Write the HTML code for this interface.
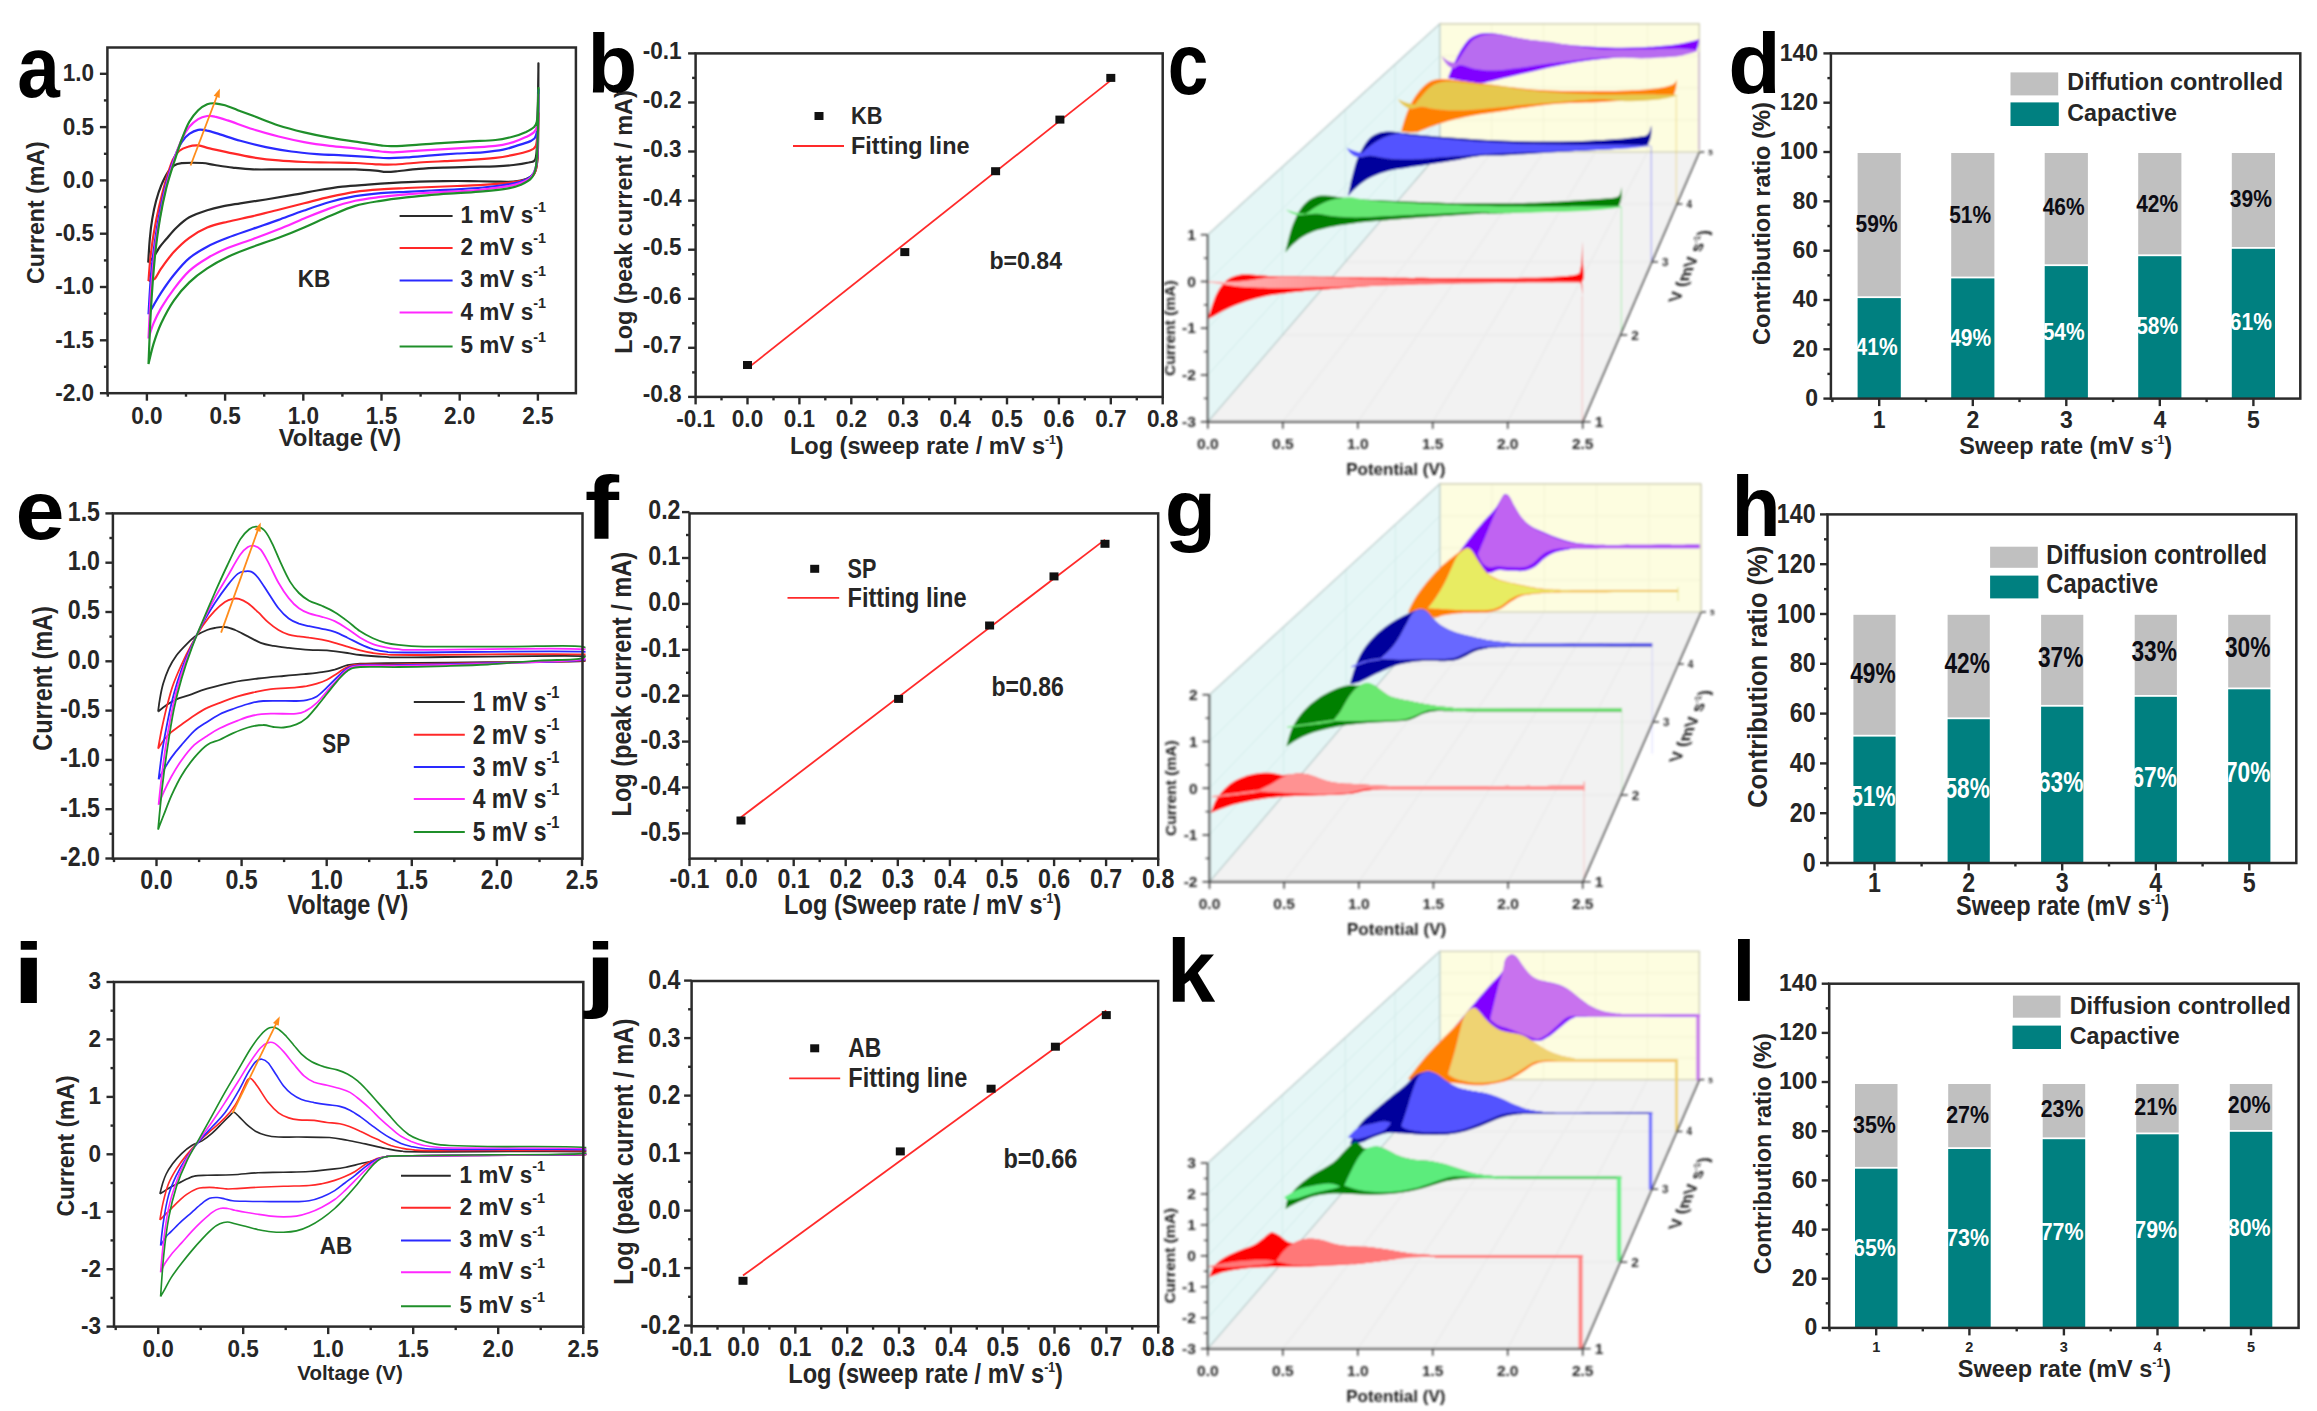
<!DOCTYPE html>
<html lang="en"><head><meta charset="utf-8"><title>Figure</title>
<style>html,body{margin:0;padding:0;background:#fff}svg{display:block}</style></head>
<body>
<svg width="2317" height="1411" viewBox="0 0 2317 1411" font-family="'Liberation Sans', Arial, sans-serif">
<defs><filter id="soft" filterUnits="userSpaceOnUse" x="1140" y="0" width="620" height="1411"><feGaussianBlur stdDeviation="1.1"/></filter><linearGradient id="pinkgrad" x1="0" y1="0" x2="1" y2="0"><stop offset="0" stop-color="#ffb4b4"/><stop offset="0.35" stop-color="#ff9090"/><stop offset="1" stop-color="#ff3c3c"/></linearGradient></defs>
<rect width="2317" height="1411" fill="#ffffff"/>
<clipPath id="ca"><rect x="107.4" y="42.5" width="471.5" height="350.7"/></clipPath>
<g clip-path="url(#ca)" fill="none" stroke-width="2.2" stroke-linejoin="round">
<path d="M148.2,262.5C148.5,258.6 149.1,246.3 149.8,239C150.4,231.7 151.2,225 152.3,218.6C153.4,212.2 154.6,206.3 156.1,200.8C157.6,195.2 159.3,190.1 161.2,185.4C163.2,180.8 165.5,176 167.6,172.7C169.7,169.4 171.7,167.1 174,165.5C176.3,164 177,163.7 181.7,163.2C186.3,162.8 196.5,162.7 202.1,163C207.6,163.3 209.7,164.3 214.8,165C219.9,165.8 226.3,166.9 232.7,167.6C239.1,168.3 245.4,169.1 253.1,169.4C260.8,169.7 270.1,169.4 278.6,169.4C287.1,169.4 295.6,169.4 304.1,169.4C312.6,169.4 321.1,169.4 329.7,169.4C338.2,169.4 347.5,169.2 355.2,169.4C362.8,169.6 370.5,170.2 375.6,170.6C380.7,171.1 382.4,171.8 385.8,171.9C389.2,172 390.5,171.9 396,171.4C401.5,170.9 410.9,169.5 419,168.9C427,168.2 436,167.9 444.5,167.6C453,167.2 461.5,167 470,166.8C478.5,166.6 488.3,166.6 495.5,166.3C502.7,166 507.8,165.7 513.4,165C518.9,164.4 525,163.4 528.7,162.5C532.3,161.5 533.9,162.8 535.3,159.4C536.7,156 536.7,151.3 537.1,142.1C537.5,132.8 537.7,115.8 537.9,103.8C538.1,91.8 538.3,75.7 538.4,70.1C538.5,64.5 538.4,58.1 538.4,70.1C538.3,82.1 538.3,126.7 538.1,142.1C537.9,157.5 537.7,157.3 537.1,162.5C536.5,167.7 536.1,170.4 534.3,173.2C532.5,176 529.6,177.7 526.1,179.1C522.6,180.5 518.5,181.2 513.4,181.6C508.3,182 502.7,181.7 495.5,181.6C488.3,181.5 478.5,181.2 470,181.1C461.5,181 453,181 444.5,181.1C436,181.2 427.5,181.3 419,181.6C410.5,181.9 401.9,182.4 393.4,182.9C384.9,183.4 376.4,184 367.9,184.7C359.4,185.3 350.9,185.7 342.4,186.7C333.9,187.7 325.4,189.1 316.9,190.5C308.4,192 299.9,193.7 291.4,195.1C282.9,196.6 274.4,198.1 265.9,199.5C257.4,200.8 247.6,202.2 240.3,203.3C233.1,204.5 228,205.2 222.5,206.4C217,207.5 212.7,208.4 207.2,210.2C201.6,212 194.4,214.4 189.3,217.3C184.2,220.2 180.4,223.9 176.6,227.5C172.7,231.2 169.1,235.8 166.3,239C163.6,242.2 162.1,243.7 160,246.7C157.8,249.7 155.5,254.3 153.6,256.9C151.6,259.5 149.1,261.6 148.2,262.5" stroke="#2a2a2a"/>
<path d="M148.5,281.1C148.8,277.1 149.6,265.2 150.5,256.9C151.5,248.6 152.6,239.9 154.1,231.4C155.5,222.9 157.2,214.4 159.2,205.9C161.2,197.4 163.6,188 165.8,180.3C168.1,172.7 170.5,164.8 172.7,159.9C174.9,155 176.6,153.2 179.1,151C181.7,148.8 184.8,147.6 188,146.7C191.2,145.7 194.6,145.1 198.2,145.4C201.9,145.7 204.8,147.3 209.7,148.4C214.6,149.6 220.4,150.8 227.6,152.3C234.8,153.8 244.6,156 253.1,157.4C261.6,158.7 270.1,159.7 278.6,160.4C287.1,161.2 295.6,161.6 304.1,162C312.6,162.3 321.1,162.3 329.7,162.5C338.2,162.7 347.5,162.7 355.2,163C362.8,163.3 369.2,164 375.6,164.3C382,164.5 386.2,164.8 393.4,164.5C400.7,164.2 410.5,163 419,162.5C427.5,161.9 436,161.6 444.5,161.2C453,160.8 461.5,160.5 470,159.9C478.5,159.4 488.3,158.7 495.5,157.9C502.7,157 507.8,156 513.4,154.8C518.9,153.7 524.9,152.5 528.7,151C532.4,149.5 534.3,149.5 535.8,145.9C537.3,142.3 537.2,134.2 537.6,129.3C538,124.4 538.2,118.7 538.4,116.6C538.5,114.4 538.5,110.2 538.4,116.6C538.2,122.9 538,145.9 537.6,154.8C537.2,163.8 536.9,166.4 535.8,170.1C534.8,173.9 533.7,175.5 531.2,177.3C528.8,179.1 524.9,179.9 521,180.9C517.2,181.8 514.6,182.2 508.3,182.9C501.9,183.6 491.3,184.4 482.8,184.9C474.2,185.4 465.7,185.6 457.2,186C448.7,186.3 440.2,186.6 431.7,187C423.2,187.3 414.7,187.6 406.2,188C397.7,188.4 389.2,188.6 380.7,189.3C372.2,189.9 363.7,190.5 355.2,191.8C346.7,193.1 338.2,195 329.7,196.9C321.1,198.8 312.6,201.2 304.1,203.3C295.6,205.4 287.1,207.6 278.6,209.7C270.1,211.8 261.6,214.1 253.1,216.1C244.6,218.1 235.2,219.8 227.6,221.7C219.9,223.6 213.5,224.9 207.2,227.5C200.8,230.2 194.8,233.7 189.3,237.8C183.8,241.8 178.7,246.7 174,251.8C169.3,256.9 164.4,263.9 161.2,268.4C158.1,272.8 157,276.5 154.9,278.6C152.7,280.7 149.5,280.7 148.5,281.1" stroke="#ff2828"/>
<path d="M148.5,314.3C148.9,307.7 150,286.9 151,274.8C152.1,262.6 153.4,252.2 154.9,241.6C156.3,231 158.1,220.7 160,211C161.9,201.2 164,191.6 166.3,182.9C168.7,174.2 171.4,165.5 174,158.7C176.6,151.8 179.1,146.2 181.7,142.1C184.2,137.9 186.5,135.9 189.3,133.9C192.1,131.9 195.3,130.4 198.2,129.8C201.2,129.3 203.6,129.8 207.2,130.6C210.8,131.3 214.4,132.7 219.9,134.4C225.5,136.1 232.7,138.7 240.3,140.8C248,142.9 257.4,145.4 265.9,147.2C274.4,149 282.9,150.4 291.4,151.5C299.9,152.7 308.4,153.4 316.9,154.1C325.4,154.7 333.9,154.9 342.4,155.3C350.9,155.8 360.3,156.4 367.9,156.9C375.6,157.3 382,158.1 388.3,158.1C394.7,158.2 399,157.8 406.2,157.4C413.4,156.9 423.2,156 431.7,155.3C440.2,154.7 448.7,154.1 457.2,153.5C465.7,153 475.1,152.9 482.8,152.3C490.4,151.6 497.2,150.9 503.2,149.7C509.1,148.5 513.8,146.6 518.5,145.1C523.2,143.6 528.3,142.6 531.2,140.8C534.2,139 535.2,138.5 536.3,134.4C537.4,130.4 537.5,123.1 537.9,116.6C538.2,110 538.3,98.5 538.4,94.9C538.5,91.2 538.5,85.7 538.4,94.9C538.2,104 538,137.6 537.6,149.7C537.2,161.8 536.9,163.2 535.8,167.6C534.8,172 533.7,173.9 531.2,176.3C528.8,178.6 524.9,180.3 521,181.6C517.2,183 514.6,183.4 508.3,184.4C501.9,185.4 491.3,186.7 482.8,187.5C474.2,188.3 465.7,188.8 457.2,189.3C448.7,189.8 440.2,190.1 431.7,190.5C423.2,191 414.7,191.4 406.2,191.8C397.7,192.2 389.2,192.4 380.7,193.1C372.2,193.8 363.7,194.7 355.2,196.2C346.7,197.7 338.2,199.6 329.7,202C321.1,204.4 312.6,207.5 304.1,210.5C295.6,213.4 287.1,216.8 278.6,219.9C270.1,223 261.6,225.8 253.1,228.8C244.6,231.8 235.2,234.8 227.6,237.8C219.9,240.7 213.5,243.3 207.2,246.7C200.8,250.1 194.8,253.5 189.3,258.2C183.8,262.8 178.7,269 174,274.8C169.3,280.5 164.6,287.5 161.2,292.6C157.8,297.7 155.7,301.8 153.6,305.4C151.5,309 149.3,312.8 148.5,314.3" stroke="#2a2aff"/>
<path d="M148.5,338.5C148.9,330.5 150,304.9 151,290.1C152.1,275.2 153.4,261.6 154.9,249.2C156.3,236.9 158.1,226.7 160,216.1C161.9,205.4 164,194.8 166.3,185.4C168.7,176.1 171.4,167.6 174,159.9C176.6,152.3 179.1,145 181.7,139.5C184.2,134 186.5,130.2 189.3,126.8C192.1,123.4 195.3,120.9 198.2,119.1C201.2,117.3 204.4,116.5 207.2,116C209.9,115.6 211.4,115.8 214.8,116.6C218.2,117.3 221.2,118.3 227.6,120.4C234,122.5 244.6,126.6 253.1,129.3C261.6,132 270.1,134.3 278.6,136.5C287.1,138.6 295.6,140.5 304.1,142.1C312.6,143.6 321.1,144.8 329.7,145.9C338.2,147 346.7,147.5 355.2,148.4C363.7,149.4 374.3,150.9 380.7,151.5C387.1,152.1 387.1,152.4 393.4,152.3C399.8,152.1 410.5,151.3 419,150.7C427.5,150.2 436,149.7 444.5,149.2C453,148.7 461.5,148.2 470,147.7C478.5,147.1 488.3,146.8 495.5,145.9C502.7,145 508.3,143.6 513.4,142.1C518.5,140.6 522.7,138.6 526.1,137C529.5,135.3 532,134.1 533.8,132.4C535.6,130.7 536.2,130.2 536.8,126.8C537.5,123.3 537.6,116.1 537.9,111.4C538.1,106.8 538.3,100.8 538.4,98.7C538.5,96.6 538.5,90.6 538.4,98.7C538.2,106.8 538,135.7 537.6,147.2C537.2,158.7 536.9,162.6 535.8,167.6C534.8,172.6 533.7,174.5 531.2,177C528.8,179.6 524.9,181.4 521,182.9C517.2,184.4 514.6,185.1 508.3,186.2C501.9,187.3 491.3,188.7 482.8,189.5C474.2,190.4 465.7,190.8 457.2,191.3C448.7,191.8 440.2,192.1 431.7,192.6C423.2,193.1 414.7,193.7 406.2,194.4C397.7,195.1 389.2,195.9 380.7,196.9C372.2,198 363.7,198.8 355.2,200.8C346.7,202.7 338.2,205.4 329.7,208.4C321.1,211.4 312.6,215.1 304.1,218.6C295.6,222.1 287.1,225.9 278.6,229.3C270.1,232.7 261.6,235.9 253.1,239C244.6,242.1 235.2,244.8 227.6,248C219.9,251.2 213.5,254.3 207.2,258.2C200.8,262 194.8,265.8 189.3,270.9C183.8,276 178.7,282.6 174,288.8C169.3,295 164.6,302.2 161.2,307.9C157.8,313.7 155.7,318.1 153.6,323.2C151.5,328.3 149.3,336 148.5,338.5" stroke="#ff28ff"/>
<path d="M148.5,364.1C148.9,354.7 150,325.8 151,307.9C152.1,290.1 153.4,271.8 154.9,256.9C156.3,242 158.1,230.1 160,218.6C161.9,207.1 164,197.4 166.3,188C168.7,178.6 171.4,170.6 174,162.5C176.6,154.4 179.1,146.3 181.7,139.5C184.2,132.7 186.5,126.5 189.3,121.7C192.1,116.8 195.3,113.1 198.2,110.2C201.2,107.3 204.4,105.5 207.2,104.3C209.9,103.2 211.8,103.1 214.8,103.3C217.8,103.5 221.2,104.2 225,105.3C228.9,106.5 233.1,108.4 237.8,110.2C242.5,111.9 246.3,113.2 253.1,115.8C259.9,118.3 270.1,122.7 278.6,125.5C287.1,128.2 295.6,130.3 304.1,132.4C312.6,134.4 321.1,136.2 329.7,137.7C338.2,139.3 346.7,140.3 355.2,141.6C363.7,142.8 374.3,144.6 380.7,145.4C387.1,146.1 387.1,146.3 393.4,146.1C399.8,146 410.5,145.2 419,144.6C427.5,144.1 436,143.4 444.5,142.8C453,142.3 461.5,141.8 470,141.3C478.5,140.8 488.3,140.8 495.5,140C502.7,139.2 508.3,137.8 513.4,136.5C518.5,135.1 522.7,133.4 526.1,131.9C529.5,130.3 532,129 533.8,127.3C535.6,125.6 536.2,125.1 536.8,121.7C537.5,118.2 537.6,111.2 537.9,106.3C538.1,101.5 538.3,94.6 538.4,92.3C538.5,90 538.5,84 538.4,92.3C538.2,100.6 538,129.5 537.6,142.1C537.2,154.6 536.9,161.5 535.8,167.6C534.8,173.6 533.7,175.5 531.2,178.3C528.8,181.1 524.9,183 521,184.7C517.2,186.3 514.6,187.1 508.3,188.3C501.9,189.4 491.3,190.5 482.8,191.3C474.2,192.1 465.7,192.5 457.2,193.1C448.7,193.7 440.2,194.2 431.7,194.9C423.2,195.6 414.7,196.5 406.2,197.4C397.7,198.4 389.2,199.4 380.7,200.8C372.2,202.2 363.7,203.3 355.2,205.9C346.7,208.4 338.2,212.5 329.7,216.1C321.1,219.7 312.6,223.9 304.1,227.5C295.6,231.2 287.1,234.6 278.6,237.8C270.1,240.9 261.6,243.5 253.1,246.7C244.6,249.9 235.2,253.3 227.6,256.9C219.9,260.5 213.5,264.1 207.2,268.4C200.8,272.6 194.8,277.1 189.3,282.4C183.8,287.7 178.7,293.5 174,300.3C169.3,307.1 164.6,316 161.2,323.2C157.8,330.5 155.7,336.8 153.6,343.6C151.5,350.5 149.3,360.7 148.5,364.1" stroke="#1f8f2a"/>
</g>
<line x1="190.6" y1="165.5" x2="217.4" y2="95" stroke="#ff8c1a" stroke-width="1.8" />
<path d="M219.9,88.5 L219.7,98 L213.7,95.8 Z" fill="#ff8c1a"/>
<rect x="107.4" y="47.5" width="468.5" height="345.7" fill="none" stroke="#2b2b2b" stroke-width="2.5"/>
<line x1="99.9" y1="73.8" x2="107.4" y2="73.8" stroke="#2b2b2b" stroke-width="2.4" />
<text transform="translate(94,81.2) scale(0.96,1)" font-size="23.5" text-anchor="end" font-weight="bold" fill="#262626" >1.0</text>
<line x1="99.9" y1="127.1" x2="107.4" y2="127.1" stroke="#2b2b2b" stroke-width="2.4" />
<text transform="translate(94,134.5) scale(0.96,1)" font-size="23.5" text-anchor="end" font-weight="bold" fill="#262626" >0.5</text>
<line x1="99.9" y1="180.4" x2="107.4" y2="180.4" stroke="#2b2b2b" stroke-width="2.4" />
<text transform="translate(94,187.8) scale(0.96,1)" font-size="23.5" text-anchor="end" font-weight="bold" fill="#262626" >0.0</text>
<line x1="99.9" y1="233.7" x2="107.4" y2="233.7" stroke="#2b2b2b" stroke-width="2.4" />
<text transform="translate(94,241.1) scale(0.96,1)" font-size="23.5" text-anchor="end" font-weight="bold" fill="#262626" >-0.5</text>
<line x1="99.9" y1="287" x2="107.4" y2="287" stroke="#2b2b2b" stroke-width="2.4" />
<text transform="translate(94,294.4) scale(0.96,1)" font-size="23.5" text-anchor="end" font-weight="bold" fill="#262626" >-1.0</text>
<line x1="99.9" y1="340.3" x2="107.4" y2="340.3" stroke="#2b2b2b" stroke-width="2.4" />
<text transform="translate(94,347.7) scale(0.96,1)" font-size="23.5" text-anchor="end" font-weight="bold" fill="#262626" >-1.5</text>
<line x1="99.9" y1="393.2" x2="107.4" y2="393.2" stroke="#2b2b2b" stroke-width="2.4" />
<text transform="translate(94,400.6) scale(0.96,1)" font-size="23.5" text-anchor="end" font-weight="bold" fill="#262626" >-2.0</text>
<line x1="103.9" y1="100.4" x2="107.4" y2="100.4" stroke="#2b2b2b" stroke-width="2.4" />
<line x1="103.9" y1="153.8" x2="107.4" y2="153.8" stroke="#2b2b2b" stroke-width="2.4" />
<line x1="103.9" y1="207.1" x2="107.4" y2="207.1" stroke="#2b2b2b" stroke-width="2.4" />
<line x1="103.9" y1="260.4" x2="107.4" y2="260.4" stroke="#2b2b2b" stroke-width="2.4" />
<line x1="103.9" y1="313.6" x2="107.4" y2="313.6" stroke="#2b2b2b" stroke-width="2.4" />
<line x1="103.9" y1="366.8" x2="107.4" y2="366.8" stroke="#2b2b2b" stroke-width="2.4" />
<line x1="146.9" y1="393.2" x2="146.9" y2="400.7" stroke="#2b2b2b" stroke-width="2.4" />
<text transform="translate(146.9,423.5) scale(0.96,1)" font-size="23.5" text-anchor="middle" font-weight="bold" fill="#262626" >0.0</text>
<line x1="225.1" y1="393.2" x2="225.1" y2="400.7" stroke="#2b2b2b" stroke-width="2.4" />
<text transform="translate(225.1,423.5) scale(0.96,1)" font-size="23.5" text-anchor="middle" font-weight="bold" fill="#262626" >0.5</text>
<line x1="303.3" y1="393.2" x2="303.3" y2="400.7" stroke="#2b2b2b" stroke-width="2.4" />
<text transform="translate(303.3,423.5) scale(0.96,1)" font-size="23.5" text-anchor="middle" font-weight="bold" fill="#262626" >1.0</text>
<line x1="381.5" y1="393.2" x2="381.5" y2="400.7" stroke="#2b2b2b" stroke-width="2.4" />
<text transform="translate(381.5,423.5) scale(0.96,1)" font-size="23.5" text-anchor="middle" font-weight="bold" fill="#262626" >1.5</text>
<line x1="459.7" y1="393.2" x2="459.7" y2="400.7" stroke="#2b2b2b" stroke-width="2.4" />
<text transform="translate(459.7,423.5) scale(0.96,1)" font-size="23.5" text-anchor="middle" font-weight="bold" fill="#262626" >2.0</text>
<line x1="537.9" y1="393.2" x2="537.9" y2="400.7" stroke="#2b2b2b" stroke-width="2.4" />
<text transform="translate(537.9,423.5) scale(0.96,1)" font-size="23.5" text-anchor="middle" font-weight="bold" fill="#262626" >2.5</text>
<line x1="186" y1="393.2" x2="186" y2="396.7" stroke="#2b2b2b" stroke-width="2.4" />
<line x1="264.2" y1="393.2" x2="264.2" y2="396.7" stroke="#2b2b2b" stroke-width="2.4" />
<line x1="342.4" y1="393.2" x2="342.4" y2="396.7" stroke="#2b2b2b" stroke-width="2.4" />
<line x1="420.6" y1="393.2" x2="420.6" y2="396.7" stroke="#2b2b2b" stroke-width="2.4" />
<line x1="498.8" y1="393.2" x2="498.8" y2="396.7" stroke="#2b2b2b" stroke-width="2.4" />
<line x1="107.8" y1="393.2" x2="107.8" y2="396.7" stroke="#2b2b2b" stroke-width="2.4" />
<text transform="translate(340,445.6)" font-size="23.5" text-anchor="middle" font-weight="bold" fill="#262626" textLength="122.5" lengthAdjust="spacingAndGlyphs">Voltage (V)</text>
<text transform="translate(44,212.6) rotate(-90)" font-size="23.5" text-anchor="middle" font-weight="bold" fill="#262626" textLength="142.8" lengthAdjust="spacingAndGlyphs">Current (mA)</text>
<line x1="399.6" y1="216.1" x2="452.6" y2="216.1" stroke="#2a2a2a" stroke-width="2.0" />
<text transform="translate(460.5,223) scale(0.96,1)" font-size="23.5" text-anchor="start" font-weight="bold" fill="#262626" >1 mV s<tspan dy="-0.76em" font-size="0.64em">-1</tspan></text>
<line x1="399.6" y1="248" x2="452.6" y2="248" stroke="#ff2828" stroke-width="2.0" />
<text transform="translate(460.5,254.9) scale(0.96,1)" font-size="23.5" text-anchor="start" font-weight="bold" fill="#262626" >2 mV s<tspan dy="-0.76em" font-size="0.64em">-1</tspan></text>
<line x1="399.6" y1="280.5" x2="452.6" y2="280.5" stroke="#2a2aff" stroke-width="2.0" />
<text transform="translate(460.5,287.4) scale(0.96,1)" font-size="23.5" text-anchor="start" font-weight="bold" fill="#262626" >3 mV s<tspan dy="-0.76em" font-size="0.64em">-1</tspan></text>
<line x1="399.6" y1="312.6" x2="452.6" y2="312.6" stroke="#ff28ff" stroke-width="2.0" />
<text transform="translate(460.5,319.5) scale(0.96,1)" font-size="23.5" text-anchor="start" font-weight="bold" fill="#262626" >4 mV s<tspan dy="-0.76em" font-size="0.64em">-1</tspan></text>
<line x1="399.6" y1="346.4" x2="452.6" y2="346.4" stroke="#1f8f2a" stroke-width="2.0" />
<text transform="translate(460.5,353.3) scale(0.96,1)" font-size="23.5" text-anchor="start" font-weight="bold" fill="#262626" >5 mV s<tspan dy="-0.76em" font-size="0.64em">-1</tspan></text>
<text transform="translate(314,287) scale(0.96,1)" font-size="23.5" text-anchor="middle" font-weight="bold" fill="#262626" >KB</text>
<text transform="translate(38.6,97.2) scale(0.88,1)" font-size="87" text-anchor="middle" font-weight="bold" fill="#000" >a</text>
<rect x="695.6" y="53.4" width="467.1" height="343.5" fill="none" stroke="#2b2b2b" stroke-width="2.5"/>
<line x1="688.1" y1="53.4" x2="695.6" y2="53.4" stroke="#2b2b2b" stroke-width="2.4" />
<text transform="translate(681.6,58.6) scale(0.96,1)" font-size="23.5" text-anchor="end" font-weight="bold" fill="#262626" >-0.1</text>
<line x1="688.1" y1="102.5" x2="695.6" y2="102.5" stroke="#2b2b2b" stroke-width="2.4" />
<text transform="translate(681.6,107.7) scale(0.96,1)" font-size="23.5" text-anchor="end" font-weight="bold" fill="#262626" >-0.2</text>
<line x1="688.1" y1="151.5" x2="695.6" y2="151.5" stroke="#2b2b2b" stroke-width="2.4" />
<text transform="translate(681.6,156.7) scale(0.96,1)" font-size="23.5" text-anchor="end" font-weight="bold" fill="#262626" >-0.3</text>
<line x1="688.1" y1="200.6" x2="695.6" y2="200.6" stroke="#2b2b2b" stroke-width="2.4" />
<text transform="translate(681.6,205.8) scale(0.96,1)" font-size="23.5" text-anchor="end" font-weight="bold" fill="#262626" >-0.4</text>
<line x1="688.1" y1="249.7" x2="695.6" y2="249.7" stroke="#2b2b2b" stroke-width="2.4" />
<text transform="translate(681.6,254.9) scale(0.96,1)" font-size="23.5" text-anchor="end" font-weight="bold" fill="#262626" >-0.5</text>
<line x1="688.1" y1="298.8" x2="695.6" y2="298.8" stroke="#2b2b2b" stroke-width="2.4" />
<text transform="translate(681.6,304) scale(0.96,1)" font-size="23.5" text-anchor="end" font-weight="bold" fill="#262626" >-0.6</text>
<line x1="688.1" y1="347.8" x2="695.6" y2="347.8" stroke="#2b2b2b" stroke-width="2.4" />
<text transform="translate(681.6,353) scale(0.96,1)" font-size="23.5" text-anchor="end" font-weight="bold" fill="#262626" >-0.7</text>
<line x1="688.1" y1="396.9" x2="695.6" y2="396.9" stroke="#2b2b2b" stroke-width="2.4" />
<text transform="translate(681.6,402.1) scale(0.96,1)" font-size="23.5" text-anchor="end" font-weight="bold" fill="#262626" >-0.8</text>
<line x1="692.1" y1="77.9" x2="695.6" y2="77.9" stroke="#2b2b2b" stroke-width="2.4" />
<line x1="692.1" y1="127" x2="695.6" y2="127" stroke="#2b2b2b" stroke-width="2.4" />
<line x1="692.1" y1="176.1" x2="695.6" y2="176.1" stroke="#2b2b2b" stroke-width="2.4" />
<line x1="692.1" y1="225.1" x2="695.6" y2="225.1" stroke="#2b2b2b" stroke-width="2.4" />
<line x1="692.1" y1="274.2" x2="695.6" y2="274.2" stroke="#2b2b2b" stroke-width="2.4" />
<line x1="692.1" y1="323.3" x2="695.6" y2="323.3" stroke="#2b2b2b" stroke-width="2.4" />
<line x1="692.1" y1="372.4" x2="695.6" y2="372.4" stroke="#2b2b2b" stroke-width="2.4" />
<line x1="695.6" y1="396.9" x2="695.6" y2="404.4" stroke="#2b2b2b" stroke-width="2.4" />
<text transform="translate(695.6,427) scale(0.96,1)" font-size="23.5" text-anchor="middle" font-weight="bold" fill="#262626" >-0.1</text>
<line x1="747.5" y1="396.9" x2="747.5" y2="404.4" stroke="#2b2b2b" stroke-width="2.4" />
<text transform="translate(747.5,427) scale(0.96,1)" font-size="23.5" text-anchor="middle" font-weight="bold" fill="#262626" >0.0</text>
<line x1="799.4" y1="396.9" x2="799.4" y2="404.4" stroke="#2b2b2b" stroke-width="2.4" />
<text transform="translate(799.4,427) scale(0.96,1)" font-size="23.5" text-anchor="middle" font-weight="bold" fill="#262626" >0.1</text>
<line x1="851.3" y1="396.9" x2="851.3" y2="404.4" stroke="#2b2b2b" stroke-width="2.4" />
<text transform="translate(851.3,427) scale(0.96,1)" font-size="23.5" text-anchor="middle" font-weight="bold" fill="#262626" >0.2</text>
<line x1="903.2" y1="396.9" x2="903.2" y2="404.4" stroke="#2b2b2b" stroke-width="2.4" />
<text transform="translate(903.2,427) scale(0.96,1)" font-size="23.5" text-anchor="middle" font-weight="bold" fill="#262626" >0.3</text>
<line x1="955.1" y1="396.9" x2="955.1" y2="404.4" stroke="#2b2b2b" stroke-width="2.4" />
<text transform="translate(955.1,427) scale(0.96,1)" font-size="23.5" text-anchor="middle" font-weight="bold" fill="#262626" >0.4</text>
<line x1="1007" y1="396.9" x2="1007" y2="404.4" stroke="#2b2b2b" stroke-width="2.4" />
<text transform="translate(1007,427) scale(0.96,1)" font-size="23.5" text-anchor="middle" font-weight="bold" fill="#262626" >0.5</text>
<line x1="1058.9" y1="396.9" x2="1058.9" y2="404.4" stroke="#2b2b2b" stroke-width="2.4" />
<text transform="translate(1058.9,427) scale(0.96,1)" font-size="23.5" text-anchor="middle" font-weight="bold" fill="#262626" >0.6</text>
<line x1="1110.8" y1="396.9" x2="1110.8" y2="404.4" stroke="#2b2b2b" stroke-width="2.4" />
<text transform="translate(1110.8,427) scale(0.96,1)" font-size="23.5" text-anchor="middle" font-weight="bold" fill="#262626" >0.7</text>
<line x1="1162.7" y1="396.9" x2="1162.7" y2="404.4" stroke="#2b2b2b" stroke-width="2.4" />
<text transform="translate(1162.7,427) scale(0.96,1)" font-size="23.5" text-anchor="middle" font-weight="bold" fill="#262626" >0.8</text>
<line x1="721.5" y1="396.9" x2="721.5" y2="400.4" stroke="#2b2b2b" stroke-width="2.4" />
<line x1="773.5" y1="396.9" x2="773.5" y2="400.4" stroke="#2b2b2b" stroke-width="2.4" />
<line x1="825.3" y1="396.9" x2="825.3" y2="400.4" stroke="#2b2b2b" stroke-width="2.4" />
<line x1="877.2" y1="396.9" x2="877.2" y2="400.4" stroke="#2b2b2b" stroke-width="2.4" />
<line x1="929.2" y1="396.9" x2="929.2" y2="400.4" stroke="#2b2b2b" stroke-width="2.4" />
<line x1="981" y1="396.9" x2="981" y2="400.4" stroke="#2b2b2b" stroke-width="2.4" />
<line x1="1033" y1="396.9" x2="1033" y2="400.4" stroke="#2b2b2b" stroke-width="2.4" />
<line x1="1084.8" y1="396.9" x2="1084.8" y2="400.4" stroke="#2b2b2b" stroke-width="2.4" />
<line x1="1136.8" y1="396.9" x2="1136.8" y2="400.4" stroke="#2b2b2b" stroke-width="2.4" />
<line x1="747.5" y1="368.4" x2="1110.8" y2="80.4" stroke="#ff2a2a" stroke-width="1.8" />
<rect x="743" y="361" width="9" height="8" fill="#111"/>
<rect x="900.3" y="248.1" width="9" height="8" fill="#111"/>
<rect x="991.1" y="167.2" width="9" height="8" fill="#111"/>
<rect x="1055.4" y="115.6" width="9" height="8" fill="#111"/>
<rect x="1106.3" y="73.9" width="9" height="8" fill="#111"/>
<rect x="814.5" y="112" width="9" height="8" fill="#111"/>
<text transform="translate(851,123.8)" font-size="23.5" text-anchor="start" font-weight="bold" fill="#262626" textLength="31.5" lengthAdjust="spacingAndGlyphs">KB</text>
<line x1="793" y1="146" x2="844" y2="146" stroke="#ff2a2a" stroke-width="1.8" />
<text transform="translate(851,153.8)" font-size="23.5" text-anchor="start" font-weight="bold" fill="#262626" textLength="118.5" lengthAdjust="spacingAndGlyphs">Fitting line</text>
<text transform="translate(989.5,268.5)" font-size="23.5" text-anchor="start" font-weight="bold" fill="#262626" textLength="72.5" lengthAdjust="spacingAndGlyphs">b=0.84</text>
<text transform="translate(926.8,454)" font-size="23.5" text-anchor="middle" font-weight="bold" fill="#262626" textLength="273.8" lengthAdjust="spacingAndGlyphs">Log (sweep rate / mV s<tspan dy="-0.8em" font-size="0.52em">-1</tspan><tspan dy="0.416em">)</tspan></text>
<text transform="translate(632,221.9) rotate(-90)" font-size="23.5" text-anchor="middle" font-weight="bold" fill="#262626" textLength="263.6" lengthAdjust="spacingAndGlyphs">Log (peak current / mA)</text>
<text transform="translate(612.5,92.5) scale(0.97,1)" font-size="84" text-anchor="middle" font-weight="bold" fill="#000" >b</text>
<g id="p3c" filter="url(#soft)">
<path d="M1207.8,421.8L1582.7,421.8L1699.3,152L1439.8,152 Z" fill="#f2f2f2"/>
<path d="M1207.8,421.8L1207.8,234.7L1439.8,23.8L1439.8,152 Z" fill="#e5f6f6"/>
<path d="M1439.8,152L1439.8,23.8L1699.3,23.8L1699.3,152 Z" fill="#fdfde0"/>
<line x1="1207.8" y1="421.8" x2="1439.8" y2="152" stroke="#e8e8e8" stroke-width="1" />
<line x1="1439.8" y1="152" x2="1439.8" y2="23.8" stroke="#f3f3d4" stroke-width="1" />
<line x1="1282.8" y1="421.8" x2="1491.7" y2="152" stroke="#e8e8e8" stroke-width="1" />
<line x1="1491.7" y1="152" x2="1491.7" y2="23.8" stroke="#f3f3d4" stroke-width="1" />
<line x1="1357.8" y1="421.8" x2="1543.6" y2="152" stroke="#e8e8e8" stroke-width="1" />
<line x1="1543.6" y1="152" x2="1543.6" y2="23.8" stroke="#f3f3d4" stroke-width="1" />
<line x1="1432.7" y1="421.8" x2="1595.5" y2="152" stroke="#e8e8e8" stroke-width="1" />
<line x1="1595.5" y1="152" x2="1595.5" y2="23.8" stroke="#f3f3d4" stroke-width="1" />
<line x1="1507.7" y1="421.8" x2="1647.4" y2="152" stroke="#e8e8e8" stroke-width="1" />
<line x1="1647.4" y1="152" x2="1647.4" y2="23.8" stroke="#f3f3d4" stroke-width="1" />
<line x1="1582.7" y1="421.8" x2="1699.3" y2="152" stroke="#e8e8e8" stroke-width="1" />
<line x1="1699.3" y1="152" x2="1699.3" y2="23.8" stroke="#f3f3d4" stroke-width="1" />
<line x1="1207.8" y1="421.8" x2="1582.7" y2="421.8" stroke="#e9e9e9" stroke-width="1" />
<line x1="1207.8" y1="421.8" x2="1207.8" y2="234.7" stroke="#d3ecea" stroke-width="1" />
<line x1="1282.4" y1="335" x2="1620.2" y2="335" stroke="#e9e9e9" stroke-width="1" />
<line x1="1282.4" y1="335" x2="1282.4" y2="166.9" stroke="#d3ecea" stroke-width="1" />
<line x1="1345.3" y1="261.9" x2="1651.8" y2="261.9" stroke="#e9e9e9" stroke-width="1" />
<line x1="1345.3" y1="261.9" x2="1345.3" y2="109.7" stroke="#d3ecea" stroke-width="1" />
<line x1="1395.1" y1="204" x2="1676.8" y2="204" stroke="#e9e9e9" stroke-width="1" />
<line x1="1395.1" y1="204" x2="1395.1" y2="64.4" stroke="#d3ecea" stroke-width="1" />
<line x1="1439.8" y1="152" x2="1699.3" y2="152" stroke="#e9e9e9" stroke-width="1" />
<line x1="1439.8" y1="152" x2="1439.8" y2="23.8" stroke="#d3ecea" stroke-width="1" />
<line x1="1207.8" y1="234.7" x2="1439.8" y2="23.8" stroke="#d3ecea" stroke-width="1" />
<line x1="1439.8" y1="23.8" x2="1699.3" y2="23.8" stroke="#f3f3d4" stroke-width="1" />
<line x1="1207.8" y1="281.5" x2="1439.8" y2="55.8" stroke="#d3ecea" stroke-width="1" />
<line x1="1439.8" y1="55.8" x2="1699.3" y2="55.8" stroke="#f3f3d4" stroke-width="1" />
<line x1="1207.8" y1="328.2" x2="1439.8" y2="87.9" stroke="#d3ecea" stroke-width="1" />
<line x1="1439.8" y1="87.9" x2="1699.3" y2="87.9" stroke="#f3f3d4" stroke-width="1" />
<line x1="1207.8" y1="375" x2="1439.8" y2="119.9" stroke="#d3ecea" stroke-width="1" />
<line x1="1439.8" y1="119.9" x2="1699.3" y2="119.9" stroke="#f3f3d4" stroke-width="1" />
<line x1="1207.8" y1="421.8" x2="1439.8" y2="152" stroke="#d3ecea" stroke-width="1" />
<line x1="1439.8" y1="152" x2="1699.3" y2="152" stroke="#f3f3d4" stroke-width="1" />
<path d="M1207.8,421.8L1207.8,234.7L1439.8,23.8L1439.8,152 Z" fill="none" stroke="#b9c9c8" stroke-width="1.2"/>
<path d="M1439.8,23.8L1699.3,23.8L1699.3,152L1439.8,152" fill="none" stroke="#c9c9b0" stroke-width="1.2"/>
<path d="M1447.9,77.9C1448.5,76.6 1450,72.7 1451.1,70C1452.3,67.2 1453.5,64.3 1454.9,61.5C1456.2,58.6 1457.5,55.8 1459.1,53C1460.7,50.1 1462.7,46.8 1464.4,44.5C1466.2,42.1 1467.8,40.2 1469.7,38.6C1471.7,37 1473.8,35.8 1476.1,34.9C1478.4,34 1480.9,33.6 1483.6,33.3C1486.2,33 1488.5,33 1492.1,33.3C1495.7,33.6 1500.2,34.3 1505,35.2C1509.9,36.1 1516.3,37.7 1521.2,38.6C1526.1,39.5 1527.9,39.7 1534.7,40.6C1541.4,41.5 1552.6,42.9 1561.6,44C1570.6,45 1579.5,46 1588.5,46.6C1597.5,47.3 1606.5,47.6 1615.5,47.7C1624.4,47.8 1633.4,47.7 1642.4,47.3C1651.4,46.9 1662.6,46 1669.3,45.3C1676.1,44.6 1678.5,44.1 1682.8,43.3C1687.1,42.5 1692.2,41.3 1694.9,40.6C1697.6,39.9 1698.3,39.2 1698.9,39L1698.9,39C1698.8,40.1 1698.6,44 1698.1,46C1697.6,48 1696.3,50.2 1696,51.1L1696,51.1C1694.9,51.4 1694,52.2 1689.5,52.7C1685.1,53.2 1677.2,53.8 1669.3,54.3C1661.5,54.9 1651.4,55.5 1642.4,56.1C1633.4,56.7 1624.4,57.1 1615.5,57.8C1606.5,58.6 1597.5,59.3 1588.5,60.5C1579.5,61.7 1570.6,63.4 1561.6,65.1C1552.6,66.8 1543.6,68.9 1534.7,70.9C1525.7,72.9 1516.8,75.1 1507.7,77.2C1498.7,79.4 1484.9,82.7 1480.4,83.8L1480.4,83.8C1477.7,83.4 1469.8,82.1 1464.4,81.1C1459,80.2 1450.7,78.5 1447.9,77.9Z" fill="#8000ff"/>
<path d="M1441.6,56.2C1442.5,56.9 1445.6,59.3 1447.4,60.4C1449.3,61.5 1451.3,62 1452.7,62.5C1454.2,63 1455.4,63.2 1455.9,63.4L1455.9,63.4C1456.6,62.4 1458.8,59.3 1460.2,57.2C1461.6,55.1 1463,53 1464.4,50.8C1465.8,48.7 1467.1,46.4 1468.7,44.5C1470.3,42.5 1472,40.6 1474,39.1C1475.9,37.7 1478.1,36.7 1480.4,35.9C1482.7,35.2 1485.2,34.6 1487.8,34.4C1490.5,34.1 1493.1,34.1 1496.3,34.4C1499.5,34.6 1501.6,35.1 1507,35.9C1512.3,36.8 1521.1,38.7 1528.2,39.7C1535.3,40.6 1542.4,40.8 1549.5,41.8C1556.6,42.8 1562.3,44.3 1570.8,45.5C1579.2,46.8 1588.1,48.6 1600,49.2C1611.9,49.9 1630.8,49.4 1642.4,49.3C1653.9,49.2 1662.6,48.8 1669.3,48.7C1676.1,48.6 1678.5,48.5 1682.8,48.7C1687.1,48.8 1692.4,49.3 1694.9,49.7C1697.4,50.1 1697.4,50.9 1697.9,51.1L1697.9,51.1C1695.4,51.8 1687.5,54.4 1682.8,55.4C1678,56.4 1676.1,56.5 1669.3,57C1662.6,57.5 1653.9,58.2 1642.4,58.4C1630.8,58.5 1611.9,57.3 1600,57.7C1588.1,58.2 1579.2,60 1570.8,60.9C1562.3,61.9 1556.6,62.6 1549.5,63.6C1542.4,64.6 1535.3,65.8 1528.2,66.8C1521.1,67.8 1513.2,68.8 1507,69.4C1500.8,70.1 1496.3,70.6 1491,70.5C1485.7,70.4 1479.5,69.7 1475.1,68.9C1470.6,68.1 1467.1,66.3 1464.4,65.7C1461.8,65.1 1460.9,64.7 1459.1,65.2C1457.3,65.6 1454.7,67.8 1453.8,68.4L1453.8,68.4C1453.1,68.1 1451,67.8 1449.5,66.8C1448.1,65.8 1446.6,64.3 1445.3,62.5C1444,60.8 1442.2,57.2 1441.6,56.2Z" fill="#b86cf0" fill-opacity="1.0"/>
<line x1="1698.7" y1="52" x2="1698.7" y2="149.7" stroke="#b070f0" stroke-width="1.2" stroke-opacity="0.45"/>
<path d="M1401.2,131.6C1401.6,130 1402.8,125.3 1403.8,122.1C1404.8,118.9 1405.8,115.7 1407,112.5C1408.3,109.3 1409.7,105.9 1411.3,102.9C1412.9,99.9 1414.8,96.9 1416.6,94.4C1418.4,91.9 1420.1,89.9 1421.9,88C1423.7,86.2 1425.3,84.6 1427.2,83.3C1429.2,81.9 1431.3,80.8 1433.6,80.1C1435.9,79.4 1438.4,79.1 1441,79C1443.7,78.9 1445.2,79.1 1449.5,79.5C1453.9,80 1459.9,80.7 1467.3,81.7C1474.8,82.6 1485.3,83.9 1494.3,85C1503.2,86.1 1512.2,87.5 1521.2,88.4C1530.2,89.3 1539.2,90 1548.1,90.4C1557.1,90.9 1566.1,91 1575.1,91.1C1584,91.2 1593,91.2 1602,91.1C1611,91 1619.9,90.9 1628.9,90.4C1637.9,90 1649.1,89.2 1655.9,88.4C1662.6,87.6 1666.2,86.6 1669.3,85.7C1672.5,84.8 1673.5,84.1 1674.7,83C1676,81.9 1676.5,80 1676.9,79.4L1676.9,79.4C1676.7,80.8 1676.5,85.2 1676.1,87.7C1675.6,90.3 1674.4,93.6 1674,94.7L1674,94.7C1668.8,95.5 1654.4,98 1642.4,99.2C1630.4,100.4 1615.7,101.1 1602,101.9C1588.3,102.6 1572.4,102.6 1560.1,103.5C1547.8,104.4 1537.1,106 1528.2,107.2C1519.4,108.3 1514,109.3 1507,110.4C1499.9,111.4 1492.8,112.4 1485.7,113.6C1478.6,114.7 1470.6,116 1464.4,117.3C1458.2,118.5 1453.8,119.5 1448.5,121C1443.2,122.5 1437.7,124.5 1432.5,126.3C1427.4,128.2 1420.1,131.2 1417.6,132.2L1417.6,132.2C1416.2,132.2 1411.9,132.6 1409.1,132.5C1406.4,132.4 1402.5,131.8 1401.2,131.6Z" fill="#ff8000"/>
<path d="M1398,99.2C1399.3,99.7 1403.4,101.6 1405.9,102.4C1408.5,103.2 1411.9,103.8 1413.4,104.2C1414.8,104.7 1414.5,104.9 1414.7,105.1L1414.7,105.1C1415.3,104.2 1417.1,101.7 1418.7,99.7C1420.3,97.8 1422.3,95.3 1424,93.4C1425.8,91.4 1427.6,89.6 1429.3,88C1431.1,86.5 1432.7,85.3 1434.7,84.3C1436.6,83.4 1438.6,82.7 1441,82.2C1443.5,81.7 1445.6,81.4 1449.5,81.5C1453.4,81.5 1458.4,82.2 1464.4,82.7C1470.5,83.3 1478.6,84.2 1485.7,84.9C1492.8,85.6 1501.6,86.3 1507,87C1512.3,87.7 1510.5,88.2 1517.6,89.1C1524.7,90 1535.8,91.4 1549.5,92.3C1563.2,93.2 1584.5,94.1 1600,94.4C1615.5,94.7 1630.2,94.1 1642.4,94.2C1654.6,94.2 1667.5,94.5 1673.4,94.7C1679.2,95 1677,95.6 1677.7,95.8L1677.7,95.8C1674,96.5 1664,98.9 1655.9,99.8C1647.7,100.7 1638.2,101.3 1628.9,101.2C1619.6,101.1 1611.5,99.1 1600,99.2C1588.5,99.3 1572.1,101 1560.1,101.9C1548.2,102.8 1537.1,103.7 1528.2,104.5C1519.4,105.3 1514,105.9 1507,106.7C1499.9,107.4 1492.8,108.2 1485.7,108.8C1478.6,109.4 1470.6,110.1 1464.4,110.4C1458.2,110.6 1453.8,110.6 1448.5,110.4C1443.2,110.1 1437,109.4 1432.5,108.8C1428.1,108.2 1424.9,106.7 1421.9,106.7C1418.9,106.6 1415.7,108 1414.5,108.3L1414.5,108.3C1413.9,108.3 1412.5,108.9 1411.3,108.8C1410,108.7 1408.6,108.5 1407,107.7C1405.4,106.9 1403.2,105.4 1401.7,104C1400.2,102.6 1398.6,100 1398,99.2Z" fill="#e6c84e" fill-opacity="1.0"/>
<line x1="1676.3" y1="96.5" x2="1676.3" y2="203.5" stroke="#e6c84e" stroke-width="1.2" stroke-opacity="0.5"/>
<path d="M1348.1,196.1C1348.6,193.8 1349.8,186.7 1350.8,182.3C1351.8,177.9 1352.9,173.4 1354,169.5C1355.1,165.6 1355.9,162.1 1357.2,158.9C1358.4,155.7 1360,153.1 1361.4,150.4C1362.9,147.7 1364.1,145.2 1365.7,143C1367.3,140.7 1369.1,138.7 1371,137.1C1373,135.5 1375.1,134.3 1377.4,133.4C1379.7,132.5 1382.2,132.1 1384.8,131.8C1387.5,131.5 1390.4,131.6 1393.3,131.8C1396.2,132 1397.3,132.3 1402.2,132.9C1407.1,133.5 1414.9,134.5 1422.9,135.3C1431,136 1441.4,136.9 1450.6,137.6C1459.8,138.3 1469,138.9 1478.2,139.4C1487.5,139.9 1496.7,140.4 1505.9,140.8C1515.1,141.1 1524.3,141.4 1533.5,141.5C1542.7,141.6 1552,141.6 1561.2,141.5C1570.4,141.4 1579.6,141.2 1588.8,140.8C1598,140.4 1608.4,139.7 1616.5,139.1C1624.5,138.5 1632,137.8 1637.2,137C1642.4,136.3 1645.2,136.5 1647.6,134.6C1649.9,132.6 1650.7,127.1 1651.3,125.6L1651.3,125.6C1651.3,127.3 1651.6,132.7 1651,135.9C1650.5,139.2 1648.5,143.4 1648,144.9L1648,144.9C1642.7,145.5 1630.9,147.5 1616.5,148.7C1602,149.8 1579.6,150.7 1561.2,151.8C1542.7,152.9 1519.4,154.6 1505.9,155.3C1492.4,156 1489.2,155 1480,155.9C1470.8,156.9 1459.2,159.7 1450.8,161C1442.3,162.4 1436.6,163.2 1429.5,164.2C1422.4,165.3 1414.4,166.4 1408.2,167.4C1402,168.4 1397.6,168.8 1392.3,170.1C1387,171.3 1380.8,173.2 1376.3,174.9C1371.9,176.5 1369.2,177.9 1365.7,180.2C1362.1,182.5 1358,186 1355.1,188.7C1352.1,191.3 1349.3,194.9 1348.1,196.1Z" fill="#00009c"/>
<path d="M1346.6,147.7C1347.6,148.2 1350.6,149.6 1352.9,150.4C1355.2,151.2 1358.6,152.1 1360.4,152.5C1362.1,152.9 1363,152.7 1363.6,152.7L1362.7,152.7C1363.2,152.2 1364.3,150.8 1365.7,149.6C1367.1,148.3 1369.2,146.6 1371,145.3C1372.8,144 1374.6,142.7 1376.3,141.6C1378.1,140.4 1379.9,139.3 1381.6,138.4C1383.4,137.5 1385,136.8 1387,136.2C1388.9,135.5 1391,134.9 1393.3,134.5C1395.6,134 1398.2,133.5 1400.8,133.6C1403.4,133.7 1403.1,134.5 1409.1,135.3C1415.1,136 1427.5,137.2 1436.8,138C1446,138.9 1455.2,139.7 1464.4,140.4C1473.6,141.1 1480.5,141.6 1492.1,142.2C1503.6,142.8 1519.7,143.6 1533.5,144C1547.4,144.4 1561.2,144.4 1575,144.5C1588.8,144.6 1605,144.4 1616.5,144.5C1628,144.7 1638.3,145.1 1644.1,145.3C1649.9,145.6 1650.1,145.8 1651.3,145.9L1651.3,145.9C1645.5,146.4 1629.2,148.2 1616.5,149.1C1603.8,149.9 1588.8,150.3 1575,150.9C1561.2,151.4 1545.1,151.9 1533.5,152.3C1522,152.6 1514.8,152.9 1505.9,153.2C1497,153.6 1489.2,153.9 1480,154.4C1470.8,155 1459.2,156.1 1450.8,156.8C1442.3,157.4 1436.6,157.9 1429.5,158.4C1422.4,158.8 1415.3,159.4 1408.2,159.4C1401.1,159.4 1393.2,159 1387,158.4C1380.8,157.8 1375.3,155.9 1371,155.7C1366.8,155.5 1363,157 1361.4,157.3L1361.4,157.3C1360.6,157.2 1357.9,157.4 1356.1,156.8C1354.4,156.2 1352.4,155.1 1350.8,153.6C1349.2,152.1 1347.3,148.7 1346.6,147.7Z" fill="#5252ff" fill-opacity="1.0"/>
<line x1="1651.3" y1="146.3" x2="1651.3" y2="261.9" stroke="#5252ff" stroke-width="1.2" stroke-opacity="0.45"/>
<path d="M1285.4,252.5C1285.9,250.5 1287.1,244.7 1288.1,240.8C1289.1,236.9 1290.1,232.6 1291.3,229.1C1292.4,225.5 1293.7,222.5 1295,219.5C1296.3,216.5 1297.7,213.5 1299.2,211C1300.7,208.5 1302.3,206.5 1304,204.6C1305.7,202.8 1307.4,201.2 1309.3,199.8C1311.3,198.5 1313.4,197.4 1315.7,196.7C1318,195.9 1320.5,195.7 1323.2,195.6C1325.8,195.5 1329.3,195.9 1331.7,196.1C1334,196.4 1333.8,196.7 1337.4,197.1C1340.9,197.5 1345.2,198.1 1353,198.7C1360.7,199.2 1373.7,200 1384.1,200.5C1394.5,201.1 1404.9,201.4 1415.3,201.8C1425.7,202.2 1433.5,202.6 1446.5,202.9C1459.5,203.1 1477.7,203.4 1493.3,203.3C1508.9,203.3 1527.1,202.8 1540,202.4C1553,202 1560.8,201.5 1571.2,200.8C1581.6,200.2 1594.6,199.4 1602.4,198.7C1610.2,198 1614.8,198.5 1618,196.6C1621.2,194.7 1620.9,188.8 1621.4,187.3L1621.4,187.3C1621.4,189.1 1621.9,195 1621.4,198.2C1621,201.4 1619.2,205.1 1618.8,206.5L1618.8,206.5C1608.3,207.2 1576.6,209.4 1555.6,210.7C1534.7,211.9 1505.9,213.3 1493.3,213.8C1480.7,214.3 1488.9,213.2 1480,213.7C1471.1,214.1 1452.1,215.5 1440.1,216.3C1428.2,217.1 1418.9,217.7 1408.2,218.5C1397.6,219.3 1385.2,220.3 1376.3,221.1C1367.5,221.9 1362.1,222.4 1355.1,223.2C1348,224.1 1340,225.3 1333.8,226.4C1327.6,227.6 1322.8,228.6 1317.8,230.1C1312.9,231.7 1308.1,233.7 1304,236C1299.9,238.3 1296.5,241.2 1293.4,244C1290.3,246.7 1286.7,251.1 1285.4,252.5Z" fill="#008000"/>
<path d="M1285.9,209.4C1287.2,209.8 1290.9,211.2 1293.4,211.9C1295.9,212.5 1298.9,213 1300.8,213.3C1302.8,213.7 1304.4,213.6 1305.1,213.7L1305.1,213.9C1305.8,213.4 1307.9,212.3 1309.6,211.2C1311.2,210.2 1313.1,208.7 1314.9,207.6C1316.6,206.5 1318.2,205.4 1320.2,204.4C1322.1,203.4 1324.3,202.4 1326.6,201.5C1328.9,200.7 1331.4,199.9 1334,199.3C1336.7,198.7 1339.7,198.3 1342.5,197.9C1345.3,197.6 1346.7,196.9 1351,197.3C1355.4,197.7 1360.4,199.4 1368.5,200.2C1376.7,201.1 1389.3,201.8 1399.7,202.4C1410.1,203 1420.5,203.5 1430.9,204C1441.3,204.4 1449.1,204.8 1462.1,205.2C1475.1,205.6 1493.3,206.1 1508.9,206.3C1524.5,206.5 1542.6,206.5 1555.6,206.5C1568.6,206.5 1576.4,206.3 1586.8,206.3C1597.2,206.3 1612.2,206.1 1618,206.3C1623.8,206.5 1621.2,207.1 1621.9,207.2L1621.9,207.2C1616.1,207.8 1600.5,209.8 1586.8,210.7C1573.2,211.5 1555.6,211.8 1540,212.2C1524.5,212.6 1503.3,213 1493.3,213C1483.3,213 1488.9,212.2 1480,212.3C1471.1,212.4 1452.1,213.2 1440.1,213.7C1428.2,214.1 1418.9,214.5 1408.2,215.1C1397.6,215.6 1385.2,216.4 1376.3,216.8C1367.5,217.1 1362.1,217.5 1355.1,217.4C1348,217.3 1340,216.9 1333.8,216.3C1327.6,215.7 1322.8,213.9 1317.8,213.7C1312.9,213.4 1306.3,214.6 1304,214.7L1304,214.7C1303,214.8 1299.8,215.5 1297.6,215.3C1295.5,215 1293.2,214.1 1291.3,213.1C1289.3,212.2 1286.8,210 1285.9,209.4Z" fill="#66e872" fill-opacity="1.0"/>
<line x1="1621.4" y1="207.6" x2="1621.4" y2="334.9" stroke="#66e872" stroke-width="1.2" stroke-opacity="0.45"/>
<path d="M1208.2,318.8C1208.7,317 1210,312 1211.3,308.1C1212.6,304.1 1214.3,298.8 1216,295.1C1217.7,291.4 1219.5,288.4 1221.6,285.8C1223.6,283.2 1225.6,281 1228,279.3C1230.5,277.6 1233.5,276.4 1236.4,275.6C1239.3,274.7 1242.3,274.4 1245.7,274.3C1249.1,274.2 1252.2,274.7 1256.8,275C1261.5,275.3 1266.1,275.9 1273.5,276.1C1280.9,276.4 1290.5,276.4 1301.4,276.5C1312.2,276.6 1326.1,276.7 1338.5,276.9C1350.9,277 1360.1,277.3 1375.6,277.4C1391.1,277.6 1412.7,277.9 1431.3,278C1449.8,278.1 1468.4,278.1 1487,278C1505.5,277.9 1528.7,277.8 1542.6,277.4C1556.6,277 1564.4,276.3 1570.5,275.6C1576.6,274.9 1577.9,273.7 1579.4,273.4L1579.4,273.4C1579.8,271.4 1581.1,267 1581.6,261.7C1582.1,256.3 1582.1,244.6 1582.2,241.2L1582.2,241.2C1582.3,244.6 1582.6,255.8 1582.9,261.7C1583.2,267.5 1584,273.1 1583.8,276.5C1583.7,279.9 1582.3,281.2 1582,282.1L1582,282.1C1572.3,282.1 1543,282.3 1524.1,282.4C1505.1,282.6 1487,282.7 1468.4,283C1449.8,283.3 1428.2,283.8 1412.7,284.3C1397.3,284.8 1388,285.1 1375.6,285.8C1363.2,286.5 1350.9,287.6 1338.5,288.6C1326.1,289.5 1310.6,290.5 1301.4,291.4C1292.1,292.2 1289,292.7 1282.8,293.6C1276.6,294.5 1270.4,295.2 1264.2,296.6C1258.1,297.9 1251.9,299.5 1245.7,301.6C1239.5,303.6 1232.4,306.6 1227.1,309C1221.9,311.4 1217.3,314.2 1214.1,315.9C1211,317.5 1209.2,318.3 1208.2,318.8Z" fill="#ff0000"/>
<path d="M1208.6,281.3C1211,281.4 1218.5,281.9 1223.4,281.9C1228.4,281.9 1233.3,281.9 1238.3,281.5C1243.2,281.2 1248.2,280.3 1253.1,279.7C1258.1,279 1263,278.1 1268,277.6C1272.9,277.2 1277.2,277 1282.8,276.9C1288.4,276.8 1292.1,276.9 1301.4,277.1C1310.6,277.2 1326.1,277.5 1338.5,277.8C1350.9,278.1 1360.1,278.6 1375.6,278.9C1391.1,279.3 1412.7,279.6 1431.3,279.9C1449.8,280.1 1468.4,280.2 1487,280.2C1505.5,280.3 1527.2,280.1 1542.6,280.2C1558.1,280.4 1573.6,281 1579.8,281.2L1579.8,281.2C1580.1,281.4 1581.5,280 1582,282.4C1582.5,284.9 1582.6,293.7 1582.7,296L1582.7,296C1582.4,294 1581.7,286.2 1580.9,283.9C1580.1,281.7 1578.4,282.7 1577.9,282.4L1577.9,282.4C1568.9,282.5 1542.3,282.4 1524.1,282.6C1505.8,282.8 1487,283.2 1468.4,283.6C1449.8,283.9 1428.2,284.5 1412.7,284.9C1397.3,285.2 1388,285.4 1375.6,285.8C1363.2,286.2 1350.9,286.7 1338.5,287.1C1326.1,287.5 1312.2,287.8 1301.4,288C1290.5,288.2 1281.3,288.3 1273.5,288.2C1265.8,288.1 1261.1,288 1255,287.6C1248.8,287.3 1241.7,286.7 1236.4,286.2C1231.1,285.6 1228,284.9 1223.4,284.3C1218.8,283.7 1211,282.8 1208.6,282.4Z" fill="url(#pinkgrad)" fill-opacity="1.0"/>
<line x1="1582.2" y1="296" x2="1582.2" y2="421.3" stroke="#ff6060" stroke-width="1.1" stroke-opacity="0.3"/>
<line x1="1207.8" y1="422.8" x2="1207.8" y2="234.7" stroke="#4a4a4a" stroke-width="2" />
<line x1="1206.8" y1="421.8" x2="1583.7" y2="421.8" stroke="#4a4a4a" stroke-width="2" />
<line x1="1582.7" y1="421.8" x2="1699.3" y2="152" stroke="#4a4a4a" stroke-width="1.7" />
<line x1="1200.8" y1="234.7" x2="1207.8" y2="234.7" stroke="#4a4a4a" stroke-width="1.6" />
<text transform="translate(1195.8,239.9)" font-size="15.5" text-anchor="end" font-weight="bold" fill="#2c2c2c" >1</text>
<line x1="1203.8" y1="258.1" x2="1207.8" y2="258.1" stroke="#4a4a4a" stroke-width="1.4" />
<line x1="1200.8" y1="281.5" x2="1207.8" y2="281.5" stroke="#4a4a4a" stroke-width="1.6" />
<text transform="translate(1195.8,286.7)" font-size="15.5" text-anchor="end" font-weight="bold" fill="#2c2c2c" >0</text>
<line x1="1203.8" y1="304.9" x2="1207.8" y2="304.9" stroke="#4a4a4a" stroke-width="1.4" />
<line x1="1200.8" y1="328.2" x2="1207.8" y2="328.2" stroke="#4a4a4a" stroke-width="1.6" />
<text transform="translate(1195.8,333.4)" font-size="15.5" text-anchor="end" font-weight="bold" fill="#2c2c2c" >-1</text>
<line x1="1203.8" y1="351.6" x2="1207.8" y2="351.6" stroke="#4a4a4a" stroke-width="1.4" />
<line x1="1200.8" y1="375" x2="1207.8" y2="375" stroke="#4a4a4a" stroke-width="1.6" />
<text transform="translate(1195.8,380.2)" font-size="15.5" text-anchor="end" font-weight="bold" fill="#2c2c2c" >-2</text>
<line x1="1203.8" y1="398.4" x2="1207.8" y2="398.4" stroke="#4a4a4a" stroke-width="1.4" />
<line x1="1200.8" y1="421.8" x2="1207.8" y2="421.8" stroke="#4a4a4a" stroke-width="1.6" />
<text transform="translate(1195.8,427)" font-size="15.5" text-anchor="end" font-weight="bold" fill="#2c2c2c" >-3</text>
<line x1="1207.8" y1="421.8" x2="1207.8" y2="428.8" stroke="#4a4a4a" stroke-width="1.6" />
<text transform="translate(1207.8,449.3)" font-size="15.5" text-anchor="middle" font-weight="bold" fill="#2c2c2c" >0.0</text>
<line x1="1282.8" y1="421.8" x2="1282.8" y2="428.8" stroke="#4a4a4a" stroke-width="1.6" />
<text transform="translate(1282.8,449.3)" font-size="15.5" text-anchor="middle" font-weight="bold" fill="#2c2c2c" >0.5</text>
<line x1="1357.8" y1="421.8" x2="1357.8" y2="428.8" stroke="#4a4a4a" stroke-width="1.6" />
<text transform="translate(1357.8,449.3)" font-size="15.5" text-anchor="middle" font-weight="bold" fill="#2c2c2c" >1.0</text>
<line x1="1432.7" y1="421.8" x2="1432.7" y2="428.8" stroke="#4a4a4a" stroke-width="1.6" />
<text transform="translate(1432.7,449.3)" font-size="15.5" text-anchor="middle" font-weight="bold" fill="#2c2c2c" >1.5</text>
<line x1="1507.7" y1="421.8" x2="1507.7" y2="428.8" stroke="#4a4a4a" stroke-width="1.6" />
<text transform="translate(1507.7,449.3)" font-size="15.5" text-anchor="middle" font-weight="bold" fill="#2c2c2c" >2.0</text>
<line x1="1582.7" y1="421.8" x2="1582.7" y2="428.8" stroke="#4a4a4a" stroke-width="1.6" />
<text transform="translate(1582.7,449.3)" font-size="15.5" text-anchor="middle" font-weight="bold" fill="#2c2c2c" >2.5</text>
<line x1="1582.7" y1="421.8" x2="1590.7" y2="421.8" stroke="#4a4a4a" stroke-width="1.5" />
<text transform="translate(1594.7,427.4)" font-size="15.5" text-anchor="start" font-weight="bold" fill="#2c2c2c" >1</text>
<line x1="1620.2" y1="335" x2="1627.2" y2="335" stroke="#4a4a4a" stroke-width="1.5" />
<text transform="translate(1631.2,339.9)" font-size="13.5" text-anchor="start" font-weight="bold" fill="#2c2c2c" >2</text>
<line x1="1651.8" y1="261.9" x2="1658" y2="261.9" stroke="#4a4a4a" stroke-width="1.5" />
<text transform="translate(1662,266.1)" font-size="11.5" text-anchor="start" font-weight="bold" fill="#2c2c2c" >3</text>
<line x1="1676.8" y1="204" x2="1682.4" y2="204" stroke="#4a4a4a" stroke-width="1.5" />
<text transform="translate(1686.4,207.6)" font-size="10" text-anchor="start" font-weight="bold" fill="#2c2c2c" >4</text>
<line x1="1699.3" y1="152" x2="1704.3" y2="152" stroke="#4a4a4a" stroke-width="1.5" />
<text transform="translate(1708.3,154.9)" font-size="8" text-anchor="start" font-weight="bold" fill="#2c2c2c" >5</text>
<text transform="translate(1174.5,328.2) rotate(-90)" font-size="15.5" text-anchor="middle" font-weight="bold" fill="#1e1e1e" >Current (mA)</text>
<text transform="translate(1395.8,475.3)" font-size="17" text-anchor="middle" font-weight="bold" fill="#1e1e1e" >Potential (V)</text>
<text transform="translate(1694.7,266) rotate(-66.6) skewX(23.4) scale(1,0.86)" font-size="17.5" text-anchor="middle" font-weight="bold" fill="#1c1c1c">V (mV s<tspan dy="-0.8em" font-size="0.52em">-1</tspan><tspan dy="0.416em">)</tspan></text>
</g>
<text transform="translate(1188,93.5) scale(0.83,1)" font-size="88" text-anchor="middle" font-weight="bold" fill="#000" >c</text>
<rect x="1857.6" y="153" width="43.2" height="143.3" fill="#c0c0c0"/>
<rect x="1857.6" y="298.1" width="43.2" height="100.5" fill="#008080"/>
<rect x="1951.2" y="153" width="43.2" height="123.6" fill="#c0c0c0"/>
<rect x="1951.2" y="278.4" width="43.2" height="120.2" fill="#008080"/>
<rect x="2044.7" y="153" width="43.2" height="111.3" fill="#c0c0c0"/>
<rect x="2044.7" y="266.1" width="43.2" height="132.5" fill="#008080"/>
<rect x="2138.2" y="153" width="43.2" height="101.4" fill="#c0c0c0"/>
<rect x="2138.2" y="256.2" width="43.2" height="142.4" fill="#008080"/>
<rect x="2231.8" y="153" width="43.2" height="94" fill="#c0c0c0"/>
<rect x="2231.8" y="248.8" width="43.2" height="149.8" fill="#008080"/>
<rect x="1830.9" y="53.4" width="469.4" height="345.2" fill="none" stroke="#2b2b2b" stroke-width="2.5"/>
<line x1="1823.4" y1="53.4" x2="1830.9" y2="53.4" stroke="#2b2b2b" stroke-width="2.4" />
<text transform="translate(1818,60.6)" font-size="23" text-anchor="end" font-weight="bold" fill="#262626" >140</text>
<line x1="1823.4" y1="102.7" x2="1830.9" y2="102.7" stroke="#2b2b2b" stroke-width="2.4" />
<text transform="translate(1818,110)" font-size="23" text-anchor="end" font-weight="bold" fill="#262626" >120</text>
<line x1="1823.4" y1="152" x2="1830.9" y2="152" stroke="#2b2b2b" stroke-width="2.4" />
<text transform="translate(1818,159.3)" font-size="23" text-anchor="end" font-weight="bold" fill="#262626" >100</text>
<line x1="1823.4" y1="201.3" x2="1830.9" y2="201.3" stroke="#2b2b2b" stroke-width="2.4" />
<text transform="translate(1818,208.6)" font-size="23" text-anchor="end" font-weight="bold" fill="#262626" >80</text>
<line x1="1823.4" y1="250.7" x2="1830.9" y2="250.7" stroke="#2b2b2b" stroke-width="2.4" />
<text transform="translate(1818,257.9)" font-size="23" text-anchor="end" font-weight="bold" fill="#262626" >60</text>
<line x1="1823.4" y1="300" x2="1830.9" y2="300" stroke="#2b2b2b" stroke-width="2.4" />
<text transform="translate(1818,307.2)" font-size="23" text-anchor="end" font-weight="bold" fill="#262626" >40</text>
<line x1="1823.4" y1="349.3" x2="1830.9" y2="349.3" stroke="#2b2b2b" stroke-width="2.4" />
<text transform="translate(1818,356.5)" font-size="23" text-anchor="end" font-weight="bold" fill="#262626" >20</text>
<line x1="1823.4" y1="398.6" x2="1830.9" y2="398.6" stroke="#2b2b2b" stroke-width="2.4" />
<text transform="translate(1818,405.8)" font-size="23" text-anchor="end" font-weight="bold" fill="#262626" >0</text>
<line x1="1827.4" y1="78.1" x2="1830.9" y2="78.1" stroke="#2b2b2b" stroke-width="2.4" />
<line x1="1827.4" y1="127.4" x2="1830.9" y2="127.4" stroke="#2b2b2b" stroke-width="2.4" />
<line x1="1827.4" y1="176.7" x2="1830.9" y2="176.7" stroke="#2b2b2b" stroke-width="2.4" />
<line x1="1827.4" y1="226" x2="1830.9" y2="226" stroke="#2b2b2b" stroke-width="2.4" />
<line x1="1827.4" y1="275.3" x2="1830.9" y2="275.3" stroke="#2b2b2b" stroke-width="2.4" />
<line x1="1827.4" y1="324.6" x2="1830.9" y2="324.6" stroke="#2b2b2b" stroke-width="2.4" />
<line x1="1827.4" y1="373.9" x2="1830.9" y2="373.9" stroke="#2b2b2b" stroke-width="2.4" />
<line x1="1879.2" y1="398.6" x2="1879.2" y2="406.1" stroke="#2b2b2b" stroke-width="2.4" />
<text transform="translate(1879.2,428)" font-size="23" text-anchor="middle" font-weight="bold" fill="#262626" >1</text>
<line x1="1972.8" y1="398.6" x2="1972.8" y2="406.1" stroke="#2b2b2b" stroke-width="2.4" />
<text transform="translate(1972.8,428)" font-size="23" text-anchor="middle" font-weight="bold" fill="#262626" >2</text>
<line x1="2066.3" y1="398.6" x2="2066.3" y2="406.1" stroke="#2b2b2b" stroke-width="2.4" />
<text transform="translate(2066.3,428)" font-size="23" text-anchor="middle" font-weight="bold" fill="#262626" >3</text>
<line x1="2159.8" y1="398.6" x2="2159.8" y2="406.1" stroke="#2b2b2b" stroke-width="2.4" />
<text transform="translate(2159.8,428)" font-size="23" text-anchor="middle" font-weight="bold" fill="#262626" >4</text>
<line x1="2253.4" y1="398.6" x2="2253.4" y2="406.1" stroke="#2b2b2b" stroke-width="2.4" />
<text transform="translate(2253.4,428)" font-size="23" text-anchor="middle" font-weight="bold" fill="#262626" >5</text>
<line x1="1926" y1="398.6" x2="1926" y2="402.1" stroke="#2b2b2b" stroke-width="2.4" />
<line x1="2019.5" y1="398.6" x2="2019.5" y2="402.1" stroke="#2b2b2b" stroke-width="2.4" />
<line x1="2113.1" y1="398.6" x2="2113.1" y2="402.1" stroke="#2b2b2b" stroke-width="2.4" />
<line x1="2206.6" y1="398.6" x2="2206.6" y2="402.1" stroke="#2b2b2b" stroke-width="2.4" />
<line x1="1832.4" y1="398.6" x2="1832.4" y2="402.1" stroke="#2b2b2b" stroke-width="2.4" />
<rect x="2010.5" y="72.4" width="47.7" height="23" fill="#c0c0c0"/>
<rect x="2010.5" y="102.4" width="48.3" height="23.6" fill="#008080"/>
<text transform="translate(2067.3,90.1)" font-size="23" text-anchor="start" font-weight="bold" fill="#262626" textLength="215.7" lengthAdjust="spacingAndGlyphs">Diffution controlled</text>
<text transform="translate(2067.3,120.7)" font-size="23" text-anchor="start" font-weight="bold" fill="#262626" textLength="109.7" lengthAdjust="spacingAndGlyphs">Capactive</text>
<text transform="translate(1876.6,232.3)" font-size="23.5" text-anchor="middle" font-weight="bold" fill="#0c0c14" textLength="42" lengthAdjust="spacingAndGlyphs">59%</text>
<text transform="translate(1970.2,222.8)" font-size="23.5" text-anchor="middle" font-weight="bold" fill="#0c0c14" textLength="42" lengthAdjust="spacingAndGlyphs">51%</text>
<text transform="translate(2063.7,215)" font-size="23.5" text-anchor="middle" font-weight="bold" fill="#0c0c14" textLength="42" lengthAdjust="spacingAndGlyphs">46%</text>
<text transform="translate(2157.2,211.6)" font-size="23.5" text-anchor="middle" font-weight="bold" fill="#0c0c14" textLength="42" lengthAdjust="spacingAndGlyphs">42%</text>
<text transform="translate(2250.8,206.8)" font-size="23.5" text-anchor="middle" font-weight="bold" fill="#0c0c14" textLength="42" lengthAdjust="spacingAndGlyphs">39%</text>
<text transform="translate(1876.6,355.4)" font-size="23.5" text-anchor="middle" font-weight="bold" fill="#ffffff" textLength="42" lengthAdjust="spacingAndGlyphs">41%</text>
<text transform="translate(1970.2,345.9)" font-size="23.5" text-anchor="middle" font-weight="bold" fill="#ffffff" textLength="42" lengthAdjust="spacingAndGlyphs">49%</text>
<text transform="translate(2063.7,340)" font-size="23.5" text-anchor="middle" font-weight="bold" fill="#ffffff" textLength="42" lengthAdjust="spacingAndGlyphs">54%</text>
<text transform="translate(2157.2,334.4)" font-size="23.5" text-anchor="middle" font-weight="bold" fill="#ffffff" textLength="42" lengthAdjust="spacingAndGlyphs">58%</text>
<text transform="translate(2250.8,330)" font-size="23.5" text-anchor="middle" font-weight="bold" fill="#ffffff" textLength="42" lengthAdjust="spacingAndGlyphs">61%</text>
<text transform="translate(2065.7,454)" font-size="23" text-anchor="middle" font-weight="bold" fill="#262626" textLength="212.9" lengthAdjust="spacingAndGlyphs">Sweep rate (mV s<tspan dy="-0.8em" font-size="0.52em">-1</tspan><tspan dy="0.416em">)</tspan></text>
<text transform="translate(1769.7,223.6) rotate(-90)" font-size="23" text-anchor="middle" font-weight="bold" fill="#262626" textLength="243" lengthAdjust="spacingAndGlyphs">Contribution ratio (%)</text>
<text transform="translate(1754.5,92.5)" font-size="86" text-anchor="middle" font-weight="bold" fill="#000" >d</text>
<clipPath id="ce"><rect x="112.9" y="508.4" width="472.6" height="350.2"/></clipPath>
<g clip-path="url(#ce)" fill="none" stroke-width="1.8" stroke-linejoin="round">
<path d="M158.1,711.7C158.4,709.6 159,703.6 159.9,698.9C160.7,694.2 161.7,688.7 163.2,683.6C164.7,678.5 166.6,673 168.8,668.3C171,663.6 173.5,659.6 176.4,655.5C179.4,651.5 183.3,647.5 186.7,644.1C190.1,640.7 193.5,637.5 196.9,635.1C200.3,632.8 204.1,631.2 207.1,630C210,628.8 211.7,628.5 214.7,628C217.7,627.5 221.5,626.6 224.9,627C228.3,627.3 231.3,628.5 235.1,630C239,631.6 243.6,634.3 247.9,636.4C252.1,638.5 256.4,641.2 260.7,642.8C264.9,644.4 268.7,645 273.4,645.9C278.1,646.7 282.8,647.2 288.7,647.9C294.7,648.6 302.8,649.5 309.1,649.9C315.5,650.4 320.6,649.9 327,650.4C333.4,651 341.9,652.2 347.4,653C352.9,653.8 353.8,654.4 360.2,655C366.5,655.7 377.2,656.4 385.7,656.8C394.2,657.2 378.5,657.5 411.2,657.3C443.9,657.2 553.7,655.4 582.2,656.1C610.7,656.7 597.9,660.1 582.2,661.2C566.4,662.2 520.5,661.8 487.8,662.2C455,662.5 406.9,662.9 385.7,663.2C364.4,663.5 366.5,663.4 360.2,663.7C353.8,664.1 351.7,664.3 347.4,665.2C343.2,666.2 338.9,668.4 334.7,669.6C330.4,670.7 327,671.4 321.9,672.1C316.8,672.9 310.4,673.5 304,674.2C297.7,674.8 291.3,675.2 283.6,676C276,676.7 266.6,677.5 258.1,678.5C249.6,679.6 241.1,680.6 232.6,682.3C224.1,684 214.3,686.6 207.1,688.7C199.8,690.8 194.3,693.3 189.2,695.1C184.1,696.9 180.3,697.7 176.4,699.4C172.6,701.1 169.3,703.3 166.2,705.3C163.2,707.3 159.4,710.6 158.1,711.7" stroke="#2a2a2a"/>
<path d="M158.1,748.7C158.7,745.5 160.3,736.1 161.6,729.5C163,723 164.4,716.4 166.2,709.1C168.1,701.9 170.1,693.6 172.6,686.2C175.2,678.7 178.4,671.5 181.6,664.5C184.7,657.5 188.1,650.7 191.8,644.1C195.4,637.5 199.4,630.5 203.2,624.9C207.1,619.4 211.1,614.7 214.7,610.9C218.3,607.1 222,604 224.9,602C227.9,600 230.2,599.4 232.6,598.9C234.9,598.4 236.4,598.2 239,598.9C241.5,599.6 244.7,601 247.9,603.2C251.1,605.5 254.7,609 258.1,612.2C261.5,615.4 264.9,619.4 268.3,622.4C271.7,625.4 275.1,628 278.5,630C281.9,632.1 285.3,633.6 288.7,634.6C292.1,635.7 295.5,635.9 298.9,636.4C302.3,636.9 305.3,637.1 309.1,637.7C313,638.2 317.6,638.9 321.9,639.7C326.1,640.6 330.4,641.6 334.7,642.8C338.9,643.9 343.2,645.3 347.4,646.6C351.7,647.9 355.9,649.4 360.2,650.4C364.4,651.5 368.7,652.4 372.9,653C377.2,653.6 379.3,653.9 385.7,654.3C392.1,654.6 378.5,655 411.2,655C443.9,655 553.7,653.3 582.2,654.3C610.7,655.2 597.9,659.2 582.2,660.7C566.4,662.1 518.4,662.1 487.8,662.7C457.1,663.3 419.7,664.2 398.4,664.5C377.2,664.8 368.7,664.1 360.2,664.5C351.7,664.9 351.2,665.5 347.4,667C343.6,668.5 340.6,671.3 337.2,673.4C333.8,675.5 330.4,678.1 327,679.8C323.6,681.5 320.2,682.6 316.8,683.6C313.4,684.7 310,685.5 306.6,686.2C303.2,686.8 302.3,686.9 296.4,687.4C290.4,688 278.1,688.4 270.9,689.2C263.6,690.1 258.5,691.4 253,692.5C247.5,693.7 243.2,694.7 237.7,696.4C232.2,698.1 224.9,700.8 219.8,702.8C214.7,704.7 211.3,705.7 207.1,707.9C202.8,710 198.6,712.7 194.3,715.5C190.1,718.3 185.4,721.7 181.6,724.4C177.7,727.2 174.1,729.8 171.3,732.1C168.6,734.4 167.2,735.7 165,738.5C162.8,741.2 159.2,747 158.1,748.7" stroke="#ff2828"/>
<path d="M158.6,779.3C159.2,774.4 160.9,759.5 162.4,750C163.9,740.4 165.6,731.2 167.5,721.9C169.4,712.5 171.6,702.5 173.9,693.8C176.2,685.1 178.6,677.7 181.6,669.6C184.5,661.5 188.1,653.2 191.8,645.3C195.4,637.5 199.4,629.4 203.2,622.4C207.1,615.4 210.7,609.4 214.7,603.2C218.8,597.1 223.7,590.3 227.5,585.4C231.3,580.5 234.7,576.2 237.7,573.9C240.7,571.6 243,571.7 245.3,571.3C247.7,571 249.6,570.8 251.7,571.9C253.8,572.9 255.3,574.2 258.1,577.7C260.9,581.3 264.9,587.9 268.3,593C271.7,598.1 275.1,604.1 278.5,608.3C281.9,612.6 285.3,616 288.7,618.5C292.1,621.1 295.5,622.4 298.9,623.7C302.3,624.9 305.3,625.4 309.1,626.2C313,627.1 317.6,627.8 321.9,628.8C326.1,629.7 330.4,630.3 334.7,631.8C338.9,633.3 343.2,635.6 347.4,637.7C351.7,639.7 355.9,642.2 360.2,644.1C364.4,646 368.7,647.9 372.9,649.2C377.2,650.4 379.3,651.2 385.7,651.7C392.1,652.3 378.5,652.5 411.2,652.5C443.9,652.5 553.7,650.4 582.2,651.7C610.7,653 597.9,658.2 582.2,660.1C566.4,662.1 518.4,662.4 487.8,663.2C457.1,664.1 419.7,664.9 398.4,665.2C377.2,665.6 368.7,664.7 360.2,665.2C351.7,665.8 351.2,666.3 347.4,668.3C343.6,670.3 340.6,674 337.2,677.2C333.8,680.4 330.4,684.3 327,687.4C323.6,690.6 320.2,694.2 316.8,696.4C313.4,698.5 310,699.4 306.6,700.2C303.2,701 303.6,700.8 296.4,701C289.1,701.1 271.3,700.5 263.2,701C255.1,701.5 253,702.7 247.9,704C242.8,705.4 237.3,707.4 232.6,709.1C227.9,710.8 224.1,712.1 219.8,714.2C215.6,716.4 211.3,719.1 207.1,721.9C202.8,724.7 198.6,727 194.3,730.8C190.1,734.7 185.4,740.4 181.6,744.9C177.7,749.3 174.1,753.8 171.3,757.6C168.6,761.4 167.1,764.2 165,767.8C162.8,771.4 159.6,777.4 158.6,779.3" stroke="#2a2aff"/>
<path d="M158.6,804.8C159.2,799.1 160.9,782.1 162.4,770.4C163.9,758.7 165.6,746.1 167.5,734.7C169.4,723.2 171.6,711.7 173.9,701.5C176.2,691.3 178.6,682.6 181.6,673.4C184.5,664.3 188.1,655.3 191.8,646.6C195.4,637.9 199.4,629.2 203.2,621.1C207.1,613 210.7,605.6 214.7,598.1C218.8,590.7 223.2,583.7 227.5,576.4C231.7,569.2 236.8,559.6 240.2,554.8C243.6,549.9 245.6,548.6 247.9,547.1C250.2,545.6 252.1,545.4 254.3,545.8C256.4,546.3 258.3,546.9 260.7,549.7C263,552.4 265.3,556.9 268.3,562.4C271.3,567.9 275.1,576.9 278.5,582.8C281.9,588.8 285.3,593.9 288.7,598.1C292.1,602.4 295.5,605.8 298.9,608.3C302.3,610.9 305.3,612 309.1,613.4C313,614.8 317.6,615.5 321.9,616.8C326.1,618 330.4,619.1 334.7,621.1C338.9,623.1 343.2,626 347.4,628.8C351.7,631.5 355.9,635.1 360.2,637.7C364.4,640.2 368.7,642.5 372.9,644.1C377.2,645.7 381.4,646.5 385.7,647.4C389.9,648.2 392.1,648.7 398.4,649.2C404.8,649.6 393.3,649.9 424,649.9C454.6,649.9 555.8,647.6 582.2,649.2C608.5,650.7 597.9,657 582.2,659.4C566.4,661.8 518.4,662.7 487.8,663.7C457.1,664.8 419.7,665.4 398.4,665.8C377.2,666.1 368.7,665.1 360.2,665.8C351.7,666.4 351.2,667.2 347.4,669.6C343.6,671.9 340.6,676.2 337.2,679.8C333.8,683.4 330.4,687.4 327,691.3C323.6,695.1 320.2,699.6 316.8,702.8C313.4,705.9 310,708.6 306.6,710.4C303.2,712.2 302.3,713.2 296.4,713.7C290.4,714.3 278.1,713.4 270.9,713.7C263.6,714 258.5,714.4 253,715.5C247.5,716.7 243.2,718.5 237.7,720.6C232.2,722.7 224.9,725.7 219.8,728.3C214.7,730.8 211.3,733.2 207.1,735.9C202.8,738.7 198.6,740.8 194.3,744.9C190.1,748.9 185.4,754.9 181.6,760.2C177.7,765.5 174.3,771.4 171.3,776.8C168.4,782.1 165.8,787.4 163.7,792.1C161.6,796.7 159.4,802.7 158.6,804.8" stroke="#ff28ff"/>
<path d="M158.1,829.6C158.8,822.3 160.8,799.4 162.4,785.7C164,772 165.6,760.2 167.5,747.4C169.4,734.7 171.6,720.6 173.9,709.1C176.2,697.7 178.6,688.7 181.6,678.5C184.5,668.3 188.1,657.7 191.8,647.9C195.4,638.1 199.4,629 203.2,619.8C207.1,610.7 210.7,602.2 214.7,593C218.8,583.9 223.2,573.9 227.5,565C231.7,556 236.6,545.4 240.2,539.4C243.9,533.5 246.4,531.4 249.2,529.2C251.9,527.1 254.3,526.5 256.8,526.7C259.4,526.9 261.9,527.8 264.5,530.5C267,533.3 269.4,537.7 272.1,543.3C274.9,548.8 278.1,557.3 281.1,563.7C284,570.1 287,576.7 290,581.6C293,586.4 295.7,589.8 298.9,593C302.1,596.2 305.3,598.6 309.1,600.7C313,602.8 317.6,603.9 321.9,605.8C326.1,607.7 330.4,609.6 334.7,612.2C338.9,614.7 343.2,617.9 347.4,621.1C351.7,624.3 355.9,628.5 360.2,631.3C364.4,634.2 368.7,636.3 372.9,638.2C377.2,640.1 381.4,641.7 385.7,642.8C389.9,643.9 392.1,644.2 398.4,644.8C404.8,645.5 413.3,646.3 424,646.6C434.6,646.9 447.3,646.6 462.2,646.6C477.1,646.6 493.3,646.6 513.3,646.6C533.3,646.6 570.7,644.7 582.2,646.6C593.6,648.5 589.4,655.8 582.2,658.1C574.9,660.4 554.5,659.6 538.8,660.7C523,661.7 504.8,663.5 487.8,664.5C470.7,665.4 451.6,665.8 436.7,666.3C421.8,666.7 411.2,666.9 398.4,667C385.7,667.2 368.7,666.4 360.2,667C351.7,667.7 351.2,668.5 347.4,670.9C343.6,673.2 340.6,677.2 337.2,681.1C333.8,684.9 330.4,689.6 327,693.8C323.6,698.1 320.2,702.5 316.8,706.6C313.4,710.6 310,715.1 306.6,718.1C303.2,721 300.2,722.9 296.4,724.4C292.5,726 287.4,727.1 283.6,727.5C279.8,727.9 276.8,727.4 273.4,727C270,726.6 267.5,724.9 263.2,725C259,725 253,726.1 247.9,727.5C242.8,728.9 237.3,731.3 232.6,733.4C227.9,735.4 224.1,737.8 219.8,739.8C215.6,741.7 211.3,741.9 207.1,744.9C202.8,747.8 198.6,752.5 194.3,757.6C190.1,762.7 185.4,769.1 181.6,775.5C177.7,781.9 174.3,789.3 171.3,795.9C168.4,802.5 165.9,809.4 163.7,815C161.5,820.6 159,827.1 158.1,829.6" stroke="#1f8f2a"/>
</g>
<line x1="221.1" y1="632.6" x2="258.3" y2="528.9" stroke="#ff8c1a" stroke-width="1.8" />
<path d="M260.7,522.4 L260.6,531.9 L254.6,529.7 Z" fill="#ff8c1a"/>
<rect x="112.9" y="513.4" width="469.6" height="345.2" fill="none" stroke="#2b2b2b" stroke-width="2.5"/>
<line x1="105.4" y1="513.4" x2="112.9" y2="513.4" stroke="#2b2b2b" stroke-width="2.4" />
<text transform="translate(100,520.7) scale(0.86,1)" font-size="27" text-anchor="end" font-weight="bold" fill="#262626" >1.5</text>
<line x1="105.4" y1="562.7" x2="112.9" y2="562.7" stroke="#2b2b2b" stroke-width="2.4" />
<text transform="translate(100,570) scale(0.86,1)" font-size="27" text-anchor="end" font-weight="bold" fill="#262626" >1.0</text>
<line x1="105.4" y1="612" x2="112.9" y2="612" stroke="#2b2b2b" stroke-width="2.4" />
<text transform="translate(100,619.3) scale(0.86,1)" font-size="27" text-anchor="end" font-weight="bold" fill="#262626" >0.5</text>
<line x1="105.4" y1="661.3" x2="112.9" y2="661.3" stroke="#2b2b2b" stroke-width="2.4" />
<text transform="translate(100,668.6) scale(0.86,1)" font-size="27" text-anchor="end" font-weight="bold" fill="#262626" >0.0</text>
<line x1="105.4" y1="710.6" x2="112.9" y2="710.6" stroke="#2b2b2b" stroke-width="2.4" />
<text transform="translate(100,717.9) scale(0.86,1)" font-size="27" text-anchor="end" font-weight="bold" fill="#262626" >-0.5</text>
<line x1="105.4" y1="759.9" x2="112.9" y2="759.9" stroke="#2b2b2b" stroke-width="2.4" />
<text transform="translate(100,767.2) scale(0.86,1)" font-size="27" text-anchor="end" font-weight="bold" fill="#262626" >-1.0</text>
<line x1="105.4" y1="809.2" x2="112.9" y2="809.2" stroke="#2b2b2b" stroke-width="2.4" />
<text transform="translate(100,816.5) scale(0.86,1)" font-size="27" text-anchor="end" font-weight="bold" fill="#262626" >-1.5</text>
<line x1="105.4" y1="858.5" x2="112.9" y2="858.5" stroke="#2b2b2b" stroke-width="2.4" />
<text transform="translate(100,865.8) scale(0.86,1)" font-size="27" text-anchor="end" font-weight="bold" fill="#262626" >-2.0</text>
<line x1="109.4" y1="538" x2="112.9" y2="538" stroke="#2b2b2b" stroke-width="2.4" />
<line x1="109.4" y1="587.3" x2="112.9" y2="587.3" stroke="#2b2b2b" stroke-width="2.4" />
<line x1="109.4" y1="636.6" x2="112.9" y2="636.6" stroke="#2b2b2b" stroke-width="2.4" />
<line x1="109.4" y1="685.9" x2="112.9" y2="685.9" stroke="#2b2b2b" stroke-width="2.4" />
<line x1="109.4" y1="735.2" x2="112.9" y2="735.2" stroke="#2b2b2b" stroke-width="2.4" />
<line x1="109.4" y1="784.5" x2="112.9" y2="784.5" stroke="#2b2b2b" stroke-width="2.4" />
<line x1="109.4" y1="833.8" x2="112.9" y2="833.8" stroke="#2b2b2b" stroke-width="2.4" />
<line x1="156.5" y1="858.6" x2="156.5" y2="866.1" stroke="#2b2b2b" stroke-width="2.4" />
<text transform="translate(156.5,889.3) scale(0.86,1)" font-size="27" text-anchor="middle" font-weight="bold" fill="#262626" >0.0</text>
<line x1="241.6" y1="858.6" x2="241.6" y2="866.1" stroke="#2b2b2b" stroke-width="2.4" />
<text transform="translate(241.6,889.3) scale(0.86,1)" font-size="27" text-anchor="middle" font-weight="bold" fill="#262626" >0.5</text>
<line x1="326.7" y1="858.6" x2="326.7" y2="866.1" stroke="#2b2b2b" stroke-width="2.4" />
<text transform="translate(326.7,889.3) scale(0.86,1)" font-size="27" text-anchor="middle" font-weight="bold" fill="#262626" >1.0</text>
<line x1="411.8" y1="858.6" x2="411.8" y2="866.1" stroke="#2b2b2b" stroke-width="2.4" />
<text transform="translate(411.8,889.3) scale(0.86,1)" font-size="27" text-anchor="middle" font-weight="bold" fill="#262626" >1.5</text>
<line x1="496.9" y1="858.6" x2="496.9" y2="866.1" stroke="#2b2b2b" stroke-width="2.4" />
<text transform="translate(496.9,889.3) scale(0.86,1)" font-size="27" text-anchor="middle" font-weight="bold" fill="#262626" >2.0</text>
<line x1="582" y1="858.6" x2="582" y2="866.1" stroke="#2b2b2b" stroke-width="2.4" />
<text transform="translate(582,889.3) scale(0.86,1)" font-size="27" text-anchor="middle" font-weight="bold" fill="#262626" >2.5</text>
<line x1="199.1" y1="858.6" x2="199.1" y2="862.1" stroke="#2b2b2b" stroke-width="2.4" />
<line x1="284.1" y1="858.6" x2="284.1" y2="862.1" stroke="#2b2b2b" stroke-width="2.4" />
<line x1="369.2" y1="858.6" x2="369.2" y2="862.1" stroke="#2b2b2b" stroke-width="2.4" />
<line x1="454.3" y1="858.6" x2="454.3" y2="862.1" stroke="#2b2b2b" stroke-width="2.4" />
<line x1="539.5" y1="858.6" x2="539.5" y2="862.1" stroke="#2b2b2b" stroke-width="2.4" />
<line x1="114" y1="858.6" x2="114" y2="862.1" stroke="#2b2b2b" stroke-width="2.4" />
<text transform="translate(347.8,914)" font-size="27" text-anchor="middle" font-weight="bold" fill="#262626" textLength="120.8" lengthAdjust="spacingAndGlyphs">Voltage (V)</text>
<text transform="translate(51.7,678.5) rotate(-90)" font-size="27" text-anchor="middle" font-weight="bold" fill="#262626" textLength="144.5" lengthAdjust="spacingAndGlyphs">Current (mA)</text>
<line x1="413.8" y1="702" x2="464.8" y2="702" stroke="#2a2a2a" stroke-width="2.0" />
<text transform="translate(472.8,710.9)" font-size="27" text-anchor="start" font-weight="bold" fill="#262626" textLength="86.7" lengthAdjust="spacingAndGlyphs">1 mV s<tspan dy="-0.76em" font-size="0.64em">-1</tspan></text>
<line x1="413.8" y1="734.7" x2="464.8" y2="734.7" stroke="#ff2828" stroke-width="2.0" />
<text transform="translate(472.8,743.6)" font-size="27" text-anchor="start" font-weight="bold" fill="#262626" textLength="86.7" lengthAdjust="spacingAndGlyphs">2 mV s<tspan dy="-0.76em" font-size="0.64em">-1</tspan></text>
<line x1="413.8" y1="767" x2="464.8" y2="767" stroke="#2a2aff" stroke-width="2.0" />
<text transform="translate(472.8,775.9)" font-size="27" text-anchor="start" font-weight="bold" fill="#262626" textLength="86.7" lengthAdjust="spacingAndGlyphs">3 mV s<tspan dy="-0.76em" font-size="0.64em">-1</tspan></text>
<line x1="413.8" y1="799" x2="464.8" y2="799" stroke="#ff28ff" stroke-width="2.0" />
<text transform="translate(472.8,807.9)" font-size="27" text-anchor="start" font-weight="bold" fill="#262626" textLength="86.7" lengthAdjust="spacingAndGlyphs">4 mV s<tspan dy="-0.76em" font-size="0.64em">-1</tspan></text>
<line x1="413.8" y1="832.1" x2="464.8" y2="832.1" stroke="#1f8f2a" stroke-width="2.0" />
<text transform="translate(472.8,841)" font-size="27" text-anchor="start" font-weight="bold" fill="#262626" textLength="86.7" lengthAdjust="spacingAndGlyphs">5 mV s<tspan dy="-0.76em" font-size="0.64em">-1</tspan></text>
<text transform="translate(336.3,753.2)" font-size="27" text-anchor="middle" font-weight="bold" fill="#262626" textLength="27.9" lengthAdjust="spacingAndGlyphs">SP</text>
<text transform="translate(39.9,539.4) scale(1.05,1)" font-size="84" text-anchor="middle" font-weight="bold" fill="#000" >e</text>
<rect x="689.5" y="513.4" width="468.7" height="345.2" fill="none" stroke="#2b2b2b" stroke-width="2.5"/>
<line x1="682" y1="512.1" x2="689.5" y2="512.1" stroke="#2b2b2b" stroke-width="2.4" />
<text transform="translate(680.5,519.4) scale(0.86,1)" font-size="27" text-anchor="end" font-weight="bold" fill="#262626" >0.2</text>
<line x1="682" y1="558" x2="689.5" y2="558" stroke="#2b2b2b" stroke-width="2.4" />
<text transform="translate(680.5,565.3) scale(0.86,1)" font-size="27" text-anchor="end" font-weight="bold" fill="#262626" >0.1</text>
<line x1="682" y1="603.9" x2="689.5" y2="603.9" stroke="#2b2b2b" stroke-width="2.4" />
<text transform="translate(680.5,611.2) scale(0.86,1)" font-size="27" text-anchor="end" font-weight="bold" fill="#262626" >0.0</text>
<line x1="682" y1="649.8" x2="689.5" y2="649.8" stroke="#2b2b2b" stroke-width="2.4" />
<text transform="translate(680.5,657.1) scale(0.86,1)" font-size="27" text-anchor="end" font-weight="bold" fill="#262626" >-0.1</text>
<line x1="682" y1="695.7" x2="689.5" y2="695.7" stroke="#2b2b2b" stroke-width="2.4" />
<text transform="translate(680.5,703) scale(0.86,1)" font-size="27" text-anchor="end" font-weight="bold" fill="#262626" >-0.2</text>
<line x1="682" y1="741.6" x2="689.5" y2="741.6" stroke="#2b2b2b" stroke-width="2.4" />
<text transform="translate(680.5,748.9) scale(0.86,1)" font-size="27" text-anchor="end" font-weight="bold" fill="#262626" >-0.3</text>
<line x1="682" y1="787.5" x2="689.5" y2="787.5" stroke="#2b2b2b" stroke-width="2.4" />
<text transform="translate(680.5,794.8) scale(0.86,1)" font-size="27" text-anchor="end" font-weight="bold" fill="#262626" >-0.4</text>
<line x1="682" y1="833.4" x2="689.5" y2="833.4" stroke="#2b2b2b" stroke-width="2.4" />
<text transform="translate(680.5,840.7) scale(0.86,1)" font-size="27" text-anchor="end" font-weight="bold" fill="#262626" >-0.5</text>
<line x1="686" y1="535" x2="689.5" y2="535" stroke="#2b2b2b" stroke-width="2.4" />
<line x1="686" y1="581" x2="689.5" y2="581" stroke="#2b2b2b" stroke-width="2.4" />
<line x1="686" y1="626.8" x2="689.5" y2="626.8" stroke="#2b2b2b" stroke-width="2.4" />
<line x1="686" y1="672.8" x2="689.5" y2="672.8" stroke="#2b2b2b" stroke-width="2.4" />
<line x1="686" y1="718.6" x2="689.5" y2="718.6" stroke="#2b2b2b" stroke-width="2.4" />
<line x1="686" y1="764.5" x2="689.5" y2="764.5" stroke="#2b2b2b" stroke-width="2.4" />
<line x1="686" y1="810.5" x2="689.5" y2="810.5" stroke="#2b2b2b" stroke-width="2.4" />
<line x1="689.5" y1="858.6" x2="689.5" y2="866.1" stroke="#2b2b2b" stroke-width="2.4" />
<text transform="translate(689.5,887.5) scale(0.86,1)" font-size="27" text-anchor="middle" font-weight="bold" fill="#262626" >-0.1</text>
<line x1="741.6" y1="858.6" x2="741.6" y2="866.1" stroke="#2b2b2b" stroke-width="2.4" />
<text transform="translate(741.6,887.5) scale(0.86,1)" font-size="27" text-anchor="middle" font-weight="bold" fill="#262626" >0.0</text>
<line x1="793.7" y1="858.6" x2="793.7" y2="866.1" stroke="#2b2b2b" stroke-width="2.4" />
<text transform="translate(793.7,887.5) scale(0.86,1)" font-size="27" text-anchor="middle" font-weight="bold" fill="#262626" >0.1</text>
<line x1="845.7" y1="858.6" x2="845.7" y2="866.1" stroke="#2b2b2b" stroke-width="2.4" />
<text transform="translate(845.7,887.5) scale(0.86,1)" font-size="27" text-anchor="middle" font-weight="bold" fill="#262626" >0.2</text>
<line x1="897.8" y1="858.6" x2="897.8" y2="866.1" stroke="#2b2b2b" stroke-width="2.4" />
<text transform="translate(897.8,887.5) scale(0.86,1)" font-size="27" text-anchor="middle" font-weight="bold" fill="#262626" >0.3</text>
<line x1="949.9" y1="858.6" x2="949.9" y2="866.1" stroke="#2b2b2b" stroke-width="2.4" />
<text transform="translate(949.9,887.5) scale(0.86,1)" font-size="27" text-anchor="middle" font-weight="bold" fill="#262626" >0.4</text>
<line x1="1002" y1="858.6" x2="1002" y2="866.1" stroke="#2b2b2b" stroke-width="2.4" />
<text transform="translate(1002,887.5) scale(0.86,1)" font-size="27" text-anchor="middle" font-weight="bold" fill="#262626" >0.5</text>
<line x1="1054.1" y1="858.6" x2="1054.1" y2="866.1" stroke="#2b2b2b" stroke-width="2.4" />
<text transform="translate(1054.1,887.5) scale(0.86,1)" font-size="27" text-anchor="middle" font-weight="bold" fill="#262626" >0.6</text>
<line x1="1106.1" y1="858.6" x2="1106.1" y2="866.1" stroke="#2b2b2b" stroke-width="2.4" />
<text transform="translate(1106.1,887.5) scale(0.86,1)" font-size="27" text-anchor="middle" font-weight="bold" fill="#262626" >0.7</text>
<line x1="1158.2" y1="858.6" x2="1158.2" y2="866.1" stroke="#2b2b2b" stroke-width="2.4" />
<text transform="translate(1158.2,887.5) scale(0.86,1)" font-size="27" text-anchor="middle" font-weight="bold" fill="#262626" >0.8</text>
<line x1="715.5" y1="858.6" x2="715.5" y2="862.1" stroke="#2b2b2b" stroke-width="2.4" />
<line x1="767.6" y1="858.6" x2="767.6" y2="862.1" stroke="#2b2b2b" stroke-width="2.4" />
<line x1="819.7" y1="858.6" x2="819.7" y2="862.1" stroke="#2b2b2b" stroke-width="2.4" />
<line x1="871.8" y1="858.6" x2="871.8" y2="862.1" stroke="#2b2b2b" stroke-width="2.4" />
<line x1="923.9" y1="858.6" x2="923.9" y2="862.1" stroke="#2b2b2b" stroke-width="2.4" />
<line x1="975.9" y1="858.6" x2="975.9" y2="862.1" stroke="#2b2b2b" stroke-width="2.4" />
<line x1="1028" y1="858.6" x2="1028" y2="862.1" stroke="#2b2b2b" stroke-width="2.4" />
<line x1="1080.1" y1="858.6" x2="1080.1" y2="862.1" stroke="#2b2b2b" stroke-width="2.4" />
<line x1="1132.2" y1="858.6" x2="1132.2" y2="862.1" stroke="#2b2b2b" stroke-width="2.4" />
<line x1="741" y1="817.3" x2="1105" y2="539.6" stroke="#ff2a2a" stroke-width="1.8" />
<rect x="736.5" y="816.5" width="9" height="8" fill="#111"/>
<rect x="894.1" y="694.9" width="9" height="8" fill="#111"/>
<rect x="985.1" y="621.5" width="9" height="8" fill="#111"/>
<rect x="1049.5" y="572.4" width="9" height="8" fill="#111"/>
<rect x="1100.5" y="539.8" width="9" height="8" fill="#111"/>
<rect x="810.2" y="564.8" width="9" height="8" fill="#111"/>
<text transform="translate(847.5,577.7)" font-size="27" text-anchor="start" font-weight="bold" fill="#262626" textLength="28.8" lengthAdjust="spacingAndGlyphs">SP</text>
<line x1="787.5" y1="597.8" x2="839.2" y2="597.8" stroke="#ff2a2a" stroke-width="1.8" />
<text transform="translate(847.5,606.7)" font-size="27" text-anchor="start" font-weight="bold" fill="#262626" textLength="119" lengthAdjust="spacingAndGlyphs">Fitting line</text>
<text transform="translate(991.6,695.7)" font-size="27" text-anchor="start" font-weight="bold" fill="#262626" textLength="72.1" lengthAdjust="spacingAndGlyphs">b=0.86</text>
<text transform="translate(922.7,914)" font-size="27" text-anchor="middle" font-weight="bold" fill="#262626" textLength="277.2" lengthAdjust="spacingAndGlyphs">Log (Sweep rate / mV s<tspan dy="-0.8em" font-size="0.52em">-1</tspan><tspan dy="0.416em">)</tspan></text>
<text transform="translate(631,684.2) rotate(-90)" font-size="27" text-anchor="middle" font-weight="bold" fill="#262626" textLength="264.6" lengthAdjust="spacingAndGlyphs">Log (peak current / mA)</text>
<text transform="translate(602,539.4) scale(1.15,1)" font-size="89.5" text-anchor="middle" font-weight="bold" fill="#000" >f</text>
<g id="p3g" filter="url(#soft)">
<path d="M1209.5,881.8L1582.7,881.8L1701,612L1439.8,612 Z" fill="#f2f2f2"/>
<path d="M1209.5,881.8L1209.5,694.7L1439.8,483.8L1439.8,612 Z" fill="#e5f6f6"/>
<path d="M1439.8,612L1439.8,483.8L1701,483.8L1701,612 Z" fill="#fdfde0"/>
<line x1="1209.5" y1="881.8" x2="1439.8" y2="612" stroke="#e8e8e8" stroke-width="1" />
<line x1="1439.8" y1="612" x2="1439.8" y2="483.8" stroke="#f3f3d4" stroke-width="1" />
<line x1="1284.1" y1="881.8" x2="1492" y2="612" stroke="#e8e8e8" stroke-width="1" />
<line x1="1492" y1="612" x2="1492" y2="483.8" stroke="#f3f3d4" stroke-width="1" />
<line x1="1358.8" y1="881.8" x2="1544.3" y2="612" stroke="#e8e8e8" stroke-width="1" />
<line x1="1544.3" y1="612" x2="1544.3" y2="483.8" stroke="#f3f3d4" stroke-width="1" />
<line x1="1433.4" y1="881.8" x2="1596.5" y2="612" stroke="#e8e8e8" stroke-width="1" />
<line x1="1596.5" y1="612" x2="1596.5" y2="483.8" stroke="#f3f3d4" stroke-width="1" />
<line x1="1508.1" y1="881.8" x2="1648.8" y2="612" stroke="#e8e8e8" stroke-width="1" />
<line x1="1648.8" y1="612" x2="1648.8" y2="483.8" stroke="#f3f3d4" stroke-width="1" />
<line x1="1582.7" y1="881.8" x2="1701" y2="612" stroke="#e8e8e8" stroke-width="1" />
<line x1="1701" y1="612" x2="1701" y2="483.8" stroke="#f3f3d4" stroke-width="1" />
<line x1="1209.5" y1="881.8" x2="1582.7" y2="881.8" stroke="#e9e9e9" stroke-width="1" />
<line x1="1209.5" y1="881.8" x2="1209.5" y2="694.7" stroke="#d3ecea" stroke-width="1" />
<line x1="1283.6" y1="795" x2="1620.8" y2="795" stroke="#e9e9e9" stroke-width="1" />
<line x1="1283.6" y1="795" x2="1283.6" y2="626.9" stroke="#d3ecea" stroke-width="1" />
<line x1="1346" y1="721.9" x2="1652.8" y2="721.9" stroke="#e9e9e9" stroke-width="1" />
<line x1="1346" y1="721.9" x2="1346" y2="569.7" stroke="#d3ecea" stroke-width="1" />
<line x1="1395.4" y1="664" x2="1678.2" y2="664" stroke="#e9e9e9" stroke-width="1" />
<line x1="1395.4" y1="664" x2="1395.4" y2="524.4" stroke="#d3ecea" stroke-width="1" />
<line x1="1439.8" y1="612" x2="1701" y2="612" stroke="#e9e9e9" stroke-width="1" />
<line x1="1439.8" y1="612" x2="1439.8" y2="483.8" stroke="#d3ecea" stroke-width="1" />
<line x1="1209.5" y1="694.7" x2="1439.8" y2="483.8" stroke="#d3ecea" stroke-width="1" />
<line x1="1439.8" y1="483.8" x2="1701" y2="483.8" stroke="#f3f3d4" stroke-width="1" />
<line x1="1209.5" y1="741.5" x2="1439.8" y2="515.9" stroke="#d3ecea" stroke-width="1" />
<line x1="1439.8" y1="515.9" x2="1701" y2="515.9" stroke="#f3f3d4" stroke-width="1" />
<line x1="1209.5" y1="788.2" x2="1439.8" y2="547.9" stroke="#d3ecea" stroke-width="1" />
<line x1="1439.8" y1="547.9" x2="1701" y2="547.9" stroke="#f3f3d4" stroke-width="1" />
<line x1="1209.5" y1="835" x2="1439.8" y2="580" stroke="#d3ecea" stroke-width="1" />
<line x1="1439.8" y1="580" x2="1701" y2="580" stroke="#f3f3d4" stroke-width="1" />
<line x1="1209.5" y1="881.8" x2="1439.8" y2="612" stroke="#d3ecea" stroke-width="1" />
<line x1="1439.8" y1="612" x2="1701" y2="612" stroke="#f3f3d4" stroke-width="1" />
<path d="M1209.5,881.8L1209.5,694.7L1439.8,483.8L1439.8,612 Z" fill="none" stroke="#b9c9c8" stroke-width="1.2"/>
<path d="M1439.8,483.8L1701,483.8L1701,612L1439.8,612" fill="none" stroke="#c9c9b0" stroke-width="1.2"/>
<path d="M1458.3,553.5C1460.2,550.9 1465.6,543.2 1469.8,537.9C1474,532.5 1479.1,526.5 1483.4,521.5C1487.8,516.6 1492.5,512.1 1495.7,507.9C1498.9,503.7 1500.9,498.6 1502.5,496.4C1504.1,494.1 1504.1,494.3 1505.2,494.3C1506.4,494.3 1507.7,494.3 1509.3,496.4C1510.9,498.4 1512.7,503.1 1514.7,506.6C1516.8,510.1 1518.8,514.2 1521.5,517.5C1524.3,520.7 1527.2,523.8 1531.1,526.3C1534.9,528.8 1540.1,530.5 1544.7,532.4C1549.2,534.4 1553.8,536.3 1558.3,537.9C1562.8,539.5 1567.4,540.9 1571.9,542C1576.4,543 1578.7,543.5 1585.5,544C1592.3,544.5 1593.7,544.9 1612.7,544.9C1631.7,545 1685.1,544.5 1699.5,544.4L1699.5,544.4C1699.5,545 1699.5,547.6 1699.5,548.2L1699.5,548.2C1680.5,548.3 1607.5,548.2 1585.5,548.5C1563.5,548.7 1573,549 1567.8,549.7C1562.6,550.4 1558.1,551.4 1554.2,552.8C1550.3,554.3 1547.7,556.1 1544.7,558.3C1541.6,560.5 1539.1,564.1 1535.8,566.2C1532.5,568.3 1529.1,570 1524.9,570.8C1520.8,571.6 1515,570.9 1510.7,570.8C1506.4,570.7 1502.6,569.6 1499.1,570C1495.6,570.3 1492.9,572.8 1489.6,573C1486.3,573.2 1482.7,572.5 1479.4,571.2C1476.1,569.9 1473.4,568.3 1469.8,565.4C1466.3,562.4 1460.2,555.5 1458.3,553.5Z" fill="#8000ff"/>
<path d="M1478,554.2C1479.1,551.5 1482.5,543.3 1484.8,537.9C1487.1,532.4 1489.6,526.4 1491.6,521.5C1493.7,516.7 1495.2,512.7 1497.1,508.6C1498.9,504.5 1501.1,499.3 1502.5,497.1C1503.9,494.8 1504.1,495 1505.2,495C1506.4,495 1507.7,495 1509.3,497.1C1510.9,499.1 1512.7,503.7 1514.7,507.3C1516.8,510.8 1518.8,514.9 1521.5,518.1C1524.3,521.4 1527.2,524.4 1531.1,527C1534.9,529.5 1540.1,531.5 1544.7,533.5C1549.2,535.6 1553.8,537.6 1558.3,539.2C1562.8,540.8 1567.4,542.1 1571.9,543C1576.4,544 1578.7,544.5 1585.5,544.9C1592.3,545.4 1593.7,545.6 1612.7,545.6C1631.7,545.7 1685.1,545.4 1699.5,545.4L1699.5,545.4C1699.5,545.7 1699.5,547.1 1699.5,547.4L1699.5,547.4C1680.5,547.4 1607.9,547.6 1585.5,547.7C1563.1,547.8 1570.8,547.7 1565.1,548.1C1559.4,548.5 1555.3,549 1551.5,550.1C1547.6,551.3 1544.9,552.8 1542,554.9C1539,556.9 1536.7,560.3 1533.8,562.4C1530.8,564.4 1528.1,566.3 1524.3,567.1C1520.4,567.9 1515,567.3 1510.7,567.1C1506.4,567 1502,566.2 1498.4,566.2C1494.8,566.2 1491.6,567.8 1488.9,567.1C1486.2,566.5 1483.9,564.5 1482.1,562.4C1480.3,560.2 1478.7,555.6 1478,554.2Z" fill="#c063f2" fill-opacity="1.0"/>
<path d="M1407.9,612C1409.2,609.7 1412.3,602.6 1415.4,597.7C1418.5,592.9 1422.4,587.5 1426.3,582.8C1430.2,578 1434.7,573 1438.5,569.2C1442.4,565.3 1446,562.5 1449.4,559.6C1452.8,556.8 1456.5,554 1459,552.2C1461.4,550.3 1462.8,549.4 1464.4,548.8C1466,548.1 1467.1,547.6 1468.5,548.1C1469.8,548.5 1470.7,549.1 1472.6,551.5C1474.4,553.9 1476.9,558.7 1479.4,562.4C1481.9,566 1484.4,570.4 1487.5,573.3C1490.7,576.1 1493.9,577.7 1498.4,579.4C1503,581.1 1509.3,582.2 1514.7,583.5C1520.2,584.7 1526.1,586 1531.1,586.9C1536.1,587.8 1537.9,588.4 1544.7,588.9C1551.5,589.4 1549.7,589.7 1571.9,589.9C1594.1,590 1660.1,589.9 1677.8,589.9L1677.8,589.9C1677.8,590.2 1678,591.7 1678,592L1678,592C1660.3,592.1 1594.1,592.1 1571.9,592.3C1549.7,592.5 1551.5,592.6 1544.7,593C1537.9,593.3 1535.2,593.8 1531.1,594.3C1527,594.9 1523.6,595.1 1520.2,596.4C1516.8,597.6 1513.8,599.8 1510.7,601.8C1507.5,603.9 1504.5,606.9 1501.1,608.6C1497.7,610.3 1494.3,611.4 1490.3,612C1486.2,612.7 1482.3,612.5 1476.6,612.7C1471,612.9 1461.9,612.9 1456.2,613.4C1450.6,613.8 1446,614.8 1442.6,615.4C1439.2,616.1 1439.2,617.5 1435.8,617.5C1432.4,617.5 1426.9,616.3 1422.2,615.4C1417.6,614.5 1410.3,612.6 1407.9,612Z" fill="#ff8000"/>
<path d="M1427.7,608.6C1429,606.8 1433.1,601.8 1435.8,597.7C1438.5,593.7 1441.3,589.4 1444,584.1C1446.7,578.9 1449.9,571.2 1452.2,566.4C1454.4,561.7 1455.6,558.4 1457.6,555.6C1459.6,552.7 1462.6,550.6 1464.4,549.4C1466.2,548.3 1467.1,548 1468.5,548.5C1469.8,548.9 1470.7,549.7 1472.6,552.2C1474.4,554.6 1476.9,559.4 1479.4,563C1481.9,566.7 1484.4,571.1 1487.5,573.9C1490.7,576.8 1493.9,578.4 1498.4,580.1C1503,581.8 1509.3,582.9 1514.7,584.1C1520.2,585.4 1526.1,586.6 1531.1,587.5C1536.1,588.4 1537.9,589.1 1544.7,589.6C1551.5,590.1 1549.7,590.3 1571.9,590.4C1594.1,590.5 1660.1,590.4 1677.8,590.4L1677.8,590.4C1677.8,590.6 1677.8,591.5 1677.8,591.8L1677.8,591.8C1660.1,591.8 1594.1,591.7 1571.9,591.8C1549.7,591.8 1551.5,592 1544.7,592.3C1537.9,592.6 1535.2,593 1531.1,593.4C1527,593.8 1523.6,593.8 1520.2,594.8C1516.8,595.7 1513.8,597.2 1510.7,599.1C1507.5,601 1504.5,604.1 1501.1,605.9C1497.7,607.7 1494.3,609 1490.3,609.7C1486.2,610.4 1482.3,610.2 1476.6,610.3C1471,610.3 1461.9,610.1 1456.2,610C1450.6,609.8 1447.4,609.5 1442.6,609.3C1437.9,609.1 1430.2,608.7 1427.7,608.6Z" fill="#e8ec62" fill-opacity="1.0"/>
<line x1="1678" y1="586.9" x2="1678" y2="601.1" stroke="#d8d870" stroke-width="1.2" stroke-opacity="0.6"/>
<path d="M1349.9,684C1350.7,681.6 1352.6,674.5 1354.2,669.8C1355.9,665 1357.5,660 1359.9,655.5C1362.3,651 1365.1,646.7 1368.5,642.7C1371.8,638.7 1376.1,634.6 1379.9,631.3C1383.6,628 1387.4,625.3 1391.2,622.8C1395,620.3 1399.1,618.2 1402.6,616.3C1406.2,614.5 1409.5,612.6 1412.6,611.4C1415.7,610.2 1418.8,609.2 1421.2,609.2C1423.5,609.2 1425,609.9 1426.9,611.4C1428.8,612.8 1430.2,615.4 1432.5,617.8C1434.9,620.1 1437.8,623.4 1441.1,625.6C1444.4,627.9 1448.2,629.6 1452.5,631.3C1456.8,633 1461,634.2 1466.7,635.6C1472.4,637 1479.8,638.7 1486.7,639.9C1493.6,641 1500.9,641.8 1508,642.4C1515.2,643 1505.4,643.3 1529.4,643.4C1553.4,643.5 1631.7,643.1 1652.2,643L1652.2,643C1652.2,643.6 1652.2,646.1 1652.2,646.7L1652.2,646.7C1631.7,646.7 1554.6,646.6 1529.4,646.7C1504.2,646.8 1508,647 1500.9,647.3C1493.8,647.5 1490.9,647.7 1486.7,648.4C1482.4,649.1 1479.1,649.8 1475.3,651.2C1471.5,652.7 1467.4,655.4 1463.9,656.9C1460.3,658.5 1457.7,659.8 1453.9,660.5C1450.1,661.2 1446.3,661.1 1441.1,661.2C1435.9,661.3 1429.2,660.5 1422.6,660.9C1415.9,661.4 1407.1,662.7 1401.2,664.1C1395.3,665.4 1391.7,667.1 1387,669C1382.2,670.9 1377.2,673.3 1372.7,675.5C1368.2,677.6 1363.7,680.4 1359.9,681.9C1356.1,683.3 1351.6,683.6 1349.9,684Z" fill="#00009c"/>
<path d="M1379.9,659.1C1381.5,657.5 1386.7,653.3 1389.8,649.8C1392.9,646.4 1395.8,642.5 1398.4,638.4C1401,634.4 1403.4,629.5 1405.5,625.6C1407.6,621.7 1409.5,617.4 1411.2,614.9C1412.8,612.4 1413.8,611.6 1415.5,610.7C1417.1,609.7 1419.3,609.1 1421.2,609.2C1423.1,609.3 1425,609.9 1426.9,611.4C1428.8,612.8 1430.2,615.4 1432.5,617.8C1434.9,620.1 1437.8,623.4 1441.1,625.6C1444.4,627.9 1448.2,629.6 1452.5,631.3C1456.8,633 1461,634.2 1466.7,635.6C1472.4,637 1479.8,638.7 1486.7,639.9C1493.6,641 1500.9,642 1508,642.7C1515.2,643.4 1505.4,643.7 1529.4,643.8C1553.4,644 1631.7,643.6 1652.2,643.6L1652.2,643.6C1652.2,643.9 1652.2,645.5 1652.2,645.8L1652.2,645.8C1631.7,645.9 1554.6,646 1529.4,646.1C1504.2,646.2 1508,646.3 1500.9,646.4C1493.8,646.5 1490.9,646.4 1486.7,646.7C1482.4,647 1479.1,647.2 1475.3,648.4C1471.5,649.6 1467.4,652.2 1463.9,653.8C1460.3,655.4 1457.7,657.2 1453.9,658.1C1450.1,659 1446.3,658.9 1441.1,659.1C1435.9,659.2 1429.2,659 1422.6,659.1C1415.9,659.2 1408.3,659.8 1401.2,659.8C1394.1,659.8 1383.4,659.2 1379.9,659.1Z" fill="#6868ff" fill-opacity="1.0"/>
<path d="M1351.4,666.2C1353.7,665.3 1360.9,662.1 1365.6,660.8C1370.4,659.5 1377.5,658.5 1379.9,658.4C1382.2,658.2 1382.2,659.1 1379.9,659.8C1377.5,660.5 1370.4,661 1365.6,662.4C1360.9,663.7 1353.7,666.7 1351.4,667.6Z" fill="#6868ff" fill-opacity="1.0"/>
<line x1="1652.2" y1="646.7" x2="1652.2" y2="753.8" stroke="#9090ff" stroke-width="1.1" stroke-opacity="0.3"/>
<path d="M1286.4,746.4C1287.2,743.7 1289.1,735.2 1291.2,730.3C1293.2,725.4 1295.6,721.2 1298.7,717C1301.9,712.7 1306,708.3 1310.1,704.6C1314.3,701 1319,697.8 1323.4,695.1C1327.9,692.4 1332.3,690.2 1336.7,688.5C1341.2,686.8 1346.5,685.5 1350,685.1C1353.5,684.6 1354.8,686 1357.6,685.6C1360.5,685.3 1364.3,683.2 1367.1,683.2C1370,683.2 1372.2,684.3 1374.7,685.6C1377.2,687 1379.5,689.4 1382.3,691.3C1385.2,693.2 1387.4,695.4 1391.8,697C1396.2,698.6 1402.9,699.6 1408.9,700.8C1414.9,702.1 1421.5,703.6 1427.9,704.6C1434.2,705.7 1439,706.5 1446.9,707.1C1454.8,707.7 1446.2,708.2 1475.4,708.4C1504.5,708.6 1597.5,708.4 1622,708.4L1622,708.4C1622,709 1622,711.3 1622,711.8L1622,711.8C1597.5,711.8 1504.5,711.7 1475.4,711.7C1446.2,711.6 1453.5,711.3 1446.9,711.3C1440.2,711.2 1439.3,710.9 1435.5,711.3C1431.7,711.7 1427.6,712.4 1424.1,713.6C1420.6,714.7 1417.7,716.7 1414.6,717.9C1411.4,719.1 1409.2,720.1 1405.1,720.8C1401,721.4 1395.6,721.4 1389.9,721.7C1384.2,722 1377.2,722.2 1370.9,722.7C1364.6,723.1 1358.2,723.8 1351.9,724.6C1345.6,725.4 1339.3,726.1 1332.9,727.4C1326.6,728.7 1319.6,730.3 1313.9,732.2C1308.2,734.1 1303.3,736.4 1298.7,738.8C1294.2,741.2 1288.5,745.1 1286.4,746.4Z" fill="#008000"/>
<path d="M1332.9,721.1C1334.2,719.5 1338,715.1 1340.5,711.3C1343.1,707.4 1345.6,701.8 1348.1,698C1350.7,694.2 1353.2,690.9 1355.7,688.5C1358.2,686.1 1361.3,684.7 1363.3,683.7C1365.4,682.8 1366.2,682.5 1368.1,682.8C1370,683.1 1372.3,684.2 1374.7,685.6C1377.1,687.1 1379.5,689.4 1382.3,691.3C1385.2,693.2 1387.4,695.4 1391.8,697C1396.2,698.6 1402.9,699.6 1408.9,700.8C1414.9,702.1 1421.5,703.6 1427.9,704.6C1434.2,705.7 1439,706.4 1446.9,707.1C1454.8,707.8 1446.2,708.4 1475.4,708.6C1504.5,708.9 1597.5,708.6 1622,708.6L1622,708.6C1622,709.1 1622,710.8 1622,711.3L1622,711.3C1597.5,711.3 1504.5,711.4 1475.4,711.3C1446.2,711.1 1453.8,710.8 1446.9,710.5C1439.9,710.3 1437.4,709.6 1433.6,709.8C1429.8,709.9 1427.2,710.6 1424.1,711.7C1420.9,712.7 1417.7,714.8 1414.6,716C1411.4,717.3 1409.2,718.5 1405.1,719.2C1401,720 1395.6,720.1 1389.9,720.4C1384.2,720.6 1377.2,720.6 1370.9,720.8C1364.6,720.9 1358.2,721.1 1351.9,721.1C1345.6,721.2 1336.1,721.1 1332.9,721.1Z" fill="#6ae870" fill-opacity="1.0"/>
<path d="M1287.4,726.5C1291.8,725.8 1306.3,723.7 1313.9,722.7C1321.5,721.6 1329.8,720.2 1332.9,720C1336.1,719.8 1336.1,721 1332.9,721.7C1329.8,722.5 1321.5,723.6 1313.9,724.6C1306.3,725.6 1291.8,727.3 1287.4,727.8Z" fill="#6ae870" fill-opacity="1.0"/>
<line x1="1622" y1="711.8" x2="1622" y2="791" stroke="#90e890" stroke-width="1.1" stroke-opacity="0.35"/>
<path d="M1211,812.9C1211.7,811 1213.5,804.8 1215.2,801.5C1216.8,798.2 1218.7,795.6 1220.9,792.9C1223.1,790.2 1225.6,787.6 1228.5,785.3C1231.3,783.1 1234.5,781 1238,779.3C1241.5,777.5 1245.6,775.9 1249.4,774.9C1253.2,773.8 1257,773.3 1260.8,773C1264.6,772.7 1268.7,772.7 1272.2,773C1275.6,773.3 1278.8,774.6 1281.7,774.9C1284.5,775.1 1286.4,774.7 1289.3,774.5C1292.1,774.3 1295.6,773.6 1298.7,773.6C1301.9,773.6 1305.1,773.8 1308.2,774.5C1311.4,775.2 1314.3,776.6 1317.7,777.7C1321.2,778.9 1325,780.6 1329.1,781.5C1333.2,782.5 1337.7,783 1342.4,783.4C1347.2,783.8 1352.9,783.7 1357.6,784C1362.4,784.3 1365.5,784.6 1370.9,785C1376.3,785.3 1383.6,785.7 1389.9,785.9C1396.2,786.1 1376.6,786.3 1408.9,786.3C1441.2,786.3 1554.5,785.8 1583.6,785.7L1583.6,785.7C1583.6,786.3 1583.6,788.9 1583.6,789.5L1583.6,789.5C1554.5,789.5 1441.2,789.4 1408.9,789.5C1376.6,789.6 1394.6,789.9 1389.9,789.9C1385.2,789.9 1384.2,789.4 1380.4,789.5C1376.6,789.6 1370.9,790 1367.1,790.5C1363.3,790.9 1360.8,791.8 1357.6,792.4C1354.4,793 1352.2,793.6 1348.1,794.1C1344,794.5 1338.6,794.8 1332.9,795C1327.2,795.2 1320.3,795.2 1313.9,795.4C1307.6,795.6 1301.3,795.7 1294.9,796C1288.6,796.3 1282.3,796.7 1276,797.3C1269.6,797.9 1263.3,798.7 1257,799.8C1250.6,800.8 1243.7,802.1 1238,803.6C1232.3,805 1227.3,806.8 1222.8,808.3C1218.3,809.9 1213,812.1 1211,812.9Z" fill="#ff0000"/>
<path d="M1257,791C1259.5,789.8 1268,785.6 1272.2,783.4C1276.3,781.2 1278.8,779.2 1281.7,777.7C1284.5,776.2 1286.4,775.2 1289.3,774.5C1292.1,773.8 1295.6,773.6 1298.7,773.6C1301.9,773.6 1305.1,773.8 1308.2,774.5C1311.4,775.2 1314.3,776.6 1317.7,777.7C1321.2,778.9 1325,780.6 1329.1,781.5C1333.2,782.5 1337.7,783 1342.4,783.4C1347.2,783.8 1352.9,783.7 1357.6,784C1362.4,784.3 1365.5,784.6 1370.9,785C1376.3,785.3 1383.6,785.7 1389.9,785.9C1396.2,786.1 1376.6,786.3 1408.9,786.3C1441.2,786.3 1554.5,785.8 1583.6,785.7L1583.6,785.7C1583.6,785.1 1583.4,782.7 1583.6,782.1C1583.8,781.5 1584.5,780.7 1584.7,782.1C1584.9,783.5 1584.9,789.2 1584.7,790.6C1584.5,792.1 1583.8,790.8 1583.6,790.6C1583.4,790.5 1583.6,789.7 1583.6,789.5L1583.6,789.5C1554.5,789.5 1441.2,789.4 1408.9,789.5C1376.6,789.6 1395.3,790 1389.9,789.9C1384.5,789.8 1380.4,789.3 1376.6,789.1C1372.8,788.9 1370.3,788.4 1367.1,788.8C1363.9,789.1 1360.8,790.3 1357.6,791C1354.4,791.7 1352.2,792.5 1348.1,792.9C1344,793.4 1338.6,793.7 1332.9,793.9C1327.2,794 1320.3,793.9 1313.9,793.9C1307.6,793.8 1301.3,793.8 1294.9,793.5C1288.6,793.2 1282.3,792.7 1276,792.4C1269.6,792 1260.1,791.6 1257,791.4Z" fill="#ff9292" fill-opacity="1.0"/>
<path d="M1212.3,796C1216,795.5 1226.7,794.2 1234.2,793.3C1241.6,792.4 1253.2,790.6 1257,790.5C1260.8,790.3 1260.8,791.4 1257,792.2C1253.2,793 1241.6,794.3 1234.2,795.2C1226.7,796.1 1216,797.1 1212.3,797.5Z" fill="#ff9292" fill-opacity="1.0"/>
<line x1="1584" y1="790.6" x2="1584" y2="881.2" stroke="#ff9090" stroke-width="1.1" stroke-opacity="0.35"/>
<line x1="1209.5" y1="882.8" x2="1209.5" y2="694.7" stroke="#4a4a4a" stroke-width="2" />
<line x1="1208.5" y1="881.8" x2="1583.7" y2="881.8" stroke="#4a4a4a" stroke-width="2" />
<line x1="1582.7" y1="881.8" x2="1701" y2="612" stroke="#4a4a4a" stroke-width="1.7" />
<line x1="1202.5" y1="694.7" x2="1209.5" y2="694.7" stroke="#4a4a4a" stroke-width="1.6" />
<text transform="translate(1197.5,699.9)" font-size="15.5" text-anchor="end" font-weight="bold" fill="#2c2c2c" >2</text>
<line x1="1205.5" y1="718.1" x2="1209.5" y2="718.1" stroke="#4a4a4a" stroke-width="1.4" />
<line x1="1202.5" y1="741.5" x2="1209.5" y2="741.5" stroke="#4a4a4a" stroke-width="1.6" />
<text transform="translate(1197.5,746.7)" font-size="15.5" text-anchor="end" font-weight="bold" fill="#2c2c2c" >1</text>
<line x1="1205.5" y1="764.9" x2="1209.5" y2="764.9" stroke="#4a4a4a" stroke-width="1.4" />
<line x1="1202.5" y1="788.2" x2="1209.5" y2="788.2" stroke="#4a4a4a" stroke-width="1.6" />
<text transform="translate(1197.5,793.5)" font-size="15.5" text-anchor="end" font-weight="bold" fill="#2c2c2c" >0</text>
<line x1="1205.5" y1="811.6" x2="1209.5" y2="811.6" stroke="#4a4a4a" stroke-width="1.4" />
<line x1="1202.5" y1="835" x2="1209.5" y2="835" stroke="#4a4a4a" stroke-width="1.6" />
<text transform="translate(1197.5,840.2)" font-size="15.5" text-anchor="end" font-weight="bold" fill="#2c2c2c" >-1</text>
<line x1="1205.5" y1="858.4" x2="1209.5" y2="858.4" stroke="#4a4a4a" stroke-width="1.4" />
<line x1="1202.5" y1="881.8" x2="1209.5" y2="881.8" stroke="#4a4a4a" stroke-width="1.6" />
<text transform="translate(1197.5,887)" font-size="15.5" text-anchor="end" font-weight="bold" fill="#2c2c2c" >-2</text>
<line x1="1209.5" y1="881.8" x2="1209.5" y2="888.8" stroke="#4a4a4a" stroke-width="1.6" />
<text transform="translate(1209.5,909.3)" font-size="15.5" text-anchor="middle" font-weight="bold" fill="#2c2c2c" >0.0</text>
<line x1="1284.1" y1="881.8" x2="1284.1" y2="888.8" stroke="#4a4a4a" stroke-width="1.6" />
<text transform="translate(1284.1,909.3)" font-size="15.5" text-anchor="middle" font-weight="bold" fill="#2c2c2c" >0.5</text>
<line x1="1358.8" y1="881.8" x2="1358.8" y2="888.8" stroke="#4a4a4a" stroke-width="1.6" />
<text transform="translate(1358.8,909.3)" font-size="15.5" text-anchor="middle" font-weight="bold" fill="#2c2c2c" >1.0</text>
<line x1="1433.4" y1="881.8" x2="1433.4" y2="888.8" stroke="#4a4a4a" stroke-width="1.6" />
<text transform="translate(1433.4,909.3)" font-size="15.5" text-anchor="middle" font-weight="bold" fill="#2c2c2c" >1.5</text>
<line x1="1508.1" y1="881.8" x2="1508.1" y2="888.8" stroke="#4a4a4a" stroke-width="1.6" />
<text transform="translate(1508.1,909.3)" font-size="15.5" text-anchor="middle" font-weight="bold" fill="#2c2c2c" >2.0</text>
<line x1="1582.7" y1="881.8" x2="1582.7" y2="888.8" stroke="#4a4a4a" stroke-width="1.6" />
<text transform="translate(1582.7,909.3)" font-size="15.5" text-anchor="middle" font-weight="bold" fill="#2c2c2c" >2.5</text>
<line x1="1582.7" y1="881.8" x2="1590.7" y2="881.8" stroke="#4a4a4a" stroke-width="1.5" />
<text transform="translate(1594.7,887.4)" font-size="15.5" text-anchor="start" font-weight="bold" fill="#2c2c2c" >1</text>
<line x1="1620.8" y1="795" x2="1627.8" y2="795" stroke="#4a4a4a" stroke-width="1.5" />
<text transform="translate(1631.8,799.9)" font-size="13.5" text-anchor="start" font-weight="bold" fill="#2c2c2c" >2</text>
<line x1="1652.8" y1="721.9" x2="1659" y2="721.9" stroke="#4a4a4a" stroke-width="1.5" />
<text transform="translate(1663,726.1)" font-size="11.5" text-anchor="start" font-weight="bold" fill="#2c2c2c" >3</text>
<line x1="1678.2" y1="664" x2="1683.8" y2="664" stroke="#4a4a4a" stroke-width="1.5" />
<text transform="translate(1687.8,667.6)" font-size="10" text-anchor="start" font-weight="bold" fill="#2c2c2c" >4</text>
<line x1="1701" y1="612" x2="1706" y2="612" stroke="#4a4a4a" stroke-width="1.5" />
<text transform="translate(1710,614.9)" font-size="8" text-anchor="start" font-weight="bold" fill="#2c2c2c" >5</text>
<text transform="translate(1176.2,788.2) rotate(-90)" font-size="15.5" text-anchor="middle" font-weight="bold" fill="#1e1e1e" >Current (mA)</text>
<text transform="translate(1396.6,935.3)" font-size="17" text-anchor="middle" font-weight="bold" fill="#1e1e1e" >Potential (V)</text>
<text transform="translate(1695.6,726) rotate(-66.6) skewX(23.4) scale(1,0.86)" font-size="17.5" text-anchor="middle" font-weight="bold" fill="#1c1c1c">V (mV s<tspan dy="-0.8em" font-size="0.52em">-1</tspan><tspan dy="0.416em">)</tspan></text>
</g>
<text transform="translate(1190.4,535.8) scale(1.05,1)" font-size="80" text-anchor="middle" font-weight="bold" fill="#000" >g</text>
<rect x="1853.4" y="614.8" width="42.2" height="120" fill="#c0c0c0"/>
<rect x="1853.4" y="736.6" width="42.2" height="126.4" fill="#008080"/>
<rect x="1947.6" y="614.8" width="42.2" height="102.6" fill="#c0c0c0"/>
<rect x="1947.6" y="719.2" width="42.2" height="143.8" fill="#008080"/>
<rect x="2041.1" y="614.8" width="42.2" height="90.1" fill="#c0c0c0"/>
<rect x="2041.1" y="706.7" width="42.2" height="156.3" fill="#008080"/>
<rect x="2134.7" y="614.8" width="42.2" height="80.2" fill="#c0c0c0"/>
<rect x="2134.7" y="696.8" width="42.2" height="166.2" fill="#008080"/>
<rect x="2228.2" y="614.8" width="42.2" height="72.7" fill="#c0c0c0"/>
<rect x="2228.2" y="689.3" width="42.2" height="173.7" fill="#008080"/>
<rect x="1827.5" y="514.4" width="468.8" height="348.6" fill="none" stroke="#2b2b2b" stroke-width="2.5"/>
<line x1="1820" y1="514.4" x2="1827.5" y2="514.4" stroke="#2b2b2b" stroke-width="2.4" />
<text transform="translate(1815.6,522.9) scale(0.86,1)" font-size="27" text-anchor="end" font-weight="bold" fill="#262626" >140</text>
<line x1="1820" y1="564.2" x2="1827.5" y2="564.2" stroke="#2b2b2b" stroke-width="2.4" />
<text transform="translate(1815.6,572.7) scale(0.86,1)" font-size="27" text-anchor="end" font-weight="bold" fill="#262626" >120</text>
<line x1="1820" y1="614" x2="1827.5" y2="614" stroke="#2b2b2b" stroke-width="2.4" />
<text transform="translate(1815.6,622.5) scale(0.86,1)" font-size="27" text-anchor="end" font-weight="bold" fill="#262626" >100</text>
<line x1="1820" y1="663.8" x2="1827.5" y2="663.8" stroke="#2b2b2b" stroke-width="2.4" />
<text transform="translate(1815.6,672.3) scale(0.86,1)" font-size="27" text-anchor="end" font-weight="bold" fill="#262626" >80</text>
<line x1="1820" y1="713.6" x2="1827.5" y2="713.6" stroke="#2b2b2b" stroke-width="2.4" />
<text transform="translate(1815.6,722.1) scale(0.86,1)" font-size="27" text-anchor="end" font-weight="bold" fill="#262626" >60</text>
<line x1="1820" y1="763.4" x2="1827.5" y2="763.4" stroke="#2b2b2b" stroke-width="2.4" />
<text transform="translate(1815.6,771.9) scale(0.86,1)" font-size="27" text-anchor="end" font-weight="bold" fill="#262626" >40</text>
<line x1="1820" y1="813.2" x2="1827.5" y2="813.2" stroke="#2b2b2b" stroke-width="2.4" />
<text transform="translate(1815.6,821.7) scale(0.86,1)" font-size="27" text-anchor="end" font-weight="bold" fill="#262626" >20</text>
<line x1="1820" y1="863" x2="1827.5" y2="863" stroke="#2b2b2b" stroke-width="2.4" />
<text transform="translate(1815.6,871.5) scale(0.86,1)" font-size="27" text-anchor="end" font-weight="bold" fill="#262626" >0</text>
<line x1="1824" y1="539.3" x2="1827.5" y2="539.3" stroke="#2b2b2b" stroke-width="2.4" />
<line x1="1824" y1="589.1" x2="1827.5" y2="589.1" stroke="#2b2b2b" stroke-width="2.4" />
<line x1="1824" y1="638.9" x2="1827.5" y2="638.9" stroke="#2b2b2b" stroke-width="2.4" />
<line x1="1824" y1="688.7" x2="1827.5" y2="688.7" stroke="#2b2b2b" stroke-width="2.4" />
<line x1="1824" y1="738.5" x2="1827.5" y2="738.5" stroke="#2b2b2b" stroke-width="2.4" />
<line x1="1824" y1="788.3" x2="1827.5" y2="788.3" stroke="#2b2b2b" stroke-width="2.4" />
<line x1="1824" y1="838.1" x2="1827.5" y2="838.1" stroke="#2b2b2b" stroke-width="2.4" />
<line x1="1874.5" y1="863" x2="1874.5" y2="870.5" stroke="#2b2b2b" stroke-width="2.4" />
<text transform="translate(1874.5,892) scale(0.86,1)" font-size="27" text-anchor="middle" font-weight="bold" fill="#262626" >1</text>
<line x1="1968.7" y1="863" x2="1968.7" y2="870.5" stroke="#2b2b2b" stroke-width="2.4" />
<text transform="translate(1968.7,892) scale(0.86,1)" font-size="27" text-anchor="middle" font-weight="bold" fill="#262626" >2</text>
<line x1="2062.2" y1="863" x2="2062.2" y2="870.5" stroke="#2b2b2b" stroke-width="2.4" />
<text transform="translate(2062.2,892) scale(0.86,1)" font-size="27" text-anchor="middle" font-weight="bold" fill="#262626" >3</text>
<line x1="2155.8" y1="863" x2="2155.8" y2="870.5" stroke="#2b2b2b" stroke-width="2.4" />
<text transform="translate(2155.8,892) scale(0.86,1)" font-size="27" text-anchor="middle" font-weight="bold" fill="#262626" >4</text>
<line x1="2249.3" y1="863" x2="2249.3" y2="870.5" stroke="#2b2b2b" stroke-width="2.4" />
<text transform="translate(2249.3,892) scale(0.86,1)" font-size="27" text-anchor="middle" font-weight="bold" fill="#262626" >5</text>
<line x1="1921.6" y1="863" x2="1921.6" y2="866.5" stroke="#2b2b2b" stroke-width="2.4" />
<line x1="2015.4" y1="863" x2="2015.4" y2="866.5" stroke="#2b2b2b" stroke-width="2.4" />
<line x1="2109" y1="863" x2="2109" y2="866.5" stroke="#2b2b2b" stroke-width="2.4" />
<line x1="2202.6" y1="863" x2="2202.6" y2="866.5" stroke="#2b2b2b" stroke-width="2.4" />
<line x1="1827.4" y1="863" x2="1827.4" y2="866.5" stroke="#2b2b2b" stroke-width="2.4" />
<rect x="1990.1" y="546.7" width="47.7" height="21.1" fill="#c0c0c0"/>
<rect x="1990.1" y="575.6" width="48.3" height="22.8" fill="#008080"/>
<text transform="translate(2046.3,563.7)" font-size="27" text-anchor="start" font-weight="bold" fill="#262626" textLength="220.7" lengthAdjust="spacingAndGlyphs">Diffusion controlled</text>
<text transform="translate(2046.3,593.3)" font-size="27" text-anchor="start" font-weight="bold" fill="#262626" textLength="111.9" lengthAdjust="spacingAndGlyphs">Capactive</text>
<text transform="translate(1872.9,682.8)" font-size="29" text-anchor="middle" font-weight="bold" fill="#0c0c14" textLength="45.4" lengthAdjust="spacingAndGlyphs">49%</text>
<text transform="translate(1967.1,672.6)" font-size="29" text-anchor="middle" font-weight="bold" fill="#0c0c14" textLength="45.4" lengthAdjust="spacingAndGlyphs">42%</text>
<text transform="translate(2060.6,666.5)" font-size="29" text-anchor="middle" font-weight="bold" fill="#0c0c14" textLength="45.4" lengthAdjust="spacingAndGlyphs">37%</text>
<text transform="translate(2154.2,661.4)" font-size="29" text-anchor="middle" font-weight="bold" fill="#0c0c14" textLength="45.4" lengthAdjust="spacingAndGlyphs">33%</text>
<text transform="translate(2247.7,657.3)" font-size="29" text-anchor="middle" font-weight="bold" fill="#0c0c14" textLength="45.4" lengthAdjust="spacingAndGlyphs">30%</text>
<text transform="translate(1872.9,806)" font-size="29" text-anchor="middle" font-weight="bold" fill="#ffffff" textLength="45.4" lengthAdjust="spacingAndGlyphs">51%</text>
<text transform="translate(1967.1,798.4)" font-size="29" text-anchor="middle" font-weight="bold" fill="#ffffff" textLength="45.4" lengthAdjust="spacingAndGlyphs">58%</text>
<text transform="translate(2060.6,791.6)" font-size="29" text-anchor="middle" font-weight="bold" fill="#ffffff" textLength="45.4" lengthAdjust="spacingAndGlyphs">63%</text>
<text transform="translate(2154.2,786.5)" font-size="29" text-anchor="middle" font-weight="bold" fill="#ffffff" textLength="45.4" lengthAdjust="spacingAndGlyphs">67%</text>
<text transform="translate(2247.7,782.4)" font-size="29" text-anchor="middle" font-weight="bold" fill="#ffffff" textLength="45.4" lengthAdjust="spacingAndGlyphs">70%</text>
<text transform="translate(2062.7,915)" font-size="27" text-anchor="middle" font-weight="bold" fill="#262626" textLength="213.4" lengthAdjust="spacingAndGlyphs">Sweep rate (mV s<tspan dy="-0.8em" font-size="0.52em">-1</tspan><tspan dy="0.416em">)</tspan></text>
<text transform="translate(1767.3,676.8) rotate(-90)" font-size="27" text-anchor="middle" font-weight="bold" fill="#262626" textLength="262" lengthAdjust="spacingAndGlyphs">Contribution ratio (%)</text>
<text transform="translate(1756.1,535.5) scale(0.935,1)" font-size="86" text-anchor="middle" font-weight="bold" fill="#000" >h</text>
<clipPath id="ci"><rect x="114" y="977" width="472.3" height="349.6"/></clipPath>
<g clip-path="url(#ci)" fill="none" stroke-width="1.65" stroke-linejoin="round">
<path d="M159.9,1193.9C160.3,1192.3 161.3,1187.6 162.4,1184.2C163.5,1180.9 164.5,1177.4 166.2,1174C167.9,1170.6 170.1,1167.2 172.6,1163.8C175.2,1160.4 178.4,1156.7 181.6,1153.6C184.7,1150.6 188.4,1147.6 191.8,1145.5C195.2,1143.3 198.6,1142.9 202,1140.9C205.4,1138.8 208.8,1136.2 212.2,1133.2C215.6,1130.2 219.4,1126 222.4,1123C225.4,1120 228.1,1117.1 230,1115.3C231.9,1113.6 232.4,1112.1 233.9,1112.3C235.3,1112.5 236.8,1114.6 239,1116.6C241.1,1118.6 243.9,1121.8 246.6,1124.3C249.4,1126.7 252.4,1129.3 255.5,1131.2C258.7,1133 261.9,1134.3 265.8,1135.2C269.6,1136.2 273,1136.7 278.5,1137C284,1137.3 290.4,1136.9 298.9,1137C307.4,1137.1 321.5,1137 329.5,1137.5C337.6,1138.1 341.5,1139.3 347.4,1140.3C353.4,1141.4 358.9,1142.6 365.3,1143.9C371.6,1145.3 379.7,1147.3 385.7,1148.5C391.6,1149.7 394.6,1150.5 401,1151.1C407.4,1151.6 393.8,1151.7 424,1151.8C454.2,1151.9 555.8,1151.1 582.2,1151.6C608.5,1152 610.7,1154 582.2,1154.6C553.7,1155.3 443.9,1155.3 411.2,1155.7C378.5,1156 392.1,1155.8 385.7,1156.7C379.3,1157.5 377.2,1159.6 372.9,1160.8C368.7,1162 364.4,1162.8 360.2,1163.8C355.9,1164.8 351.7,1166 347.4,1166.9C343.2,1167.7 341,1168.2 334.7,1168.9C328.3,1169.7 317.6,1170.9 309.1,1171.5C300.6,1172 292.1,1172 283.6,1172.2C275.1,1172.5 266.6,1172.3 258.1,1172.8C249.6,1173.2 241.1,1174.4 232.6,1174.8C224.1,1175.2 213.4,1175.1 207.1,1175.3C200.7,1175.5 197.7,1175.4 194.3,1176.1C190.9,1176.7 189.2,1178 186.7,1179.1C184.1,1180.3 181.6,1181.7 179,1183C176.4,1184.2 173.7,1185.5 171.3,1186.8C169,1188.1 166.9,1189.4 165,1190.6C163.1,1191.8 160.7,1193.4 159.9,1193.9" stroke="#2a2a2a"/>
<path d="M159.9,1220C160.4,1217 161.8,1208.1 163.2,1202.1C164.6,1196.1 166.1,1189.8 168.3,1184.2C170.5,1178.7 173.4,1173.8 176.4,1168.9C179.5,1164 182.8,1159.6 186.7,1154.9C190.5,1150.2 195.2,1145.1 199.4,1140.9C203.7,1136.6 207.9,1133.2 212.2,1129.4C216.4,1125.5 221.1,1121.9 224.9,1117.9C228.8,1113.9 232.2,1109.8 235.1,1105.1C238.1,1100.5 240.7,1094.1 242.8,1089.8C244.9,1085.6 246.4,1081.4 247.9,1079.6C249.4,1077.8 250,1077.8 251.7,1079.1C253.4,1080.4 255.3,1083.4 258.1,1087.3C260.9,1091.2 264.9,1098.3 268.3,1102.6C271.7,1106.8 275.1,1110.2 278.5,1112.8C281.9,1115.3 285.3,1116.7 288.7,1117.9C292.1,1119.1 294.7,1119.5 298.9,1119.9C303.2,1120.4 309.6,1120 314.2,1120.4C318.9,1120.9 322.7,1121.9 327,1122.5C331.2,1123 335.9,1123 339.8,1123.8C343.6,1124.5 346.6,1125.6 350,1126.8C353.4,1128.1 356.8,1129.6 360.2,1131.2C363.6,1132.7 367,1134.6 370.4,1136.3C373.8,1137.9 377.2,1139.3 380.6,1140.9C384,1142.4 387.4,1144.3 390.8,1145.5C394.2,1146.6 397.6,1147.3 401,1148C404.4,1148.7 405.2,1149.1 411.2,1149.5C417.2,1150 408.2,1150.4 436.7,1150.6C465.2,1150.7 557.9,1149.9 582.2,1150.6C606.4,1151.2 610.7,1153.8 582.2,1154.6C553.7,1155.5 443.9,1155.3 411.2,1155.7C378.5,1156 391.6,1156.1 385.7,1156.7C379.7,1157.3 378.9,1158 375.5,1159.2C372.1,1160.5 368.7,1162.3 365.3,1164.3C361.9,1166.4 358.5,1169.4 355.1,1171.5C351.7,1173.5 348.3,1175.1 344.9,1176.6C341.5,1178.1 338.5,1179.2 334.7,1180.4C330.8,1181.6 326.1,1182.9 321.9,1183.7C317.6,1184.6 315.5,1185.1 309.1,1185.5C302.8,1185.9 292.1,1186 283.6,1186.3C275.1,1186.6 266.6,1186.9 258.1,1187.3C249.6,1187.7 238.1,1188.6 232.6,1188.8C227.1,1189.1 227.9,1189 224.9,1188.8C222,1188.6 218.1,1187.8 214.7,1187.6C211.3,1187.3 207.5,1187.3 204.5,1187.6C201.5,1187.8 199.8,1187.7 196.9,1188.8C193.9,1190 189.6,1192.4 186.7,1194.4C183.7,1196.4 181.3,1198.7 179,1200.8C176.7,1202.9 174.7,1205.1 172.6,1207.2C170.5,1209.3 168.4,1211.5 166.2,1213.6C164.1,1215.7 160.9,1218.9 159.9,1220" stroke="#ff2828"/>
<path d="M160.6,1245.5C161.1,1241.2 162.3,1228.5 163.7,1220C165,1211.5 166.7,1201.9 168.8,1194.4C170.9,1187 173.5,1181.5 176.4,1175.3C179.4,1169.1 182.8,1163.2 186.7,1157.4C190.5,1151.7 195.2,1146 199.4,1140.9C203.7,1135.8 207.9,1131.5 212.2,1126.8C216.4,1122.1 220.7,1118.5 224.9,1112.8C229.2,1107 233.9,1099 237.7,1092.4C241.5,1085.8 244.9,1078.3 247.9,1073.2C250.9,1068.1 253.2,1064.1 255.5,1061.8C257.9,1059.4 259.8,1059 261.9,1059.2C264.1,1059.4 266,1060.5 268.3,1063C270.6,1065.6 273.4,1070.7 276,1074.5C278.5,1078.3 281.1,1082.8 283.6,1086C286.2,1089.2 288.3,1091.4 291.3,1093.7C294.2,1095.9 297.7,1098 301.5,1099.5C305.3,1101 310,1101.7 314.2,1102.6C318.5,1103.4 322.7,1104 327,1104.6C331.2,1105.3 335.9,1105.5 339.8,1106.4C343.6,1107.3 346.6,1108.5 350,1110.2C353.4,1111.9 356.8,1114.3 360.2,1116.6C363.6,1119 367,1121.7 370.4,1124.3C373.8,1126.8 377.2,1129.6 380.6,1131.9C384,1134.3 387.4,1136.4 390.8,1138.3C394.2,1140.2 397.6,1142 401,1143.4C404.4,1144.8 407.4,1145.6 411.2,1146.5C415,1147.3 417.6,1148 424,1148.5C430.3,1149 423.1,1149.1 449.5,1149.3C475.8,1149.5 560,1148.9 582.2,1149.8C604.3,1150.6 610.7,1153.4 582.2,1154.4C553.7,1155.4 443.9,1155.3 411.2,1155.7C378.5,1156 391.6,1156 385.7,1156.7C379.7,1157.4 378.9,1158.3 375.5,1160C372.1,1161.7 368.7,1164.3 365.3,1166.9C361.9,1169.4 358.5,1172.6 355.1,1175.3C351.7,1178 348.3,1180.4 344.9,1183C341.5,1185.5 338.5,1188.3 334.7,1190.6C330.8,1193 326.1,1195.3 321.9,1197C317.6,1198.7 313.4,1200.1 309.1,1200.8C304.9,1201.6 302.8,1201.5 296.4,1201.6C290,1201.7 279.4,1201.6 270.9,1201.6C262.4,1201.5 251.7,1201.5 245.3,1201.3C239,1201.2 236,1201.2 232.6,1200.8C229.2,1200.4 227.5,1199.6 224.9,1199C222.4,1198.5 219.8,1197.6 217.3,1197.5C214.7,1197.4 212.2,1197.3 209.6,1198.3C207.1,1199.2 204.9,1201 202,1203.4C199,1205.7 195.2,1209.3 191.8,1212.3C188.4,1215.3 185,1218 181.6,1221.2C178.1,1224.4 173.9,1228.9 171.3,1231.4C168.8,1234 168,1234.2 166.2,1236.5C164.5,1238.9 161.6,1244 160.6,1245.5" stroke="#2a2aff"/>
<path d="M160.6,1272.3C161.1,1267 162.3,1251.2 163.7,1240.4C165,1229.5 166.7,1217 168.8,1207.2C170.9,1197.4 173.5,1189.8 176.4,1181.7C179.4,1173.6 182.8,1165.7 186.7,1158.7C190.5,1151.7 195.2,1145.7 199.4,1139.6C203.7,1133.4 207.9,1127.9 212.2,1121.7C216.4,1115.6 220.7,1109.2 224.9,1102.6C229.2,1096 233.4,1089 237.7,1082.2C241.9,1075.4 246.6,1067.5 250.4,1061.8C254.3,1056 257.7,1050.9 260.7,1047.7C263.6,1044.5 266,1043.3 268.3,1042.6C270.6,1041.9 272.1,1041.9 274.7,1043.4C277.2,1044.9 280.4,1048.1 283.6,1051.6C286.8,1055 290.4,1060.3 293.8,1064.3C297.2,1068.3 300.6,1072.8 304,1075.8C307.4,1078.8 310.4,1080.6 314.2,1082.2C318.1,1083.7 322.7,1084.2 327,1085.2C331.2,1086.3 335.9,1087.4 339.8,1088.5C343.6,1089.7 346.6,1090.5 350,1092.4C353.4,1094.3 356.8,1097.3 360.2,1100C363.6,1102.8 367,1105.8 370.4,1109C373.8,1112.2 377.2,1116 380.6,1119.2C384,1122.4 387.4,1125.3 390.8,1128.1C394.2,1130.9 397.6,1134.1 401,1136.3C404.4,1138.5 407.4,1139.8 411.2,1141.4C415,1142.9 419.7,1144.5 424,1145.5C428.2,1146.4 430.3,1146.8 436.7,1147.2C443.1,1147.7 438,1147.8 462.2,1148C486.5,1148.2 562.2,1147.5 582.2,1148.5C602.2,1149.5 610.7,1152.9 582.2,1154.1C553.7,1155.3 443.9,1155.2 411.2,1155.7C378.5,1156.1 391.6,1155.7 385.7,1156.7C379.7,1157.6 378.9,1159 375.5,1161.3C372.1,1163.5 368.7,1167 365.3,1170.2C361.9,1173.4 358.5,1177 355.1,1180.4C351.7,1183.8 348.3,1187.4 344.9,1190.6C341.5,1193.8 338.5,1196.8 334.7,1199.5C330.8,1202.3 326.1,1205 321.9,1207.2C317.6,1209.4 313.4,1211.3 309.1,1212.8C304.9,1214.3 300.6,1215.5 296.4,1216.1C292.1,1216.8 287.9,1216.9 283.6,1216.9C279.4,1216.9 275.1,1216.6 270.9,1216.1C266.6,1215.7 262.4,1215 258.1,1214.3C253.8,1213.7 249.2,1213 245.3,1212.3C241.5,1211.6 238.1,1210.9 235.1,1210.3C232.2,1209.6 230,1208.8 227.5,1208.5C224.9,1208.2 222.4,1207.8 219.8,1208.5C217.3,1209.1 215.1,1210.2 212.2,1212.3C209.2,1214.4 205.4,1218 202,1221.2C198.6,1224.4 195.2,1227.8 191.8,1231.4C188.4,1235.1 185,1239.1 181.6,1242.9C178.1,1246.8 174.1,1251 171.3,1254.4C168.6,1257.8 166.8,1260.4 165,1263.3C163.2,1266.3 161.3,1270.8 160.6,1272.3" stroke="#ff28ff"/>
<path d="M160.6,1296.5C161.1,1289.7 162.3,1268.9 163.7,1255.7C165,1242.5 166.7,1228.9 168.8,1217.4C170.9,1205.9 173.5,1196.1 176.4,1186.8C179.4,1177.4 182.8,1169.4 186.7,1161.3C190.5,1153.2 195.2,1146 199.4,1138.3C203.7,1130.7 207.9,1123 212.2,1115.3C216.4,1107.7 220.7,1099.8 224.9,1092.4C229.2,1084.9 233.4,1077.9 237.7,1070.7C241.9,1063.5 246.6,1055 250.4,1049C254.3,1043 257.5,1038.5 260.7,1035C263.8,1031.4 266.8,1028.9 269.6,1027.8C272.3,1026.8 274.5,1027.2 277.2,1028.6C280,1030 283.4,1033.5 286.2,1036.2C288.9,1039 291.3,1042.2 293.8,1045.2C296.4,1048.1 298.5,1051.3 301.5,1054.1C304.5,1056.9 307.9,1059.6 311.7,1061.8C315.5,1063.9 320.2,1065.5 324.4,1066.9C328.7,1068.2 333.4,1068.7 337.2,1069.9C341,1071.1 344,1072.2 347.4,1074C350.8,1075.8 354.2,1078 357.6,1080.9C361,1083.7 364.4,1087.5 367.8,1091.1C371.2,1094.7 374.6,1098.8 378,1102.6C381.4,1106.4 384.8,1110.2 388.2,1114.1C391.6,1117.9 395,1122.1 398.4,1125.5C401.8,1129 405.2,1132.1 408.6,1134.5C412.1,1136.8 414.6,1138 418.9,1139.6C423.1,1141.2 429.1,1142.9 434.2,1143.9C439.3,1144.9 440.5,1145 449.5,1145.5C458.4,1145.9 465.6,1146.2 487.8,1146.5C509.9,1146.8 566.4,1146 582.2,1147.2C597.9,1148.4 597.9,1152.3 582.2,1153.6C566.4,1154.9 516.2,1154.6 487.8,1154.9C459.3,1155.2 428.2,1155.4 411.2,1155.7C394.2,1156 391.6,1155.5 385.7,1156.7C379.7,1157.8 378.9,1159.7 375.5,1162.5C372.1,1165.4 368.7,1170 365.3,1174C361.9,1178.1 358.5,1182.7 355.1,1186.8C351.7,1190.8 348.3,1194.7 344.9,1198.3C341.5,1201.9 338.5,1205.1 334.7,1208.5C330.8,1211.9 326.1,1215.7 321.9,1218.7C317.6,1221.7 313.4,1224.3 309.1,1226.3C304.9,1228.4 300.6,1230 296.4,1230.9C292.1,1231.9 287.9,1232.1 283.6,1232.2C279.4,1232.3 275.1,1232.1 270.9,1231.7C266.6,1231.3 262.4,1230.5 258.1,1229.7C253.8,1228.8 249.2,1227.3 245.3,1226.3C241.5,1225.4 238.1,1224.5 235.1,1223.8C232.2,1223.1 230,1222 227.5,1222C224.9,1222 222.4,1222.6 219.8,1223.8C217.3,1224.9 215.1,1226.3 212.2,1228.9C209.2,1231.4 205.4,1235.5 202,1239.1C198.6,1242.7 195.2,1246.5 191.8,1250.6C188.4,1254.6 185,1258.9 181.6,1263.3C178.1,1267.8 174.1,1273.1 171.3,1277.4C168.6,1281.6 166.8,1285.7 165,1288.9C163.2,1292 161.3,1295.2 160.6,1296.5" stroke="#1f8f2a"/>
</g>
<line x1="232.6" y1="1112.8" x2="276.7" y2="1022.6" stroke="#ff8c1a" stroke-width="1.8" />
<path d="M279.8,1016.3 L278.7,1025.8 L273,1023 Z" fill="#ff8c1a"/>
<rect x="114" y="982" width="469.3" height="344.6" fill="none" stroke="#2b2b2b" stroke-width="2.5"/>
<line x1="106.5" y1="982" x2="114" y2="982" stroke="#2b2b2b" stroke-width="2.4" />
<text transform="translate(101,989.4) scale(0.96,1)" font-size="23.5" text-anchor="end" font-weight="bold" fill="#262626" >3</text>
<line x1="106.5" y1="1039.4" x2="114" y2="1039.4" stroke="#2b2b2b" stroke-width="2.4" />
<text transform="translate(101,1046.8) scale(0.96,1)" font-size="23.5" text-anchor="end" font-weight="bold" fill="#262626" >2</text>
<line x1="106.5" y1="1096.9" x2="114" y2="1096.9" stroke="#2b2b2b" stroke-width="2.4" />
<text transform="translate(101,1104.3) scale(0.96,1)" font-size="23.5" text-anchor="end" font-weight="bold" fill="#262626" >1</text>
<line x1="106.5" y1="1154.3" x2="114" y2="1154.3" stroke="#2b2b2b" stroke-width="2.4" />
<text transform="translate(101,1161.7) scale(0.96,1)" font-size="23.5" text-anchor="end" font-weight="bold" fill="#262626" >0</text>
<line x1="106.5" y1="1211.7" x2="114" y2="1211.7" stroke="#2b2b2b" stroke-width="2.4" />
<text transform="translate(101,1219.1) scale(0.96,1)" font-size="23.5" text-anchor="end" font-weight="bold" fill="#262626" >-1</text>
<line x1="106.5" y1="1269.2" x2="114" y2="1269.2" stroke="#2b2b2b" stroke-width="2.4" />
<text transform="translate(101,1276.6) scale(0.96,1)" font-size="23.5" text-anchor="end" font-weight="bold" fill="#262626" >-2</text>
<line x1="106.5" y1="1326.6" x2="114" y2="1326.6" stroke="#2b2b2b" stroke-width="2.4" />
<text transform="translate(101,1334) scale(0.96,1)" font-size="23.5" text-anchor="end" font-weight="bold" fill="#262626" >-3</text>
<line x1="110.5" y1="1010.7" x2="114" y2="1010.7" stroke="#2b2b2b" stroke-width="2.4" />
<line x1="110.5" y1="1068.1" x2="114" y2="1068.1" stroke="#2b2b2b" stroke-width="2.4" />
<line x1="110.5" y1="1125.6" x2="114" y2="1125.6" stroke="#2b2b2b" stroke-width="2.4" />
<line x1="110.5" y1="1183" x2="114" y2="1183" stroke="#2b2b2b" stroke-width="2.4" />
<line x1="110.5" y1="1240.4" x2="114" y2="1240.4" stroke="#2b2b2b" stroke-width="2.4" />
<line x1="110.5" y1="1297.9" x2="114" y2="1297.9" stroke="#2b2b2b" stroke-width="2.4" />
<line x1="158.2" y1="1326.6" x2="158.2" y2="1334.1" stroke="#2b2b2b" stroke-width="2.4" />
<text transform="translate(158.2,1357) scale(0.96,1)" font-size="23.5" text-anchor="middle" font-weight="bold" fill="#262626" >0.0</text>
<line x1="243.2" y1="1326.6" x2="243.2" y2="1334.1" stroke="#2b2b2b" stroke-width="2.4" />
<text transform="translate(243.2,1357) scale(0.96,1)" font-size="23.5" text-anchor="middle" font-weight="bold" fill="#262626" >0.5</text>
<line x1="328.2" y1="1326.6" x2="328.2" y2="1334.1" stroke="#2b2b2b" stroke-width="2.4" />
<text transform="translate(328.2,1357) scale(0.96,1)" font-size="23.5" text-anchor="middle" font-weight="bold" fill="#262626" >1.0</text>
<line x1="413.2" y1="1326.6" x2="413.2" y2="1334.1" stroke="#2b2b2b" stroke-width="2.4" />
<text transform="translate(413.2,1357) scale(0.96,1)" font-size="23.5" text-anchor="middle" font-weight="bold" fill="#262626" >1.5</text>
<line x1="498.2" y1="1326.6" x2="498.2" y2="1334.1" stroke="#2b2b2b" stroke-width="2.4" />
<text transform="translate(498.2,1357) scale(0.96,1)" font-size="23.5" text-anchor="middle" font-weight="bold" fill="#262626" >2.0</text>
<line x1="583.2" y1="1326.6" x2="583.2" y2="1334.1" stroke="#2b2b2b" stroke-width="2.4" />
<text transform="translate(583.2,1357) scale(0.96,1)" font-size="23.5" text-anchor="middle" font-weight="bold" fill="#262626" >2.5</text>
<line x1="200.7" y1="1326.6" x2="200.7" y2="1330.1" stroke="#2b2b2b" stroke-width="2.4" />
<line x1="285.7" y1="1326.6" x2="285.7" y2="1330.1" stroke="#2b2b2b" stroke-width="2.4" />
<line x1="370.7" y1="1326.6" x2="370.7" y2="1330.1" stroke="#2b2b2b" stroke-width="2.4" />
<line x1="455.7" y1="1326.6" x2="455.7" y2="1330.1" stroke="#2b2b2b" stroke-width="2.4" />
<line x1="540.7" y1="1326.6" x2="540.7" y2="1330.1" stroke="#2b2b2b" stroke-width="2.4" />
<line x1="115.7" y1="1326.6" x2="115.7" y2="1330.1" stroke="#2b2b2b" stroke-width="2.4" />
<text transform="translate(350,1380)" font-size="20.5" text-anchor="middle" font-weight="bold" fill="#262626" >Voltage (V)</text>
<text transform="translate(74,1146) rotate(-90)" font-size="23.5" text-anchor="middle" font-weight="bold" fill="#262626" textLength="141" lengthAdjust="spacingAndGlyphs">Current (mA)</text>
<line x1="401" y1="1175.8" x2="450.8" y2="1175.8" stroke="#2a2a2a" stroke-width="2.0" />
<text transform="translate(459.5,1182.7) scale(0.96,1)" font-size="23.5" text-anchor="start" font-weight="bold" fill="#262626" >1 mV s<tspan dy="-0.76em" font-size="0.64em">-1</tspan></text>
<line x1="401" y1="1207.7" x2="450.8" y2="1207.7" stroke="#ff2828" stroke-width="2.0" />
<text transform="translate(459.5,1214.6) scale(0.96,1)" font-size="23.5" text-anchor="start" font-weight="bold" fill="#262626" >2 mV s<tspan dy="-0.76em" font-size="0.64em">-1</tspan></text>
<line x1="401" y1="1240.4" x2="450.8" y2="1240.4" stroke="#2a2aff" stroke-width="2.0" />
<text transform="translate(459.5,1247.3) scale(0.96,1)" font-size="23.5" text-anchor="start" font-weight="bold" fill="#262626" >3 mV s<tspan dy="-0.76em" font-size="0.64em">-1</tspan></text>
<line x1="401" y1="1272.3" x2="450.8" y2="1272.3" stroke="#ff28ff" stroke-width="2.0" />
<text transform="translate(459.5,1279.2) scale(0.96,1)" font-size="23.5" text-anchor="start" font-weight="bold" fill="#262626" >4 mV s<tspan dy="-0.76em" font-size="0.64em">-1</tspan></text>
<line x1="401" y1="1306.2" x2="450.8" y2="1306.2" stroke="#1f8f2a" stroke-width="2.0" />
<text transform="translate(459.5,1313.1) scale(0.96,1)" font-size="23.5" text-anchor="start" font-weight="bold" fill="#262626" >5 mV s<tspan dy="-0.76em" font-size="0.64em">-1</tspan></text>
<text transform="translate(336,1253.6) scale(0.96,1)" font-size="23.5" text-anchor="middle" font-weight="bold" fill="#262626" >AB</text>
<text transform="translate(28.9,1003.4) scale(1.39,1)" font-size="84.7" text-anchor="middle" font-weight="bold" fill="#000" >i</text>
<rect x="691.6" y="981" width="466.6" height="345.2" fill="none" stroke="#2b2b2b" stroke-width="2.5"/>
<line x1="684.1" y1="980.6" x2="691.6" y2="980.6" stroke="#2b2b2b" stroke-width="2.4" />
<text transform="translate(680.5,989.1) scale(0.86,1)" font-size="27" text-anchor="end" font-weight="bold" fill="#262626" >0.4</text>
<line x1="684.1" y1="1038.1" x2="691.6" y2="1038.1" stroke="#2b2b2b" stroke-width="2.4" />
<text transform="translate(680.5,1046.6) scale(0.86,1)" font-size="27" text-anchor="end" font-weight="bold" fill="#262626" >0.3</text>
<line x1="684.1" y1="1095.6" x2="691.6" y2="1095.6" stroke="#2b2b2b" stroke-width="2.4" />
<text transform="translate(680.5,1104.1) scale(0.86,1)" font-size="27" text-anchor="end" font-weight="bold" fill="#262626" >0.2</text>
<line x1="684.1" y1="1153.1" x2="691.6" y2="1153.1" stroke="#2b2b2b" stroke-width="2.4" />
<text transform="translate(680.5,1161.6) scale(0.86,1)" font-size="27" text-anchor="end" font-weight="bold" fill="#262626" >0.1</text>
<line x1="684.1" y1="1210.6" x2="691.6" y2="1210.6" stroke="#2b2b2b" stroke-width="2.4" />
<text transform="translate(680.5,1219.1) scale(0.86,1)" font-size="27" text-anchor="end" font-weight="bold" fill="#262626" >0.0</text>
<line x1="684.1" y1="1268.1" x2="691.6" y2="1268.1" stroke="#2b2b2b" stroke-width="2.4" />
<text transform="translate(680.5,1276.6) scale(0.86,1)" font-size="27" text-anchor="end" font-weight="bold" fill="#262626" >-0.1</text>
<line x1="684.1" y1="1325.6" x2="691.6" y2="1325.6" stroke="#2b2b2b" stroke-width="2.4" />
<text transform="translate(680.5,1334.1) scale(0.86,1)" font-size="27" text-anchor="end" font-weight="bold" fill="#262626" >-0.2</text>
<line x1="688.1" y1="1009.3" x2="691.6" y2="1009.3" stroke="#2b2b2b" stroke-width="2.4" />
<line x1="688.1" y1="1066.8" x2="691.6" y2="1066.8" stroke="#2b2b2b" stroke-width="2.4" />
<line x1="688.1" y1="1124.3" x2="691.6" y2="1124.3" stroke="#2b2b2b" stroke-width="2.4" />
<line x1="688.1" y1="1181.8" x2="691.6" y2="1181.8" stroke="#2b2b2b" stroke-width="2.4" />
<line x1="688.1" y1="1239.3" x2="691.6" y2="1239.3" stroke="#2b2b2b" stroke-width="2.4" />
<line x1="688.1" y1="1296.8" x2="691.6" y2="1296.8" stroke="#2b2b2b" stroke-width="2.4" />
<line x1="691.6" y1="1326.2" x2="691.6" y2="1333.7" stroke="#2b2b2b" stroke-width="2.4" />
<text transform="translate(691.6,1356.2) scale(0.86,1)" font-size="27" text-anchor="middle" font-weight="bold" fill="#262626" >-0.1</text>
<line x1="743.5" y1="1326.2" x2="743.5" y2="1333.7" stroke="#2b2b2b" stroke-width="2.4" />
<text transform="translate(743.5,1356.2) scale(0.86,1)" font-size="27" text-anchor="middle" font-weight="bold" fill="#262626" >0.0</text>
<line x1="795.3" y1="1326.2" x2="795.3" y2="1333.7" stroke="#2b2b2b" stroke-width="2.4" />
<text transform="translate(795.3,1356.2) scale(0.86,1)" font-size="27" text-anchor="middle" font-weight="bold" fill="#262626" >0.1</text>
<line x1="847.2" y1="1326.2" x2="847.2" y2="1333.7" stroke="#2b2b2b" stroke-width="2.4" />
<text transform="translate(847.2,1356.2) scale(0.86,1)" font-size="27" text-anchor="middle" font-weight="bold" fill="#262626" >0.2</text>
<line x1="899" y1="1326.2" x2="899" y2="1333.7" stroke="#2b2b2b" stroke-width="2.4" />
<text transform="translate(899,1356.2) scale(0.86,1)" font-size="27" text-anchor="middle" font-weight="bold" fill="#262626" >0.3</text>
<line x1="950.9" y1="1326.2" x2="950.9" y2="1333.7" stroke="#2b2b2b" stroke-width="2.4" />
<text transform="translate(950.9,1356.2) scale(0.86,1)" font-size="27" text-anchor="middle" font-weight="bold" fill="#262626" >0.4</text>
<line x1="1002.7" y1="1326.2" x2="1002.7" y2="1333.7" stroke="#2b2b2b" stroke-width="2.4" />
<text transform="translate(1002.7,1356.2) scale(0.86,1)" font-size="27" text-anchor="middle" font-weight="bold" fill="#262626" >0.5</text>
<line x1="1054.5" y1="1326.2" x2="1054.5" y2="1333.7" stroke="#2b2b2b" stroke-width="2.4" />
<text transform="translate(1054.5,1356.2) scale(0.86,1)" font-size="27" text-anchor="middle" font-weight="bold" fill="#262626" >0.6</text>
<line x1="1106.4" y1="1326.2" x2="1106.4" y2="1333.7" stroke="#2b2b2b" stroke-width="2.4" />
<text transform="translate(1106.4,1356.2) scale(0.86,1)" font-size="27" text-anchor="middle" font-weight="bold" fill="#262626" >0.7</text>
<line x1="1158.2" y1="1326.2" x2="1158.2" y2="1333.7" stroke="#2b2b2b" stroke-width="2.4" />
<text transform="translate(1158.2,1356.2) scale(0.86,1)" font-size="27" text-anchor="middle" font-weight="bold" fill="#262626" >0.8</text>
<line x1="717.5" y1="1326.2" x2="717.5" y2="1329.7" stroke="#2b2b2b" stroke-width="2.4" />
<line x1="769.4" y1="1326.2" x2="769.4" y2="1329.7" stroke="#2b2b2b" stroke-width="2.4" />
<line x1="821.2" y1="1326.2" x2="821.2" y2="1329.7" stroke="#2b2b2b" stroke-width="2.4" />
<line x1="873.1" y1="1326.2" x2="873.1" y2="1329.7" stroke="#2b2b2b" stroke-width="2.4" />
<line x1="924.9" y1="1326.2" x2="924.9" y2="1329.7" stroke="#2b2b2b" stroke-width="2.4" />
<line x1="976.8" y1="1326.2" x2="976.8" y2="1329.7" stroke="#2b2b2b" stroke-width="2.4" />
<line x1="1028.6" y1="1326.2" x2="1028.6" y2="1329.7" stroke="#2b2b2b" stroke-width="2.4" />
<line x1="1080.5" y1="1326.2" x2="1080.5" y2="1329.7" stroke="#2b2b2b" stroke-width="2.4" />
<line x1="1132.3" y1="1326.2" x2="1132.3" y2="1329.7" stroke="#2b2b2b" stroke-width="2.4" />
<line x1="743" y1="1275.6" x2="1106.3" y2="1010.5" stroke="#ff2a2a" stroke-width="1.8" />
<rect x="738.5" y="1276.8" width="9" height="8" fill="#111"/>
<rect x="895.8" y="1147.4" width="9" height="8" fill="#111"/>
<rect x="986.6" y="1084.7" width="9" height="8" fill="#111"/>
<rect x="1050.9" y="1042.7" width="9" height="8" fill="#111"/>
<rect x="1101.8" y="1011.1" width="9" height="8" fill="#111"/>
<rect x="810.2" y="1044.3" width="9" height="8" fill="#111"/>
<text transform="translate(848.3,1057.2)" font-size="27" text-anchor="start" font-weight="bold" fill="#262626" textLength="33" lengthAdjust="spacingAndGlyphs">AB</text>
<line x1="789.2" y1="1078.3" x2="840.2" y2="1078.3" stroke="#ff2a2a" stroke-width="1.8" />
<text transform="translate(848.3,1087.2)" font-size="27" text-anchor="start" font-weight="bold" fill="#262626" textLength="119" lengthAdjust="spacingAndGlyphs">Fitting line</text>
<text transform="translate(1003.5,1168)" font-size="27" text-anchor="start" font-weight="bold" fill="#262626" textLength="73.8" lengthAdjust="spacingAndGlyphs">b=0.66</text>
<text transform="translate(925.6,1383.4)" font-size="27" text-anchor="middle" font-weight="bold" fill="#262626" textLength="274.8" lengthAdjust="spacingAndGlyphs">Log (sweep rate / mV s<tspan dy="-0.8em" font-size="0.52em">-1</tspan><tspan dy="0.416em">)</tspan></text>
<text transform="translate(632.7,1151.7) rotate(-90)" font-size="27" text-anchor="middle" font-weight="bold" fill="#262626" textLength="266" lengthAdjust="spacingAndGlyphs">Log (peak current / mA)</text>
<text transform="translate(600.6,1001.7) scale(1.33,1)" font-size="84" text-anchor="middle" font-weight="bold" fill="#000" >j</text>
<g id="p3k" filter="url(#soft)">
<path d="M1207.8,1348.7L1582.7,1348.7L1699.3,1079.6L1439.8,1079.6 Z" fill="#f2f2f2"/>
<path d="M1207.8,1348.7L1207.8,1163L1439.8,951.4L1439.8,1079.6 Z" fill="#e5f6f6"/>
<path d="M1439.8,1079.6L1439.8,951.4L1699.3,951.4L1699.3,1079.6 Z" fill="#fdfde0"/>
<line x1="1207.8" y1="1348.7" x2="1439.8" y2="1079.6" stroke="#e8e8e8" stroke-width="1" />
<line x1="1439.8" y1="1079.6" x2="1439.8" y2="951.4" stroke="#f3f3d4" stroke-width="1" />
<line x1="1282.8" y1="1348.7" x2="1491.7" y2="1079.6" stroke="#e8e8e8" stroke-width="1" />
<line x1="1491.7" y1="1079.6" x2="1491.7" y2="951.4" stroke="#f3f3d4" stroke-width="1" />
<line x1="1357.8" y1="1348.7" x2="1543.6" y2="1079.6" stroke="#e8e8e8" stroke-width="1" />
<line x1="1543.6" y1="1079.6" x2="1543.6" y2="951.4" stroke="#f3f3d4" stroke-width="1" />
<line x1="1432.7" y1="1348.7" x2="1595.5" y2="1079.6" stroke="#e8e8e8" stroke-width="1" />
<line x1="1595.5" y1="1079.6" x2="1595.5" y2="951.4" stroke="#f3f3d4" stroke-width="1" />
<line x1="1507.7" y1="1348.7" x2="1647.4" y2="1079.6" stroke="#e8e8e8" stroke-width="1" />
<line x1="1647.4" y1="1079.6" x2="1647.4" y2="951.4" stroke="#f3f3d4" stroke-width="1" />
<line x1="1582.7" y1="1348.7" x2="1699.3" y2="1079.6" stroke="#e8e8e8" stroke-width="1" />
<line x1="1699.3" y1="1079.6" x2="1699.3" y2="951.4" stroke="#f3f3d4" stroke-width="1" />
<line x1="1207.8" y1="1348.7" x2="1582.7" y2="1348.7" stroke="#e9e9e9" stroke-width="1" />
<line x1="1207.8" y1="1348.7" x2="1207.8" y2="1163" stroke="#d3ecea" stroke-width="1" />
<line x1="1282.4" y1="1262.1" x2="1620.2" y2="1262.1" stroke="#e9e9e9" stroke-width="1" />
<line x1="1282.4" y1="1262.1" x2="1282.4" y2="1094.9" stroke="#d3ecea" stroke-width="1" />
<line x1="1345.3" y1="1189.2" x2="1651.8" y2="1189.2" stroke="#e9e9e9" stroke-width="1" />
<line x1="1345.3" y1="1189.2" x2="1345.3" y2="1037.6" stroke="#d3ecea" stroke-width="1" />
<line x1="1395.1" y1="1131.5" x2="1676.8" y2="1131.5" stroke="#e9e9e9" stroke-width="1" />
<line x1="1395.1" y1="1131.5" x2="1395.1" y2="992.2" stroke="#d3ecea" stroke-width="1" />
<line x1="1439.8" y1="1079.6" x2="1699.3" y2="1079.6" stroke="#e9e9e9" stroke-width="1" />
<line x1="1439.8" y1="1079.6" x2="1439.8" y2="951.4" stroke="#d3ecea" stroke-width="1" />
<line x1="1207.8" y1="1163" x2="1439.8" y2="951.4" stroke="#d3ecea" stroke-width="1" />
<line x1="1439.8" y1="951.4" x2="1699.3" y2="951.4" stroke="#f3f3d4" stroke-width="1" />
<line x1="1207.8" y1="1194" x2="1439.8" y2="972.8" stroke="#d3ecea" stroke-width="1" />
<line x1="1439.8" y1="972.8" x2="1699.3" y2="972.8" stroke="#f3f3d4" stroke-width="1" />
<line x1="1207.8" y1="1224.9" x2="1439.8" y2="994.1" stroke="#d3ecea" stroke-width="1" />
<line x1="1439.8" y1="994.1" x2="1699.3" y2="994.1" stroke="#f3f3d4" stroke-width="1" />
<line x1="1207.8" y1="1255.8" x2="1439.8" y2="1015.5" stroke="#d3ecea" stroke-width="1" />
<line x1="1439.8" y1="1015.5" x2="1699.3" y2="1015.5" stroke="#f3f3d4" stroke-width="1" />
<line x1="1207.8" y1="1286.8" x2="1439.8" y2="1036.9" stroke="#d3ecea" stroke-width="1" />
<line x1="1439.8" y1="1036.9" x2="1699.3" y2="1036.9" stroke="#f3f3d4" stroke-width="1" />
<line x1="1207.8" y1="1317.8" x2="1439.8" y2="1058.2" stroke="#d3ecea" stroke-width="1" />
<line x1="1439.8" y1="1058.2" x2="1699.3" y2="1058.2" stroke="#f3f3d4" stroke-width="1" />
<line x1="1207.8" y1="1348.7" x2="1439.8" y2="1079.6" stroke="#d3ecea" stroke-width="1" />
<line x1="1439.8" y1="1079.6" x2="1699.3" y2="1079.6" stroke="#f3f3d4" stroke-width="1" />
<path d="M1207.8,1348.7L1207.8,1163L1439.8,951.4L1439.8,1079.6 Z" fill="none" stroke="#b9c9c8" stroke-width="1.2"/>
<path d="M1439.8,951.4L1699.3,951.4L1699.3,1079.6L1439.8,1079.6" fill="none" stroke="#c9c9b0" stroke-width="1.2"/>
<path d="M1452.2,1030C1455.3,1026.2 1465.3,1013.9 1471.2,1006.9C1477.1,999.9 1482.3,993.8 1487.5,987.9C1492.7,982 1499.5,976.2 1502.5,971.5C1505.4,966.9 1503.9,962.8 1505.2,960C1506.6,957.2 1508.8,955.4 1510.7,954.8C1512.5,954.2 1514.3,955 1516.1,956.6C1517.9,958.1 1519.5,961.3 1521.5,964.1C1523.6,966.8 1525.9,970.4 1528.4,972.9C1530.8,975.4 1533.3,977.5 1536.5,979C1539.7,980.5 1543.8,981.1 1547.4,982C1551,982.9 1554.7,983.1 1558.3,984.5C1561.9,985.8 1565.5,987.5 1569.2,989.9C1572.8,992.3 1576.4,996 1580.1,998.7C1583.7,1001.5 1587.3,1004.2 1590.9,1006.2C1594.6,1008.3 1598.2,1009.9 1601.8,1011C1605.5,1012.1 1608.6,1012.5 1612.7,1013C1616.8,1013.5 1611.9,1013.8 1626.3,1014C1640.8,1014.1 1687.3,1014 1699.5,1014L1699.5,1014C1699.5,1014.4 1699.5,1016.3 1699.5,1016.7L1699.5,1016.7C1680.5,1016.7 1606.3,1016.5 1585.5,1016.7C1564.7,1016.9 1577.6,1017.1 1574.6,1017.8C1571.7,1018.5 1570.3,1019.5 1567.8,1021.2C1565.3,1022.9 1562.4,1025.7 1559.6,1028C1556.9,1030.3 1554,1033 1551.5,1034.8C1549,1036.6 1546.9,1037.9 1544.7,1038.9C1542.4,1039.9 1541.3,1040.9 1537.9,1040.9C1534.5,1040.9 1529.9,1039.9 1524.3,1038.9C1518.6,1037.9 1511.8,1035.9 1503.9,1034.8C1495.9,1033.7 1485.3,1032.9 1476.6,1032.1C1468,1031.3 1456.2,1030.4 1452.2,1030Z" fill="#8000ff"/>
<path d="M1490.3,1019.2C1490.9,1016.3 1493,1007.7 1494.3,1002.2C1495.7,996.6 1497.1,990.8 1498.4,985.8C1499.8,980.8 1501.4,976.5 1502.5,972.2C1503.6,968 1503.9,963.1 1505.2,960.2C1506.6,957.4 1508.8,955.7 1510.7,955.2C1512.5,954.7 1514.3,955.5 1516.1,957C1517.9,958.5 1519.5,961.6 1521.5,964.3C1523.6,967 1525.9,970.7 1528.4,973.2C1530.8,975.7 1533.3,977.7 1536.5,979.3C1539.7,980.8 1543.8,981.5 1547.4,982.4C1551,983.3 1554.7,983.6 1558.3,984.9C1561.9,986.2 1565.5,987.9 1569.2,990.3C1572.8,992.7 1576.4,996.4 1580.1,999.2C1583.7,1001.9 1587.3,1004.6 1590.9,1006.6C1594.6,1008.7 1598.2,1010.3 1601.8,1011.4C1605.5,1012.5 1608.6,1013 1612.7,1013.4C1616.8,1013.9 1611.9,1014.1 1626.3,1014.3C1640.8,1014.4 1687.3,1014.3 1699.5,1014.3L1699.5,1014.3C1699.5,1014.6 1699.5,1015.7 1699.5,1016L1699.5,1016C1680.5,1016 1606.3,1016.1 1585.5,1016C1564.7,1016 1577.8,1015.5 1574.6,1015.8C1571.4,1016.1 1569.2,1016.3 1566.5,1017.8C1563.7,1019.3 1561,1022.2 1558.3,1024.6C1555.6,1027 1552.6,1030 1550.1,1032.1C1547.6,1034.1 1545.6,1035.7 1543.3,1036.8C1541.1,1038 1539.7,1039.2 1536.5,1038.9C1533.3,1038.6 1528.6,1036.4 1524.3,1034.8C1520,1033.2 1515,1031 1510.7,1029.4C1506.4,1027.8 1501.8,1027 1498.4,1025.3C1495,1023.6 1491.6,1020.2 1490.3,1019.2Z" fill="#c872ee" fill-opacity="1.0"/>
<path d="M1696.3,1014.3L1699.5,1014.3L1699.5,1080.4L1696.3,1080.4Z" fill="#c872ee" fill-opacity="1.0"/>
<path d="M1407.9,1079C1410.3,1076 1416.9,1066.9 1422.2,1060.7C1427.5,1054.4 1434.2,1047.5 1439.9,1041.6C1445.6,1035.7 1451.7,1030 1456.2,1025.3C1460.8,1020.5 1464.2,1015.9 1467.1,1013C1470.1,1010.1 1471.9,1008.1 1473.9,1007.9C1476,1007.6 1477.1,1009.5 1479.4,1011.7C1481.6,1013.9 1484.4,1018.3 1487.5,1021.2C1490.7,1024.1 1494.6,1027.4 1498.4,1029.4C1502.3,1031.3 1506.6,1031.7 1510.7,1032.8C1514.7,1033.8 1518.8,1033.8 1522.9,1035.5C1527,1037.2 1531.1,1040.5 1535.2,1043C1539.2,1045.5 1543.3,1048.4 1547.4,1050.5C1551.5,1052.5 1555.6,1054 1559.6,1055.2C1563.7,1056.5 1567.6,1057.3 1571.9,1057.9C1576.2,1058.6 1567.8,1058.8 1585.5,1059C1603.2,1059.3 1662.6,1059.3 1678,1059.3L1678,1059.3C1678,1059.7 1678,1061.1 1678,1061.5L1678,1061.5C1660.3,1061.5 1591.9,1061.5 1571.9,1061.5C1551.9,1061.5 1562.8,1061.4 1558.3,1061.5C1553.8,1061.5 1548.8,1061.2 1544.7,1061.8C1540.6,1062.3 1537.2,1063.2 1533.8,1064.7C1530.4,1066.3 1528.1,1068.5 1524.3,1070.9C1520.4,1073.2 1515.2,1077 1510.7,1079C1506.1,1081.1 1501.6,1082.1 1497.1,1083.1C1492.5,1084.1 1488,1084.9 1483.4,1085.2C1478.9,1085.4 1474.4,1085.2 1469.8,1084.9C1465.3,1084.6 1460.1,1083.6 1456.2,1083.3C1452.4,1082.9 1450.1,1082.7 1446.7,1082.7C1443.3,1082.7 1439.9,1083.4 1435.8,1083.3C1431.7,1083.1 1426.9,1082.6 1422.2,1081.9C1417.6,1081.2 1410.3,1079.5 1407.9,1079Z" fill="#ff8000"/>
<path d="M1448.1,1074.3C1449.2,1070.4 1452.8,1058.6 1454.9,1051.1C1456.9,1043.7 1458.7,1035.3 1460.3,1029.4C1461.9,1023.5 1462.8,1019 1464.4,1015.8C1466,1012.5 1468.1,1011 1469.8,1009.6C1471.5,1008.3 1473,1007.5 1474.6,1007.9C1476.2,1008.2 1477.2,1009.5 1479.4,1011.7C1481.5,1013.9 1484.4,1018.3 1487.5,1021.2C1490.7,1024.1 1494.6,1027.4 1498.4,1029.4C1502.3,1031.3 1506.6,1031.7 1510.7,1032.8C1514.7,1033.8 1518.8,1033.8 1522.9,1035.5C1527,1037.2 1531.1,1040.5 1535.2,1043C1539.2,1045.5 1543.3,1048.4 1547.4,1050.5C1551.5,1052.5 1555.6,1054 1559.6,1055.2C1563.7,1056.5 1567.6,1057.3 1571.9,1057.9C1576.2,1058.6 1567.8,1058.8 1585.5,1059C1603.2,1059.3 1662.6,1059.3 1678,1059.3L1678,1059.3C1678,1059.6 1678,1060.7 1678,1060.9L1678,1060.9C1660.3,1060.9 1591.9,1060.9 1571.9,1060.9C1551.9,1060.9 1562.8,1061 1558.3,1060.9C1553.8,1060.8 1548.8,1060.2 1544.7,1060.4C1540.6,1060.6 1537.2,1061 1533.8,1062.3C1530.4,1063.6 1528.1,1065.8 1524.3,1068.1C1520.4,1070.5 1515.2,1074.2 1510.7,1076.3C1506.1,1078.5 1501.6,1080 1497.1,1081.1C1492.5,1082.1 1488,1082.5 1483.4,1082.7C1478.9,1082.9 1474.4,1082.8 1469.8,1082.2C1465.3,1081.5 1459.9,1080.3 1456.2,1079C1452.6,1077.7 1449.4,1075.1 1448.1,1074.3Z" fill="#efd372" fill-opacity="1.0"/>
<path d="M1675,1060L1678,1060L1678,1131.7L1675,1131.7Z" fill="#efd372" fill-opacity="1.0"/>
<path d="M1349.9,1144C1351.4,1141.1 1354.7,1131.6 1358.5,1126.2C1362.3,1120.9 1367.5,1116.7 1372.7,1112C1378,1107.2 1384.6,1102 1389.8,1097.7C1395,1093.5 1400,1089.9 1404.1,1086.3C1408.1,1082.8 1411.2,1078.6 1414,1076.4C1416.9,1074.1 1418.5,1073.6 1421.2,1072.8C1423.8,1072 1426.9,1071 1429.7,1071.4C1432.5,1071.7 1435.4,1073.3 1438.2,1074.9C1441.1,1076.6 1443.5,1079.2 1446.8,1081.3C1450.1,1083.5 1453.9,1086.2 1458.2,1087.8C1462.5,1089.3 1467.7,1089.9 1472.4,1090.9C1477.2,1091.8 1481.9,1092.2 1486.7,1093.5C1491.4,1094.7 1496.2,1096.5 1500.9,1098.4C1505.7,1100.3 1510.4,1103 1515.2,1104.9C1519.9,1106.7 1524.7,1108.6 1529.4,1109.8C1534.1,1111 1537.7,1111.5 1543.6,1112C1549.6,1112.4 1546.9,1112.7 1565,1112.7C1583.1,1112.7 1637.6,1112.1 1652.2,1112L1652.2,1112C1652.2,1112.3 1652.2,1113.8 1652.2,1114.1L1652.2,1114.1C1637.6,1114.1 1585.5,1114.1 1565,1114.1C1544.5,1114.1 1537.7,1114 1529.4,1114.1C1521.1,1114.2 1519.9,1114.2 1515.2,1114.8C1510.4,1115.4 1505.7,1116.2 1500.9,1117.7C1496.2,1119.1 1491.4,1121.5 1486.7,1123.4C1481.9,1125.3 1477.2,1127.4 1472.4,1129.1C1467.7,1130.7 1462.9,1132.1 1458.2,1133.1C1453.4,1134 1449.9,1134.5 1443.9,1134.8C1438,1135 1429.7,1135 1422.6,1134.8C1415.5,1134.5 1407.1,1133.6 1401.2,1133.3C1395.3,1133.1 1391.7,1132.3 1387,1133.1C1382.2,1133.8 1376.8,1136.1 1372.7,1137.6C1368.7,1139.1 1366.6,1140.8 1362.8,1141.9C1359,1143 1352.1,1143.7 1349.9,1144Z" fill="#00009c"/>
<path d="M1401.2,1126.2C1402.2,1123.4 1405,1115.1 1406.9,1109.1C1408.8,1103.2 1410.7,1096.1 1412.6,1090.6C1414.5,1085.1 1416.4,1079.4 1418.3,1076.4C1420.2,1073.3 1422.1,1073.2 1424,1072.4C1425.9,1071.5 1427.3,1071 1429.7,1071.4C1432.1,1071.8 1435.4,1073.3 1438.2,1074.9C1441.1,1076.6 1443.5,1079.2 1446.8,1081.3C1450.1,1083.5 1453.9,1086.2 1458.2,1087.8C1462.5,1089.3 1467.7,1089.9 1472.4,1090.9C1477.2,1091.8 1481.9,1092.2 1486.7,1093.5C1491.4,1094.7 1496.2,1096.5 1500.9,1098.4C1505.7,1100.3 1510.4,1103 1515.2,1104.9C1519.9,1106.7 1524.7,1108.6 1529.4,1109.8C1534.1,1111 1537.7,1111.5 1543.6,1112C1549.6,1112.4 1546.9,1112.6 1565,1112.7C1583.1,1112.8 1637.6,1112.4 1652.2,1112.4L1652.2,1112.4C1652.2,1112.6 1652.2,1113.2 1652.2,1113.4L1652.2,1113.4C1637.6,1113.4 1585.5,1113.5 1565,1113.4C1544.5,1113.3 1538.2,1112.8 1529.4,1112.7C1520.6,1112.6 1517.1,1112.3 1512.3,1112.7C1507.6,1113 1505.2,1113.5 1500.9,1114.8C1496.6,1116.1 1491.4,1118.6 1486.7,1120.5C1481.9,1122.4 1477.2,1124.6 1472.4,1126.2C1467.7,1127.9 1462.9,1129.5 1458.2,1130.5C1453.4,1131.5 1449.9,1132 1443.9,1132.2C1438,1132.4 1428.5,1132.3 1422.6,1131.9C1416.6,1131.5 1411.9,1130.7 1408.3,1129.8C1404.8,1128.8 1402.4,1126.8 1401.2,1126.2Z" fill="#5252ff" fill-opacity="1.0"/>
<path d="M1347.8,1137.6C1349.6,1135.9 1354.3,1130 1358.5,1127.6C1362.6,1125.3 1368.5,1124.4 1372.7,1123.4C1377,1122.3 1381,1121.3 1384.1,1121.2C1387.2,1121.1 1390.1,1122.4 1391.2,1122.7L1391.2,1122.7C1390.1,1124 1387.2,1128.5 1384.1,1130.5C1381,1132.5 1377,1133.3 1372.7,1134.8C1368.5,1136.2 1362.6,1138.6 1358.5,1139C1354.3,1139.5 1349.6,1137.8 1347.8,1137.6Z" fill="#5252ff" fill-opacity="1.0"/>
<path d="M1648.8,1112.7L1652.2,1112.7L1652.2,1189.6L1648.8,1189.6Z" fill="#6a6aff" fill-opacity="1.0"/>
<path d="M1285.5,1208.9C1285.9,1207 1286.1,1201.8 1288.3,1197.9C1290.5,1194 1294.5,1189.5 1298.7,1185.5C1303,1181.6 1308.2,1177.9 1313.9,1174.1C1319.6,1170.3 1327.9,1166.5 1332.9,1162.7C1338,1158.9 1341.2,1154.5 1344.3,1151.3C1347.5,1148.2 1349.7,1145.2 1351.9,1143.7C1354.1,1142.2 1355.4,1141.6 1357.6,1142.4C1359.8,1143.2 1362,1147.8 1365.2,1148.5C1368.4,1149.2 1373.1,1146.4 1376.6,1146.6C1380.1,1146.7 1382.3,1147.9 1386.1,1149.4C1389.9,1151 1395,1154.4 1399.4,1156.1C1403.8,1157.8 1407.9,1158.7 1412.7,1159.5C1417.4,1160.3 1422.8,1160.1 1427.9,1160.8C1432.9,1161.5 1438,1162.4 1443.1,1163.7C1448.1,1164.9 1453.2,1166.8 1458.3,1168.4C1463.3,1170 1468.4,1172 1473.5,1173.2C1478.5,1174.3 1482,1174.9 1488.6,1175.5C1495.3,1176 1491.2,1176.2 1513.3,1176.4C1535.4,1176.6 1603.2,1176.4 1621.2,1176.4L1621.2,1176.4C1621.2,1176.8 1621.2,1178.5 1621.2,1178.9L1621.2,1178.9C1603.2,1178.9 1536.1,1179 1513.3,1178.9C1490.6,1178.8 1492.8,1178.4 1484.8,1178.3C1476.9,1178.2 1472.2,1178 1465.9,1178.5C1459.5,1179 1453.2,1179.8 1446.9,1181.1C1440.5,1182.5 1434.2,1185.1 1427.9,1186.8C1421.5,1188.6 1415.2,1190.4 1408.9,1191.6C1402.6,1192.8 1396.2,1193.5 1389.9,1194.1C1383.6,1194.6 1377.2,1194.8 1370.9,1194.8C1364.6,1194.8 1358.2,1194.3 1351.9,1194.1C1345.6,1193.8 1339.3,1193.1 1332.9,1193.5C1326.6,1193.9 1319.6,1194.9 1313.9,1196.3C1308.2,1197.8 1303.5,1199.9 1298.7,1202C1294,1204.1 1287.7,1207.7 1285.5,1208.9Z" fill="#008000"/>
<path d="M1344.3,1185.5C1345.6,1182.8 1349.4,1174.3 1351.9,1169.4C1354.4,1164.5 1357,1159.6 1359.5,1156.1C1362,1152.6 1364.3,1150.1 1367.1,1148.5C1370,1146.9 1373.4,1146.4 1376.6,1146.6C1379.8,1146.7 1382.3,1147.9 1386.1,1149.4C1389.9,1151 1395,1154.4 1399.4,1156.1C1403.8,1157.8 1407.9,1158.7 1412.7,1159.5C1417.4,1160.3 1422.8,1160.1 1427.9,1160.8C1432.9,1161.5 1438,1162.4 1443.1,1163.7C1448.1,1164.9 1453.2,1166.8 1458.3,1168.4C1463.3,1170 1468.4,1172 1473.5,1173.2C1478.5,1174.3 1482,1174.9 1488.6,1175.5C1495.3,1176 1491.2,1176.2 1513.3,1176.4C1535.4,1176.6 1603.2,1176.4 1621.2,1176.4L1621.2,1176.4C1621.2,1176.7 1621.2,1178.1 1621.2,1178.5L1621.2,1178.5C1603.2,1178.5 1536.1,1178.6 1513.3,1178.5C1490.6,1178.4 1492.8,1178.2 1484.8,1177.9C1476.9,1177.6 1471.6,1176.7 1465.9,1176.6C1460.2,1176.4 1455.4,1176.2 1450.7,1177C1445.9,1177.7 1442.8,1179.4 1437.4,1181.1C1432,1182.9 1424.7,1185.7 1418.4,1187.4C1412.1,1189.1 1405.7,1190.4 1399.4,1191.2C1393.1,1192 1386.7,1192.3 1380.4,1192.2C1374.1,1192.1 1367.4,1191.7 1361.4,1190.6C1355.4,1189.5 1347.2,1186.4 1344.3,1185.5Z" fill="#5cec7c" fill-opacity="1.0"/>
<path d="M1284.5,1196.9C1286.9,1195.6 1293.8,1191.2 1298.7,1189.3C1303.7,1187.4 1308.9,1186.5 1313.9,1185.5C1319,1184.6 1324.7,1183.5 1329.1,1183.6C1333.6,1183.8 1338.6,1186 1340.5,1186.5L1340.5,1186.5C1338.9,1186.9 1335.5,1188.2 1331,1189.3C1326.6,1190.4 1319.3,1191.7 1313.9,1193.1C1308.6,1194.5 1303.2,1196.8 1298.7,1197.9C1294.3,1199 1289.7,1199.9 1287.4,1199.8C1285,1199.6 1285,1197.4 1284.5,1196.9Z" fill="#5cec7c" fill-opacity="1.0"/>
<path d="M1616.8,1177L1621.2,1177L1621.2,1261.5L1616.8,1261.5Z" fill="#6af088" fill-opacity="1.0"/>
<path d="M1209.5,1277.2C1210.1,1275.6 1211.1,1270.3 1213.3,1267.2C1215.5,1264.1 1218.7,1261.3 1222.8,1258.6C1226.9,1255.9 1232.9,1253.2 1238,1251C1243,1248.8 1249.1,1247.4 1253.2,1245.3C1257.3,1243.3 1260.1,1240.6 1262.7,1238.7C1265.2,1236.8 1266.6,1235 1268.4,1233.9C1270.1,1232.9 1271.2,1232.1 1273.1,1232.4C1275,1232.7 1277.4,1234.3 1279.8,1235.8C1282.1,1237.4 1284.8,1240.3 1287.4,1241.5C1289.9,1242.7 1292.7,1243.3 1294.9,1243.1C1297.2,1242.8 1298.1,1240.7 1300.6,1240C1303.2,1239.3 1306.7,1238.7 1310.1,1238.7C1313.6,1238.7 1317.1,1239.1 1321.5,1240C1326,1241 1331.7,1243.3 1336.7,1244.4C1341.8,1245.4 1346.2,1245.8 1351.9,1246.3C1357.6,1246.8 1364.6,1246.6 1370.9,1247.2C1377.2,1247.9 1383.6,1249.1 1389.9,1250.1C1396.2,1251.1 1402.6,1252.5 1408.9,1253.3C1415.2,1254.1 1421.5,1254.5 1427.9,1254.8C1434.2,1255.1 1421.1,1255.1 1446.9,1255.2C1472.7,1255.3 1560,1255.2 1582.6,1255.2L1582.6,1255.2C1582.6,1255.6 1582.6,1257.1 1582.6,1257.5L1582.6,1257.5C1560,1257.5 1472.7,1257.7 1446.9,1257.5C1421.1,1257.3 1434.2,1256.4 1427.9,1256.3C1421.5,1256.3 1415.2,1256.5 1408.9,1257.1C1402.6,1257.7 1396.2,1259.1 1389.9,1260C1383.6,1260.8 1377.2,1261.7 1370.9,1262.4C1364.6,1263.2 1361.4,1263.7 1351.9,1264.3C1342.4,1265 1326.6,1265.8 1313.9,1266.2C1301.3,1266.7 1285.5,1266.8 1276,1267C1266.5,1267.2 1263.3,1267.1 1257,1267.6C1250.6,1268 1243.7,1268.7 1238,1269.4C1232.3,1270.2 1227.5,1271 1222.8,1272.3C1218,1273.6 1211.7,1276.4 1209.5,1277.2Z" fill="#ff0000"/>
<path d="M1276,1261.5C1277.2,1259.7 1281,1253.9 1283.6,1251C1286.1,1248.2 1288.3,1246.2 1291.2,1244.4C1294,1242.5 1297.5,1241 1300.6,1240C1303.8,1239.1 1306.7,1238.7 1310.1,1238.7C1313.6,1238.7 1317.1,1239.1 1321.5,1240C1326,1241 1331.7,1243.3 1336.7,1244.4C1341.8,1245.4 1346.2,1245.8 1351.9,1246.3C1357.6,1246.8 1364.6,1246.6 1370.9,1247.2C1377.2,1247.9 1383.6,1249.1 1389.9,1250.1C1396.2,1251.1 1402.6,1252.5 1408.9,1253.3C1415.2,1254.1 1421.5,1254.5 1427.9,1254.8C1434.2,1255.1 1421.1,1255.1 1446.9,1255.2C1472.7,1255.3 1560,1255.2 1582.6,1255.2L1582.6,1255.2C1582.6,1255.5 1582.6,1256.8 1582.6,1257.1L1582.6,1257.1C1560,1257.1 1472.7,1257.1 1446.9,1257.1C1421.1,1257.1 1434.2,1257 1427.9,1257.1C1421.5,1257.2 1415.2,1257.2 1408.9,1257.7C1402.6,1258.2 1396.2,1259.4 1389.9,1260.1C1383.6,1260.9 1377.2,1261.8 1370.9,1262.4C1364.6,1263.1 1361.4,1263.5 1351.9,1263.9C1342.4,1264.4 1323.4,1265.1 1313.9,1265.3C1304.4,1265.5 1301.3,1265.9 1294.9,1265.3C1288.6,1264.6 1279.1,1262.1 1276,1261.5Z" fill="#ff7878" fill-opacity="1.0"/>
<path d="M1209.5,1265.8C1212.7,1265.3 1222.2,1263.3 1228.5,1262.4C1234.8,1261.5 1241.1,1260.9 1247.5,1260.5C1253.8,1260.1 1261.7,1260 1266.5,1260.1C1271.2,1260.3 1274.4,1261.3 1276,1261.5L1276,1261.5C1274.4,1261.9 1271.2,1263.5 1266.5,1264.3C1261.7,1265.1 1253.8,1265.7 1247.5,1266.2C1241.1,1266.7 1234.8,1267 1228.5,1267.2C1222.2,1267.3 1212.7,1267.2 1209.5,1267.2Z" fill="#ff7878" fill-opacity="1.0"/>
<path d="M1578.5,1255.8L1582.6,1255.8L1582.6,1348.8L1578.5,1348.8Z" fill="#ff8484" fill-opacity="1.0"/>
<line x1="1207.8" y1="1349.7" x2="1207.8" y2="1163" stroke="#4a4a4a" stroke-width="2" />
<line x1="1206.8" y1="1348.7" x2="1583.7" y2="1348.7" stroke="#4a4a4a" stroke-width="2" />
<line x1="1582.7" y1="1348.7" x2="1699.3" y2="1079.6" stroke="#4a4a4a" stroke-width="1.7" />
<line x1="1200.8" y1="1163" x2="1207.8" y2="1163" stroke="#4a4a4a" stroke-width="1.6" />
<text transform="translate(1195.8,1168.2)" font-size="15.5" text-anchor="end" font-weight="bold" fill="#2c2c2c" >3</text>
<line x1="1203.8" y1="1178.5" x2="1207.8" y2="1178.5" stroke="#4a4a4a" stroke-width="1.4" />
<line x1="1200.8" y1="1194" x2="1207.8" y2="1194" stroke="#4a4a4a" stroke-width="1.6" />
<text transform="translate(1195.8,1199.2)" font-size="15.5" text-anchor="end" font-weight="bold" fill="#2c2c2c" >2</text>
<line x1="1203.8" y1="1209.4" x2="1207.8" y2="1209.4" stroke="#4a4a4a" stroke-width="1.4" />
<line x1="1200.8" y1="1224.9" x2="1207.8" y2="1224.9" stroke="#4a4a4a" stroke-width="1.6" />
<text transform="translate(1195.8,1230.1)" font-size="15.5" text-anchor="end" font-weight="bold" fill="#2c2c2c" >1</text>
<line x1="1203.8" y1="1240.4" x2="1207.8" y2="1240.4" stroke="#4a4a4a" stroke-width="1.4" />
<line x1="1200.8" y1="1255.8" x2="1207.8" y2="1255.8" stroke="#4a4a4a" stroke-width="1.6" />
<text transform="translate(1195.8,1261)" font-size="15.5" text-anchor="end" font-weight="bold" fill="#2c2c2c" >0</text>
<line x1="1203.8" y1="1271.3" x2="1207.8" y2="1271.3" stroke="#4a4a4a" stroke-width="1.4" />
<line x1="1200.8" y1="1286.8" x2="1207.8" y2="1286.8" stroke="#4a4a4a" stroke-width="1.6" />
<text transform="translate(1195.8,1292)" font-size="15.5" text-anchor="end" font-weight="bold" fill="#2c2c2c" >-1</text>
<line x1="1203.8" y1="1302.3" x2="1207.8" y2="1302.3" stroke="#4a4a4a" stroke-width="1.4" />
<line x1="1200.8" y1="1317.8" x2="1207.8" y2="1317.8" stroke="#4a4a4a" stroke-width="1.6" />
<text transform="translate(1195.8,1323)" font-size="15.5" text-anchor="end" font-weight="bold" fill="#2c2c2c" >-2</text>
<line x1="1203.8" y1="1333.2" x2="1207.8" y2="1333.2" stroke="#4a4a4a" stroke-width="1.4" />
<line x1="1200.8" y1="1348.7" x2="1207.8" y2="1348.7" stroke="#4a4a4a" stroke-width="1.6" />
<text transform="translate(1195.8,1353.9)" font-size="15.5" text-anchor="end" font-weight="bold" fill="#2c2c2c" >-3</text>
<line x1="1207.8" y1="1348.7" x2="1207.8" y2="1355.7" stroke="#4a4a4a" stroke-width="1.6" />
<text transform="translate(1207.8,1376.2)" font-size="15.5" text-anchor="middle" font-weight="bold" fill="#2c2c2c" >0.0</text>
<line x1="1282.8" y1="1348.7" x2="1282.8" y2="1355.7" stroke="#4a4a4a" stroke-width="1.6" />
<text transform="translate(1282.8,1376.2)" font-size="15.5" text-anchor="middle" font-weight="bold" fill="#2c2c2c" >0.5</text>
<line x1="1357.8" y1="1348.7" x2="1357.8" y2="1355.7" stroke="#4a4a4a" stroke-width="1.6" />
<text transform="translate(1357.8,1376.2)" font-size="15.5" text-anchor="middle" font-weight="bold" fill="#2c2c2c" >1.0</text>
<line x1="1432.7" y1="1348.7" x2="1432.7" y2="1355.7" stroke="#4a4a4a" stroke-width="1.6" />
<text transform="translate(1432.7,1376.2)" font-size="15.5" text-anchor="middle" font-weight="bold" fill="#2c2c2c" >1.5</text>
<line x1="1507.7" y1="1348.7" x2="1507.7" y2="1355.7" stroke="#4a4a4a" stroke-width="1.6" />
<text transform="translate(1507.7,1376.2)" font-size="15.5" text-anchor="middle" font-weight="bold" fill="#2c2c2c" >2.0</text>
<line x1="1582.7" y1="1348.7" x2="1582.7" y2="1355.7" stroke="#4a4a4a" stroke-width="1.6" />
<text transform="translate(1582.7,1376.2)" font-size="15.5" text-anchor="middle" font-weight="bold" fill="#2c2c2c" >2.5</text>
<line x1="1582.7" y1="1348.7" x2="1590.7" y2="1348.7" stroke="#4a4a4a" stroke-width="1.5" />
<text transform="translate(1594.7,1354.3)" font-size="15.5" text-anchor="start" font-weight="bold" fill="#2c2c2c" >1</text>
<line x1="1620.2" y1="1262.1" x2="1627.2" y2="1262.1" stroke="#4a4a4a" stroke-width="1.5" />
<text transform="translate(1631.2,1267)" font-size="13.5" text-anchor="start" font-weight="bold" fill="#2c2c2c" >2</text>
<line x1="1651.8" y1="1189.2" x2="1658" y2="1189.2" stroke="#4a4a4a" stroke-width="1.5" />
<text transform="translate(1662,1193.4)" font-size="11.5" text-anchor="start" font-weight="bold" fill="#2c2c2c" >3</text>
<line x1="1676.8" y1="1131.5" x2="1682.4" y2="1131.5" stroke="#4a4a4a" stroke-width="1.5" />
<text transform="translate(1686.4,1135.1)" font-size="10" text-anchor="start" font-weight="bold" fill="#2c2c2c" >4</text>
<line x1="1699.3" y1="1079.6" x2="1704.3" y2="1079.6" stroke="#4a4a4a" stroke-width="1.5" />
<text transform="translate(1708.3,1082.5)" font-size="8" text-anchor="start" font-weight="bold" fill="#2c2c2c" >5</text>
<text transform="translate(1174.5,1255.8) rotate(-90)" font-size="15.5" text-anchor="middle" font-weight="bold" fill="#1e1e1e" >Current (mA)</text>
<text transform="translate(1395.8,1402.2)" font-size="17" text-anchor="middle" font-weight="bold" fill="#1e1e1e" >Potential (V)</text>
<text transform="translate(1694.7,1193.3) rotate(-66.6) skewX(23.4) scale(1,0.86)" font-size="17.5" text-anchor="middle" font-weight="bold" fill="#1c1c1c">V (mV s<tspan dy="-0.8em" font-size="0.52em">-1</tspan><tspan dy="0.416em">)</tspan></text>
</g>
<text transform="translate(1191,1002.4) scale(0.98,1)" font-size="88.7" text-anchor="middle" font-weight="bold" fill="#000" >k</text>
<rect x="1855" y="1084" width="42.5" height="82.9" fill="#c0c0c0"/>
<rect x="1855" y="1168.7" width="42.5" height="159.2" fill="#008080"/>
<rect x="1948.2" y="1084" width="42.5" height="63.2" fill="#c0c0c0"/>
<rect x="1948.2" y="1149" width="42.5" height="178.9" fill="#008080"/>
<rect x="2042.7" y="1084" width="42.5" height="53.4" fill="#c0c0c0"/>
<rect x="2042.7" y="1139.2" width="42.5" height="188.7" fill="#008080"/>
<rect x="2136.2" y="1084" width="42.5" height="48.5" fill="#c0c0c0"/>
<rect x="2136.2" y="1134.3" width="42.5" height="193.6" fill="#008080"/>
<rect x="2229.8" y="1084" width="42.5" height="46" fill="#c0c0c0"/>
<rect x="2229.8" y="1131.8" width="42.5" height="196.1" fill="#008080"/>
<rect x="1829.2" y="983.7" width="469.4" height="344.2" fill="none" stroke="#2b2b2b" stroke-width="2.5"/>
<line x1="1821.7" y1="983.7" x2="1829.2" y2="983.7" stroke="#2b2b2b" stroke-width="2.4" />
<text transform="translate(1817.3,990.9)" font-size="23" text-anchor="end" font-weight="bold" fill="#262626" >140</text>
<line x1="1821.7" y1="1032.9" x2="1829.2" y2="1032.9" stroke="#2b2b2b" stroke-width="2.4" />
<text transform="translate(1817.3,1040.1)" font-size="23" text-anchor="end" font-weight="bold" fill="#262626" >120</text>
<line x1="1821.7" y1="1082" x2="1829.2" y2="1082" stroke="#2b2b2b" stroke-width="2.4" />
<text transform="translate(1817.3,1089.3)" font-size="23" text-anchor="end" font-weight="bold" fill="#262626" >100</text>
<line x1="1821.7" y1="1131.2" x2="1829.2" y2="1131.2" stroke="#2b2b2b" stroke-width="2.4" />
<text transform="translate(1817.3,1138.5)" font-size="23" text-anchor="end" font-weight="bold" fill="#262626" >80</text>
<line x1="1821.7" y1="1180.4" x2="1829.2" y2="1180.4" stroke="#2b2b2b" stroke-width="2.4" />
<text transform="translate(1817.3,1187.6)" font-size="23" text-anchor="end" font-weight="bold" fill="#262626" >60</text>
<line x1="1821.7" y1="1229.6" x2="1829.2" y2="1229.6" stroke="#2b2b2b" stroke-width="2.4" />
<text transform="translate(1817.3,1236.8)" font-size="23" text-anchor="end" font-weight="bold" fill="#262626" >40</text>
<line x1="1821.7" y1="1278.7" x2="1829.2" y2="1278.7" stroke="#2b2b2b" stroke-width="2.4" />
<text transform="translate(1817.3,1286)" font-size="23" text-anchor="end" font-weight="bold" fill="#262626" >20</text>
<line x1="1821.7" y1="1327.9" x2="1829.2" y2="1327.9" stroke="#2b2b2b" stroke-width="2.4" />
<text transform="translate(1817.3,1335.1)" font-size="23" text-anchor="end" font-weight="bold" fill="#262626" >0</text>
<line x1="1825.7" y1="1008.3" x2="1829.2" y2="1008.3" stroke="#2b2b2b" stroke-width="2.4" />
<line x1="1825.7" y1="1057.5" x2="1829.2" y2="1057.5" stroke="#2b2b2b" stroke-width="2.4" />
<line x1="1825.7" y1="1106.6" x2="1829.2" y2="1106.6" stroke="#2b2b2b" stroke-width="2.4" />
<line x1="1825.7" y1="1155.8" x2="1829.2" y2="1155.8" stroke="#2b2b2b" stroke-width="2.4" />
<line x1="1825.7" y1="1205" x2="1829.2" y2="1205" stroke="#2b2b2b" stroke-width="2.4" />
<line x1="1825.7" y1="1254.1" x2="1829.2" y2="1254.1" stroke="#2b2b2b" stroke-width="2.4" />
<line x1="1825.7" y1="1303.3" x2="1829.2" y2="1303.3" stroke="#2b2b2b" stroke-width="2.4" />
<line x1="1876.2" y1="1327.9" x2="1876.2" y2="1335.4" stroke="#2b2b2b" stroke-width="2.4" />
<text transform="translate(1876.2,1351.7)" font-size="14.5" text-anchor="middle" font-weight="bold" fill="#262626" >1</text>
<line x1="1969.4" y1="1327.9" x2="1969.4" y2="1335.4" stroke="#2b2b2b" stroke-width="2.4" />
<text transform="translate(1969.4,1351.7)" font-size="14.5" text-anchor="middle" font-weight="bold" fill="#262626" >2</text>
<line x1="2063.9" y1="1327.9" x2="2063.9" y2="1335.4" stroke="#2b2b2b" stroke-width="2.4" />
<text transform="translate(2063.9,1351.7)" font-size="14.5" text-anchor="middle" font-weight="bold" fill="#262626" >3</text>
<line x1="2157.5" y1="1327.9" x2="2157.5" y2="1335.4" stroke="#2b2b2b" stroke-width="2.4" />
<text transform="translate(2157.5,1351.7)" font-size="14.5" text-anchor="middle" font-weight="bold" fill="#262626" >4</text>
<line x1="2251" y1="1327.9" x2="2251" y2="1335.4" stroke="#2b2b2b" stroke-width="2.4" />
<text transform="translate(2251,1351.7)" font-size="14.5" text-anchor="middle" font-weight="bold" fill="#262626" >5</text>
<line x1="1922.8" y1="1327.9" x2="1922.8" y2="1331.4" stroke="#2b2b2b" stroke-width="2.4" />
<line x1="2016.7" y1="1327.9" x2="2016.7" y2="1331.4" stroke="#2b2b2b" stroke-width="2.4" />
<line x1="2110.7" y1="1327.9" x2="2110.7" y2="1331.4" stroke="#2b2b2b" stroke-width="2.4" />
<line x1="2204.2" y1="1327.9" x2="2204.2" y2="1331.4" stroke="#2b2b2b" stroke-width="2.4" />
<line x1="1829.6" y1="1327.9" x2="1829.6" y2="1331.4" stroke="#2b2b2b" stroke-width="2.4" />
<rect x="2012.9" y="995.6" width="47.6" height="22.1" fill="#c0c0c0"/>
<rect x="2012.5" y="1025.6" width="48.5" height="23.4" fill="#008080"/>
<text transform="translate(2069.7,1013.7)" font-size="23" text-anchor="start" font-weight="bold" fill="#262626" textLength="221.1" lengthAdjust="spacingAndGlyphs">Diffusion controlled</text>
<text transform="translate(2069.7,1043.9)" font-size="23" text-anchor="start" font-weight="bold" fill="#262626" textLength="109.9" lengthAdjust="spacingAndGlyphs">Capactive</text>
<text transform="translate(1874.4,1132.7)" font-size="23.5" text-anchor="middle" font-weight="bold" fill="#0c0c14" textLength="42.8" lengthAdjust="spacingAndGlyphs">35%</text>
<text transform="translate(1967.6,1123.2)" font-size="23.5" text-anchor="middle" font-weight="bold" fill="#0c0c14" textLength="42.8" lengthAdjust="spacingAndGlyphs">27%</text>
<text transform="translate(2062.1,1117)" font-size="23.5" text-anchor="middle" font-weight="bold" fill="#0c0c14" textLength="42.8" lengthAdjust="spacingAndGlyphs">23%</text>
<text transform="translate(2155.7,1114.7)" font-size="23.5" text-anchor="middle" font-weight="bold" fill="#0c0c14" textLength="42.8" lengthAdjust="spacingAndGlyphs">21%</text>
<text transform="translate(2249.2,1113)" font-size="23.5" text-anchor="middle" font-weight="bold" fill="#0c0c14" textLength="42.8" lengthAdjust="spacingAndGlyphs">20%</text>
<text transform="translate(1874.4,1255.8)" font-size="23.5" text-anchor="middle" font-weight="bold" fill="#ffffff" textLength="42.8" lengthAdjust="spacingAndGlyphs">65%</text>
<text transform="translate(1967.6,1246.3)" font-size="23.5" text-anchor="middle" font-weight="bold" fill="#ffffff" textLength="42.8" lengthAdjust="spacingAndGlyphs">73%</text>
<text transform="translate(2062.1,1239.8)" font-size="23.5" text-anchor="middle" font-weight="bold" fill="#ffffff" textLength="42.8" lengthAdjust="spacingAndGlyphs">77%</text>
<text transform="translate(2155.7,1238.1)" font-size="23.5" text-anchor="middle" font-weight="bold" fill="#ffffff" textLength="42.8" lengthAdjust="spacingAndGlyphs">79%</text>
<text transform="translate(2249.2,1236.4)" font-size="23.5" text-anchor="middle" font-weight="bold" fill="#ffffff" textLength="42.8" lengthAdjust="spacingAndGlyphs">80%</text>
<text transform="translate(2064.4,1376.6)" font-size="23" text-anchor="middle" font-weight="bold" fill="#262626" textLength="213.3" lengthAdjust="spacingAndGlyphs">Sweep rate (mV s<tspan dy="-0.8em" font-size="0.52em">-1</tspan><tspan dy="0.416em">)</tspan></text>
<text transform="translate(1771,1153.8) rotate(-90)" font-size="23" text-anchor="middle" font-weight="bold" fill="#262626" textLength="241" lengthAdjust="spacingAndGlyphs">Contribution ratio (%)</text>
<text transform="translate(1744,1000.7)" font-size="86" text-anchor="middle" font-weight="bold" fill="#000" >l</text>
</svg>
</body></html>
